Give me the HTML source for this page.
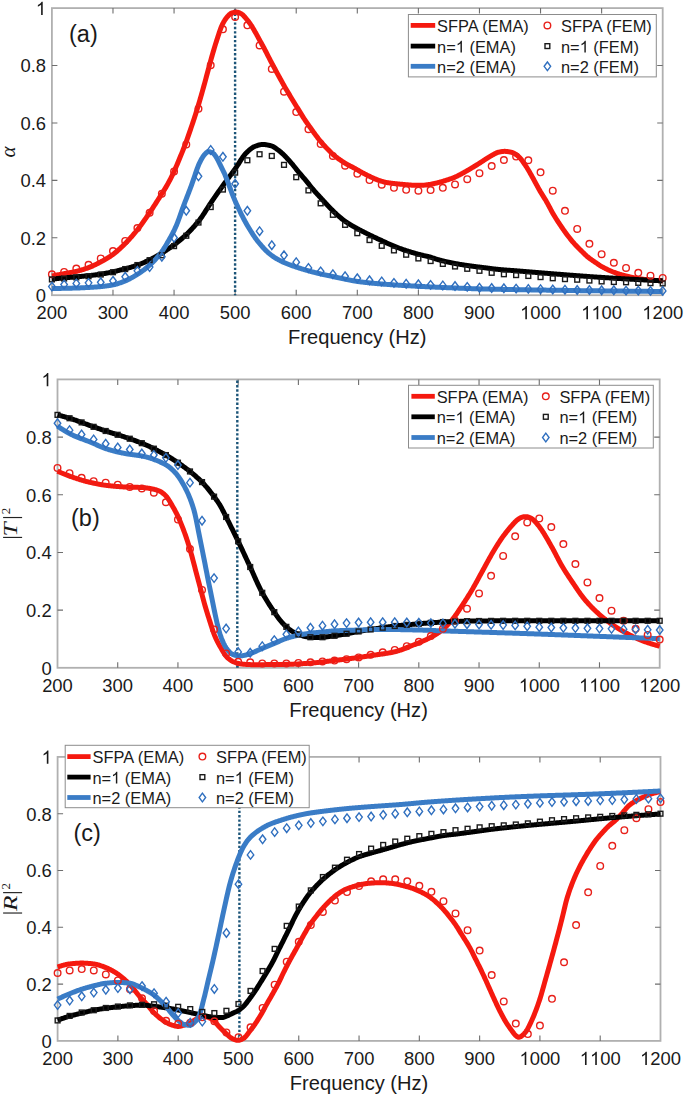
<!DOCTYPE html>
<html><head><meta charset="utf-8"><style>
html,body{margin:0;padding:0;background:#fff;}
body{width:685px;height:1094px;overflow:hidden;}
svg{display:block;font-family:"Liberation Sans", sans-serif;}
</style></head><body>
<svg width="685" height="1094" viewBox="0 0 685 1094">
<rect width="685" height="1094" fill="#fff"/>
<rect x="51.90" y="8.10" width="610.80" height="287.10" fill="none" stroke="#b0b0b0" stroke-width="1.8"/>
<path d="M112.98 295.20V289.70M112.98 8.10V13.60M174.06 295.20V289.70M174.06 8.10V13.60M235.14 295.20V289.70M235.14 8.10V13.60M296.22 295.20V289.70M296.22 8.10V13.60M357.30 295.20V289.70M357.30 8.10V13.60M418.38 295.20V289.70M418.38 8.10V13.60M479.46 295.20V289.70M479.46 8.10V13.60M540.54 295.20V289.70M540.54 8.10V13.60M601.62 295.20V289.70M601.62 8.10V13.60M51.90 237.78H57.40M662.70 237.78H657.20M51.90 180.36H57.40M662.70 180.36H657.20M51.90 122.94H57.40M662.70 122.94H657.20M51.90 65.52H57.40M662.70 65.52H657.20" stroke="#6e6e6e" stroke-width="1.1" fill="none"/>
<line x1="235.10" y1="9.30" x2="235.10" y2="295.20" stroke="#1b5478" stroke-width="2.4" stroke-dasharray="2.4 1.98"/>
<g fill="none" stroke-width="5.0" stroke-linejoin="round" stroke-linecap="butt">
<path d="M51.90 275.96L52.51 275.85L53.12 275.73L53.73 275.62L54.34 275.50L54.95 275.39L55.56 275.28L56.18 275.16L56.79 275.05L57.40 274.93L58.01 274.82L58.62 274.70L59.23 274.59L59.84 274.47L60.45 274.36L61.06 274.24L61.67 274.13L62.28 274.01L62.89 273.90L63.51 273.78L64.12 273.67L64.73 273.55L65.34 273.44L65.95 273.33L66.56 273.23L67.17 273.12L67.78 273.01L68.39 272.91L69.00 272.80L69.61 272.69L70.22 272.59L70.83 272.48L71.45 272.37L72.06 272.26L72.67 272.14L73.28 272.02L73.89 271.90L74.50 271.77L75.11 271.64L75.72 271.51L76.33 271.37L76.94 271.23L77.55 271.08L78.16 270.92L78.78 270.76L79.39 270.60L80.00 270.43L80.61 270.26L81.22 270.08L81.83 269.90L82.44 269.71L83.05 269.52L83.66 269.33L84.27 269.13L84.88 268.93L85.49 268.72L86.10 268.51L86.72 268.30L87.33 268.08L87.94 267.86L88.55 267.64L89.16 267.41L89.77 267.17L90.38 266.92L90.99 266.67L91.60 266.41L92.21 266.14L92.82 265.87L93.43 265.59L94.05 265.30L94.66 265.01L95.27 264.72L95.88 264.42L96.49 264.11L97.10 263.81L97.71 263.49L98.32 263.18L98.93 262.86L99.54 262.54L100.15 262.22L100.76 261.90L101.37 261.57L101.99 261.24L102.60 260.91L103.21 260.57L103.82 260.23L104.43 259.89L105.04 259.54L105.65 259.19L106.26 258.83L106.87 258.46L107.48 258.09L108.09 257.71L108.70 257.33L109.32 256.94L109.93 256.54L110.54 256.14L111.15 255.72L111.76 255.30L112.37 254.87L112.98 254.43L113.59 253.98L114.20 253.52L114.81 253.04L115.42 252.55L116.03 252.05L116.64 251.54L117.26 251.02L117.87 250.48L118.48 249.94L119.09 249.39L119.70 248.83L120.31 248.26L120.92 247.69L121.53 247.11L122.14 246.52L122.75 245.93L123.36 245.34L123.97 244.73L124.59 244.13L125.20 243.52L125.81 242.91L126.42 242.29L127.03 241.66L127.64 241.02L128.25 240.37L128.86 239.71L129.47 239.05L130.08 238.38L130.69 237.70L131.30 237.01L131.91 236.32L132.53 235.62L133.14 234.91L133.75 234.19L134.36 233.47L134.97 232.73L135.58 232.00L136.19 231.25L136.80 230.50L137.41 229.74L138.02 228.97L138.63 228.19L139.24 227.40L139.86 226.59L140.47 225.77L141.08 224.95L141.69 224.11L142.30 223.26L142.91 222.41L143.52 221.55L144.13 220.68L144.74 219.81L145.35 218.93L145.96 218.05L146.57 217.16L147.18 216.27L147.80 215.38L148.41 214.49L149.02 213.59L149.63 212.69L150.24 211.79L150.85 210.87L151.46 209.95L152.07 209.03L152.68 208.09L153.29 207.16L153.90 206.22L154.51 205.27L155.13 204.32L155.74 203.37L156.35 202.41L156.96 201.45L157.57 200.49L158.18 199.53L158.79 198.57L159.40 197.60L160.01 196.64L160.62 195.67L161.23 194.71L161.84 193.76L162.45 192.80L163.07 191.84L163.68 190.88L164.29 189.90L164.90 188.91L165.51 187.90L166.12 186.87L166.73 185.81L167.34 184.73L167.95 183.63L168.56 182.52L169.17 181.38L169.78 180.22L170.40 179.04L171.01 177.84L171.62 176.62L172.23 175.38L172.84 174.11L173.45 172.82L174.06 171.49L174.67 170.13L175.28 168.73L175.89 167.31L176.50 165.87L177.11 164.42L177.72 162.95L178.34 161.47L178.95 160.00L179.56 158.53L180.17 157.05L180.78 155.57L181.39 154.08L182.00 152.58L182.61 151.06L183.22 149.53L183.83 147.97L184.44 146.40L185.05 144.80L185.67 143.17L186.28 141.51L186.89 139.83L187.50 138.12L188.11 136.39L188.72 134.64L189.33 132.88L189.94 131.11L190.55 129.32L191.16 127.53L191.77 125.74L192.38 123.93L192.99 122.11L193.61 120.28L194.22 118.43L194.83 116.56L195.44 114.68L196.05 112.76L196.66 110.82L197.27 108.85L197.88 106.85L198.49 104.81L199.10 102.75L199.71 100.65L200.32 98.54L200.94 96.41L201.55 94.26L202.16 92.10L202.77 89.93L203.38 87.75L203.99 85.54L204.60 83.30L205.21 81.05L205.82 78.78L206.43 76.52L207.04 74.25L207.65 72.00L208.26 69.75L208.88 67.48L209.49 65.20L210.10 62.92L210.71 60.67L211.32 58.44L211.93 56.25L212.54 54.11L213.15 52.01L213.76 49.93L214.37 47.88L214.98 45.86L215.59 43.87L216.21 41.93L216.82 40.02L217.43 38.16L218.04 36.30L218.65 34.42L219.26 32.57L219.87 30.76L220.48 29.04L221.09 27.43L221.70 25.96L222.31 24.66L222.92 23.46L223.53 22.31L224.15 21.23L224.76 20.23L225.37 19.29L225.98 18.43L226.59 17.65L227.20 16.94L227.81 16.24L228.42 15.56L229.03 14.92L229.64 14.33L230.25 13.82L230.86 13.40L231.48 13.09L232.09 12.89L232.70 12.72L233.31 12.57L233.92 12.43L234.53 12.31L235.14 12.22L235.75 12.15L236.36 12.12L236.97 12.13L237.58 12.22L238.19 12.38L238.80 12.59L239.42 12.85L240.03 13.14L240.64 13.45L241.25 13.78L241.86 14.14L242.47 14.61L243.08 15.18L243.69 15.81L244.30 16.50L244.91 17.22L245.52 17.94L246.13 18.65L246.75 19.36L247.36 20.09L247.97 20.85L248.58 21.64L249.19 22.45L249.80 23.29L250.41 24.15L251.02 25.04L251.63 25.97L252.24 26.94L252.85 27.96L253.46 29.00L254.07 30.06L254.69 31.14L255.30 32.22L255.91 33.29L256.52 34.37L257.13 35.47L257.74 36.58L258.35 37.70L258.96 38.83L259.57 39.95L260.18 41.08L260.79 42.20L261.40 43.32L262.02 44.43L262.63 45.55L263.24 46.67L263.85 47.79L264.46 48.92L265.07 50.07L265.68 51.23L266.29 52.41L266.90 53.61L267.51 54.82L268.12 56.03L268.73 57.25L269.34 58.45L269.96 59.65L270.57 60.82L271.18 61.98L271.79 63.13L272.40 64.27L273.01 65.40L273.62 66.54L274.23 67.67L274.84 68.80L275.45 69.93L276.06 71.07L276.67 72.20L277.29 73.33L277.90 74.45L278.51 75.58L279.12 76.70L279.73 77.82L280.34 78.93L280.95 80.05L281.56 81.17L282.17 82.29L282.78 83.39L283.39 84.50L284.00 85.58L284.61 86.66L285.23 87.72L285.84 88.76L286.45 89.79L287.06 90.82L287.67 91.84L288.28 92.85L288.89 93.87L289.50 94.89L290.11 95.91L290.72 96.93L291.33 97.96L291.94 98.98L292.56 99.99L293.17 101.01L293.78 102.01L294.39 103.01L295.00 104.00L295.61 104.99L296.22 105.97L296.83 106.96L297.44 107.94L298.05 108.92L298.66 109.90L299.27 110.88L299.88 111.87L300.50 112.86L301.11 113.86L301.72 114.85L302.33 115.85L302.94 116.83L303.55 117.80L304.16 118.76L304.77 119.70L305.38 120.62L305.99 121.52L306.60 122.40L307.21 123.27L307.83 124.14L308.44 124.99L309.05 125.84L309.66 126.69L310.27 127.54L310.88 128.39L311.49 129.25L312.10 130.12L312.71 130.98L313.32 131.84L313.93 132.70L314.54 133.55L315.15 134.39L315.77 135.22L316.38 136.03L316.99 136.83L317.60 137.62L318.21 138.41L318.82 139.18L319.43 139.95L320.04 140.71L320.65 141.45L321.26 142.18L321.87 142.90L322.48 143.61L323.10 144.30L323.71 144.99L324.32 145.66L324.93 146.32L325.54 146.97L326.15 147.61L326.76 148.24L327.37 148.87L327.98 149.49L328.59 150.11L329.20 150.73L329.81 151.35L330.42 151.96L331.04 152.56L331.65 153.16L332.26 153.74L332.87 154.31L333.48 154.85L334.09 155.38L334.70 155.89L335.31 156.38L335.92 156.86L336.53 157.33L337.14 157.79L337.75 158.24L338.37 158.68L338.98 159.12L339.59 159.55L340.20 159.98L340.81 160.40L341.42 160.83L342.03 161.25L342.64 161.66L343.25 162.06L343.86 162.46L344.47 162.85L345.08 163.23L345.69 163.60L346.31 163.96L346.92 164.30L347.53 164.63L348.14 164.95L348.75 165.27L349.36 165.58L349.97 165.89L350.58 166.19L351.19 166.50L351.80 166.81L352.41 167.11L353.02 167.43L353.64 167.75L354.25 168.08L354.86 168.42L355.47 168.76L356.08 169.11L356.69 169.47L357.30 169.82L357.91 170.18L358.52 170.53L359.13 170.89L359.74 171.24L360.35 171.59L360.96 171.94L361.58 172.28L362.19 172.61L362.80 172.93L363.41 173.26L364.02 173.58L364.63 173.90L365.24 174.22L365.85 174.53L366.46 174.84L367.07 175.15L367.68 175.45L368.29 175.75L368.91 176.05L369.52 176.34L370.13 176.63L370.74 176.91L371.35 177.20L371.96 177.49L372.57 177.77L373.18 178.05L373.79 178.33L374.40 178.61L375.01 178.87L375.62 179.13L376.23 179.38L376.85 179.62L377.46 179.85L378.07 180.07L378.68 180.28L379.29 180.49L379.90 180.70L380.51 180.90L381.12 181.09L381.73 181.28L382.34 181.46L382.95 181.64L383.56 181.81L384.18 181.96L384.79 182.11L385.40 182.25L386.01 182.37L386.62 182.48L387.23 182.59L387.84 182.70L388.45 182.79L389.06 182.89L389.67 182.98L390.28 183.06L390.89 183.14L391.50 183.22L392.12 183.30L392.73 183.37L393.34 183.45L393.95 183.52L394.56 183.59L395.17 183.66L395.78 183.72L396.39 183.79L397.00 183.85L397.61 183.91L398.22 183.97L398.83 184.03L399.45 184.09L400.06 184.15L400.67 184.20L401.28 184.26L401.89 184.31L402.50 184.36L403.11 184.41L403.72 184.47L404.33 184.52L404.94 184.57L405.55 184.62L406.16 184.67L406.77 184.72L407.39 184.77L408.00 184.83L408.61 184.89L409.22 184.95L409.83 185.01L410.44 185.06L411.05 185.11L411.66 185.15L412.27 185.19L412.88 185.22L413.49 185.23L414.10 185.24L414.72 185.24L415.33 185.24L415.94 185.24L416.55 185.24L417.16 185.24L417.77 185.24L418.38 185.24L418.99 185.24L419.60 185.24L420.21 185.24L420.82 185.24L421.43 185.24L422.04 185.24L422.66 185.23L423.27 185.21L423.88 185.17L424.49 185.12L425.10 185.06L425.71 184.99L426.32 184.91L426.93 184.83L427.54 184.74L428.15 184.65L428.76 184.56L429.37 184.47L429.99 184.38L430.60 184.29L431.21 184.18L431.82 184.07L432.43 183.95L433.04 183.82L433.65 183.69L434.26 183.55L434.87 183.41L435.48 183.26L436.09 183.11L436.70 182.96L437.31 182.81L437.93 182.66L438.54 182.50L439.15 182.34L439.76 182.18L440.37 182.01L440.98 181.84L441.59 181.66L442.20 181.49L442.81 181.30L443.42 181.12L444.03 180.93L444.64 180.74L445.26 180.55L445.87 180.36L446.48 180.17L447.09 179.97L447.70 179.78L448.31 179.58L448.92 179.38L449.53 179.18L450.14 178.97L450.75 178.76L451.36 178.54L451.97 178.32L452.58 178.09L453.20 177.86L453.81 177.61L454.42 177.36L455.03 177.10L455.64 176.82L456.25 176.54L456.86 176.25L457.47 175.94L458.08 175.63L458.69 175.32L459.30 175.00L459.91 174.68L460.53 174.35L461.14 174.03L461.75 173.70L462.36 173.37L462.97 173.04L463.58 172.70L464.19 172.36L464.80 172.02L465.41 171.67L466.02 171.32L466.63 170.96L467.24 170.60L467.85 170.25L468.47 169.89L469.08 169.52L469.69 169.16L470.30 168.80L470.91 168.44L471.52 168.08L472.13 167.72L472.74 167.35L473.35 166.99L473.96 166.62L474.57 166.25L475.18 165.88L475.80 165.51L476.41 165.13L477.02 164.76L477.63 164.38L478.24 164.00L478.85 163.61L479.46 163.22L480.07 162.82L480.68 162.42L481.29 162.01L481.90 161.61L482.51 161.20L483.12 160.80L483.74 160.40L484.35 160.00L484.96 159.60L485.57 159.21L486.18 158.83L486.79 158.45L487.40 158.06L488.01 157.68L488.62 157.30L489.23 156.92L489.84 156.55L490.45 156.18L491.07 155.82L491.68 155.47L492.29 155.13L492.90 154.81L493.51 154.48L494.12 154.14L494.73 153.80L495.34 153.47L495.95 153.15L496.56 152.86L497.17 152.60L497.78 152.39L498.39 152.22L499.01 152.09L499.62 151.96L500.23 151.84L500.84 151.73L501.45 151.63L502.06 151.54L502.67 151.46L503.28 151.41L503.89 151.37L504.50 151.36L505.11 151.37L505.72 151.40L506.34 151.44L506.95 151.50L507.56 151.58L508.17 151.66L508.78 151.76L509.39 151.86L510.00 151.98L510.61 152.10L511.22 152.22L511.83 152.38L512.44 152.58L513.05 152.83L513.66 153.13L514.28 153.46L514.89 153.83L515.50 154.22L516.11 154.65L516.72 155.09L517.33 155.56L517.94 156.04L518.55 156.53L519.16 157.07L519.77 157.68L520.38 158.36L520.99 159.10L521.61 159.89L522.22 160.72L522.83 161.58L523.44 162.46L524.05 163.35L524.66 164.25L525.27 165.14L525.88 166.05L526.49 166.99L527.10 167.97L527.71 168.97L528.32 169.99L528.93 171.04L529.55 172.10L530.16 173.17L530.77 174.25L531.38 175.33L531.99 176.41L532.60 177.49L533.21 178.58L533.82 179.69L534.43 180.82L535.04 181.96L535.65 183.10L536.26 184.25L536.88 185.40L537.49 186.54L538.10 187.66L538.71 188.76L539.32 189.83L539.93 190.88L540.54 191.91L541.15 192.91L541.76 193.90L542.37 194.89L542.98 195.86L543.59 196.84L544.20 197.82L544.82 198.81L545.43 199.82L546.04 200.84L546.65 201.89L547.26 202.97L547.87 204.08L548.48 205.21L549.09 206.36L549.70 207.52L550.31 208.68L550.92 209.83L551.53 210.97L552.15 212.09L552.76 213.18L553.37 214.24L553.98 215.26L554.59 216.27L555.20 217.27L555.81 218.25L556.42 219.22L557.03 220.17L557.64 221.12L558.25 222.05L558.86 222.98L559.47 223.90L560.09 224.81L560.70 225.72L561.31 226.63L561.92 227.52L562.53 228.41L563.14 229.30L563.75 230.17L564.36 231.04L564.97 231.89L565.58 232.74L566.19 233.57L566.80 234.39L567.42 235.20L568.03 235.99L568.64 236.78L569.25 237.55L569.86 238.32L570.47 239.08L571.08 239.83L571.69 240.56L572.30 241.29L572.91 242.01L573.52 242.72L574.13 243.41L574.74 244.10L575.36 244.77L575.97 245.43L576.58 246.07L577.19 246.71L577.80 247.34L578.41 247.96L579.02 248.57L579.63 249.18L580.24 249.79L580.85 250.39L581.46 250.99L582.07 251.59L582.69 252.19L583.30 252.80L583.91 253.40L584.52 254.00L585.13 254.58L585.74 255.16L586.35 255.72L586.96 256.27L587.57 256.80L588.18 257.30L588.79 257.79L589.40 258.26L590.01 258.71L590.63 259.15L591.24 259.58L591.85 260.00L592.46 260.42L593.07 260.83L593.68 261.24L594.29 261.65L594.90 262.06L595.51 262.47L596.12 262.89L596.73 263.31L597.34 263.73L597.96 264.16L598.57 264.57L599.18 264.98L599.79 265.38L600.40 265.77L601.01 266.14L601.62 266.49L602.23 266.83L602.84 267.16L603.45 267.49L604.06 267.82L604.67 268.13L605.28 268.45L605.90 268.76L606.51 269.06L607.12 269.36L607.73 269.65L608.34 269.93L608.95 270.21L609.56 270.49L610.17 270.76L610.78 271.02L611.39 271.27L612.00 271.52L612.61 271.77L613.23 272.00L613.84 272.23L614.45 272.46L615.06 272.68L615.67 272.89L616.28 273.10L616.89 273.31L617.50 273.51L618.11 273.71L618.72 273.90L619.33 274.09L619.94 274.28L620.55 274.47L621.17 274.65L621.78 274.82L622.39 274.99L623.00 275.16L623.61 275.33L624.22 275.49L624.83 275.65L625.44 275.81L626.05 275.96L626.66 276.12L627.27 276.27L627.88 276.42L628.50 276.56L629.11 276.71L629.72 276.86L630.33 277.00L630.94 277.14L631.55 277.27L632.16 277.41L632.77 277.54L633.38 277.67L633.99 277.79L634.60 277.91L635.21 278.03L635.82 278.14L636.44 278.25L637.05 278.35L637.66 278.45L638.27 278.55L638.88 278.64L639.49 278.73L640.10 278.81L640.71 278.90L641.32 278.98L641.93 279.06L642.54 279.14L643.15 279.22L643.77 279.29L644.38 279.36L644.99 279.43L645.60 279.50L646.21 279.57L646.82 279.63L647.43 279.69L648.04 279.76L648.65 279.82L649.26 279.87L649.87 279.93L650.48 279.98L651.09 280.04L651.71 280.09L652.32 280.14L652.93 280.19L653.54 280.24L654.15 280.29L654.76 280.34L655.37 280.39L655.98 280.43L656.59 280.48L657.20 280.52L657.81 280.56L658.42 280.60L659.04 280.64L659.65 280.68L660.26 280.72L660.87 280.75L661.48 280.78L662.09 280.82L662.70 280.84" stroke="#f5190f"/>
<path d="M51.90 279.12L52.51 279.05L53.12 278.99L53.73 278.92L54.34 278.85L54.95 278.78L55.56 278.72L56.18 278.65L56.79 278.59L57.40 278.52L58.01 278.46L58.62 278.40L59.23 278.33L59.84 278.27L60.45 278.21L61.06 278.15L61.67 278.09L62.28 278.03L62.89 277.97L63.51 277.92L64.12 277.86L64.73 277.81L65.34 277.75L65.95 277.70L66.56 277.65L67.17 277.59L67.78 277.54L68.39 277.49L69.00 277.44L69.61 277.39L70.22 277.34L70.83 277.29L71.45 277.24L72.06 277.19L72.67 277.14L73.28 277.09L73.89 277.04L74.50 276.99L75.11 276.93L75.72 276.88L76.33 276.83L76.94 276.77L77.55 276.72L78.16 276.66L78.78 276.61L79.39 276.55L80.00 276.50L80.61 276.44L81.22 276.39L81.83 276.33L82.44 276.28L83.05 276.22L83.66 276.16L84.27 276.11L84.88 276.05L85.49 275.99L86.10 275.93L86.72 275.87L87.33 275.81L87.94 275.74L88.55 275.68L89.16 275.61L89.77 275.55L90.38 275.48L90.99 275.41L91.60 275.34L92.21 275.27L92.82 275.20L93.43 275.13L94.05 275.06L94.66 274.98L95.27 274.91L95.88 274.83L96.49 274.75L97.10 274.67L97.71 274.59L98.32 274.51L98.93 274.42L99.54 274.33L100.15 274.24L100.76 274.15L101.37 274.05L101.99 273.95L102.60 273.85L103.21 273.75L103.82 273.64L104.43 273.53L105.04 273.42L105.65 273.31L106.26 273.19L106.87 273.07L107.48 272.95L108.09 272.83L108.70 272.71L109.32 272.59L109.93 272.46L110.54 272.33L111.15 272.20L111.76 272.08L112.37 271.94L112.98 271.81L113.59 271.68L114.20 271.54L114.81 271.40L115.42 271.25L116.03 271.11L116.64 270.96L117.26 270.81L117.87 270.66L118.48 270.50L119.09 270.35L119.70 270.19L120.31 270.03L120.92 269.88L121.53 269.72L122.14 269.56L122.75 269.40L123.36 269.23L123.97 269.07L124.59 268.91L125.20 268.75L125.81 268.59L126.42 268.44L127.03 268.28L127.64 268.12L128.25 267.96L128.86 267.79L129.47 267.63L130.08 267.47L130.69 267.30L131.30 267.13L131.91 266.95L132.53 266.78L133.14 266.60L133.75 266.41L134.36 266.22L134.97 266.03L135.58 265.83L136.19 265.63L136.80 265.42L137.41 265.20L138.02 264.98L138.63 264.75L139.24 264.51L139.86 264.27L140.47 264.02L141.08 263.77L141.69 263.51L142.30 263.25L142.91 262.99L143.52 262.72L144.13 262.45L144.74 262.17L145.35 261.89L145.96 261.61L146.57 261.32L147.18 261.04L147.80 260.75L148.41 260.46L149.02 260.17L149.63 259.87L150.24 259.57L150.85 259.27L151.46 258.96L152.07 258.64L152.68 258.32L153.29 258.00L153.90 257.68L154.51 257.35L155.13 257.01L155.74 256.68L156.35 256.34L156.96 255.99L157.57 255.64L158.18 255.29L158.79 254.94L159.40 254.58L160.01 254.22L160.62 253.86L161.23 253.49L161.84 253.12L162.45 252.74L163.07 252.36L163.68 251.97L164.29 251.58L164.90 251.18L165.51 250.78L166.12 250.37L166.73 249.96L167.34 249.55L167.95 249.13L168.56 248.71L169.17 248.29L169.78 247.86L170.40 247.42L171.01 246.99L171.62 246.55L172.23 246.11L172.84 245.66L173.45 245.21L174.06 244.76L174.67 244.31L175.28 243.86L175.89 243.40L176.50 242.93L177.11 242.47L177.72 241.99L178.34 241.52L178.95 241.03L179.56 240.54L180.17 240.04L180.78 239.54L181.39 239.03L182.00 238.51L182.61 237.98L183.22 237.45L183.83 236.90L184.44 236.34L185.05 235.78L185.67 235.21L186.28 234.63L186.89 234.04L187.50 233.45L188.11 232.84L188.72 232.23L189.33 231.61L189.94 230.98L190.55 230.34L191.16 229.70L191.77 229.04L192.38 228.38L192.99 227.70L193.61 227.02L194.22 226.33L194.83 225.63L195.44 224.92L196.05 224.20L196.66 223.48L197.27 222.74L197.88 221.99L198.49 221.24L199.10 220.47L199.71 219.69L200.32 218.89L200.94 218.06L201.55 217.21L202.16 216.32L202.77 215.42L203.38 214.49L203.99 213.55L204.60 212.60L205.21 211.63L205.82 210.66L206.43 209.69L207.04 208.72L207.65 207.75L208.26 206.78L208.88 205.82L209.49 204.88L210.10 203.95L210.71 203.04L211.32 202.14L211.93 201.25L212.54 200.35L213.15 199.46L213.76 198.57L214.37 197.69L214.98 196.80L215.59 195.92L216.21 195.04L216.82 194.17L217.43 193.29L218.04 192.42L218.65 191.55L219.26 190.69L219.87 189.82L220.48 188.96L221.09 188.10L221.70 187.24L222.31 186.38L222.92 185.53L223.53 184.68L224.15 183.83L224.76 182.99L225.37 182.16L225.98 181.33L226.59 180.50L227.20 179.67L227.81 178.85L228.42 178.03L229.03 177.20L229.64 176.38L230.25 175.56L230.86 174.74L231.48 173.91L232.09 173.08L232.70 172.25L233.31 171.41L233.92 170.57L234.53 169.73L235.14 168.88L235.75 168.00L236.36 167.10L236.97 166.18L237.58 165.23L238.19 164.28L238.80 163.31L239.42 162.34L240.03 161.38L240.64 160.42L241.25 159.48L241.86 158.55L242.47 157.66L243.08 156.79L243.69 155.95L244.30 155.16L244.91 154.42L245.52 153.72L246.13 153.09L246.75 152.48L247.36 151.89L247.97 151.30L248.58 150.73L249.19 150.17L249.80 149.64L250.41 149.13L251.02 148.64L251.63 148.19L252.24 147.77L252.85 147.38L253.46 147.04L254.07 146.74L254.69 146.48L255.30 146.25L255.91 146.02L256.52 145.80L257.13 145.58L257.74 145.38L258.35 145.19L258.96 145.02L259.57 144.86L260.18 144.73L260.79 144.62L261.40 144.54L262.02 144.49L262.63 144.47L263.24 144.48L263.85 144.51L264.46 144.55L265.07 144.61L265.68 144.68L266.29 144.77L266.90 144.87L267.51 144.97L268.12 145.09L268.73 145.21L269.34 145.35L269.96 145.48L270.57 145.62L271.18 145.79L271.79 146.00L272.40 146.26L273.01 146.56L273.62 146.89L274.23 147.25L274.84 147.65L275.45 148.06L276.06 148.49L276.67 148.94L277.29 149.40L277.90 149.87L278.51 150.33L279.12 150.80L279.73 151.26L280.34 151.74L280.95 152.25L281.56 152.78L282.17 153.33L282.78 153.89L283.39 154.48L284.00 155.08L284.61 155.70L285.23 156.33L285.84 156.97L286.45 157.61L287.06 158.27L287.67 158.93L288.28 159.60L288.89 160.27L289.50 160.94L290.11 161.61L290.72 162.30L291.33 163.01L291.94 163.74L292.56 164.48L293.17 165.24L293.78 166.00L294.39 166.77L295.00 167.54L295.61 168.31L296.22 169.08L296.83 169.83L297.44 170.58L298.05 171.32L298.66 172.05L299.27 172.77L299.88 173.48L300.50 174.20L301.11 174.91L301.72 175.62L302.33 176.33L302.94 177.04L303.55 177.76L304.16 178.47L304.77 179.19L305.38 179.92L305.99 180.65L306.60 181.39L307.21 182.14L307.83 182.89L308.44 183.65L309.05 184.42L309.66 185.19L310.27 185.95L310.88 186.72L311.49 187.47L312.10 188.22L312.71 188.96L313.32 189.69L313.93 190.41L314.54 191.11L315.15 191.80L315.77 192.49L316.38 193.17L316.99 193.84L317.60 194.50L318.21 195.16L318.82 195.82L319.43 196.48L320.04 197.14L320.65 197.79L321.26 198.45L321.87 199.11L322.48 199.77L323.10 200.44L323.71 201.11L324.32 201.78L324.93 202.45L325.54 203.12L326.15 203.79L326.76 204.45L327.37 205.11L327.98 205.76L328.59 206.41L329.20 207.04L329.81 207.67L330.42 208.29L331.04 208.91L331.65 209.53L332.26 210.14L332.87 210.75L333.48 211.35L334.09 211.95L334.70 212.54L335.31 213.12L335.92 213.69L336.53 214.26L337.14 214.81L337.75 215.35L338.37 215.88L338.98 216.41L339.59 216.93L340.20 217.44L340.81 217.95L341.42 218.45L342.03 218.94L342.64 219.42L343.25 219.89L343.86 220.36L344.47 220.81L345.08 221.26L345.69 221.69L346.31 222.12L346.92 222.53L347.53 222.93L348.14 223.32L348.75 223.71L349.36 224.09L349.97 224.46L350.58 224.82L351.19 225.18L351.80 225.54L352.41 225.89L353.02 226.24L353.64 226.59L354.25 226.94L354.86 227.28L355.47 227.62L356.08 227.96L356.69 228.29L357.30 228.62L357.91 228.94L358.52 229.27L359.13 229.59L359.74 229.91L360.35 230.23L360.96 230.54L361.58 230.86L362.19 231.18L362.80 231.49L363.41 231.81L364.02 232.12L364.63 232.44L365.24 232.75L365.85 233.06L366.46 233.37L367.07 233.68L367.68 233.99L368.29 234.29L368.91 234.60L369.52 234.90L370.13 235.20L370.74 235.49L371.35 235.79L371.96 236.08L372.57 236.37L373.18 236.66L373.79 236.95L374.40 237.24L375.01 237.53L375.62 237.81L376.23 238.10L376.85 238.38L377.46 238.66L378.07 238.95L378.68 239.23L379.29 239.51L379.90 239.79L380.51 240.08L381.12 240.36L381.73 240.64L382.34 240.93L382.95 241.21L383.56 241.50L384.18 241.78L384.79 242.07L385.40 242.35L386.01 242.63L386.62 242.91L387.23 243.19L387.84 243.47L388.45 243.74L389.06 244.01L389.67 244.28L390.28 244.54L390.89 244.80L391.50 245.06L392.12 245.32L392.73 245.57L393.34 245.83L393.95 246.08L394.56 246.33L395.17 246.58L395.78 246.82L396.39 247.06L397.00 247.30L397.61 247.54L398.22 247.78L398.83 248.01L399.45 248.24L400.06 248.47L400.67 248.69L401.28 248.91L401.89 249.13L402.50 249.34L403.11 249.56L403.72 249.77L404.33 249.98L404.94 250.18L405.55 250.39L406.16 250.59L406.77 250.79L407.39 250.99L408.00 251.19L408.61 251.38L409.22 251.57L409.83 251.76L410.44 251.95L411.05 252.13L411.66 252.32L412.27 252.50L412.88 252.68L413.49 252.86L414.10 253.03L414.72 253.21L415.33 253.38L415.94 253.55L416.55 253.72L417.16 253.88L417.77 254.05L418.38 254.21L418.99 254.37L419.60 254.53L420.21 254.69L420.82 254.85L421.43 255.01L422.04 255.16L422.66 255.30L423.27 255.45L423.88 255.58L424.49 255.72L425.10 255.85L425.71 255.99L426.32 256.12L426.93 256.26L427.54 256.40L428.15 256.55L428.76 256.70L429.37 256.85L429.99 257.02L430.60 257.19L431.21 257.38L431.82 257.57L432.43 257.78L433.04 257.99L433.65 258.20L434.26 258.41L434.87 258.63L435.48 258.84L436.09 259.04L436.70 259.24L437.31 259.42L437.93 259.60L438.54 259.77L439.15 259.93L439.76 260.09L440.37 260.25L440.98 260.41L441.59 260.57L442.20 260.72L442.81 260.88L443.42 261.03L444.03 261.17L444.64 261.32L445.26 261.46L445.87 261.61L446.48 261.75L447.09 261.88L447.70 262.02L448.31 262.15L448.92 262.29L449.53 262.42L450.14 262.54L450.75 262.67L451.36 262.79L451.97 262.92L452.58 263.04L453.20 263.16L453.81 263.27L454.42 263.39L455.03 263.50L455.64 263.61L456.25 263.72L456.86 263.83L457.47 263.94L458.08 264.04L458.69 264.15L459.30 264.25L459.91 264.35L460.53 264.45L461.14 264.55L461.75 264.65L462.36 264.74L462.97 264.84L463.58 264.93L464.19 265.03L464.80 265.12L465.41 265.21L466.02 265.30L466.63 265.39L467.24 265.48L467.85 265.57L468.47 265.66L469.08 265.74L469.69 265.83L470.30 265.92L470.91 266.00L471.52 266.09L472.13 266.17L472.74 266.25L473.35 266.33L473.96 266.41L474.57 266.49L475.18 266.57L475.80 266.65L476.41 266.72L477.02 266.80L477.63 266.88L478.24 266.95L478.85 267.03L479.46 267.10L480.07 267.18L480.68 267.25L481.29 267.33L481.90 267.40L482.51 267.47L483.12 267.55L483.74 267.62L484.35 267.70L484.96 267.77L485.57 267.85L486.18 267.93L486.79 268.00L487.40 268.08L488.01 268.16L488.62 268.24L489.23 268.32L489.84 268.40L490.45 268.48L491.07 268.56L491.68 268.64L492.29 268.72L492.90 268.80L493.51 268.88L494.12 268.95L494.73 269.03L495.34 269.10L495.95 269.17L496.56 269.24L497.17 269.30L497.78 269.36L498.39 269.42L499.01 269.48L499.62 269.53L500.23 269.59L500.84 269.64L501.45 269.69L502.06 269.74L502.67 269.79L503.28 269.84L503.89 269.89L504.50 269.94L505.11 269.98L505.72 270.03L506.34 270.07L506.95 270.12L507.56 270.16L508.17 270.21L508.78 270.25L509.39 270.30L510.00 270.34L510.61 270.38L511.22 270.43L511.83 270.47L512.44 270.52L513.05 270.56L513.66 270.61L514.28 270.65L514.89 270.70L515.50 270.75L516.11 270.80L516.72 270.85L517.33 270.89L517.94 270.94L518.55 270.99L519.16 271.04L519.77 271.09L520.38 271.14L520.99 271.19L521.61 271.24L522.22 271.30L522.83 271.35L523.44 271.40L524.05 271.45L524.66 271.50L525.27 271.55L525.88 271.60L526.49 271.65L527.10 271.70L527.71 271.75L528.32 271.80L528.93 271.86L529.55 271.91L530.16 271.96L530.77 272.01L531.38 272.06L531.99 272.11L532.60 272.16L533.21 272.21L533.82 272.26L534.43 272.31L535.04 272.36L535.65 272.41L536.26 272.46L536.88 272.51L537.49 272.56L538.10 272.61L538.71 272.66L539.32 272.71L539.93 272.76L540.54 272.81L541.15 272.85L541.76 272.90L542.37 272.95L542.98 273.00L543.59 273.05L544.20 273.10L544.82 273.15L545.43 273.19L546.04 273.24L546.65 273.29L547.26 273.34L547.87 273.39L548.48 273.44L549.09 273.48L549.70 273.53L550.31 273.58L550.92 273.63L551.53 273.68L552.15 273.73L552.76 273.78L553.37 273.82L553.98 273.87L554.59 273.92L555.20 273.97L555.81 274.02L556.42 274.07L557.03 274.12L557.64 274.16L558.25 274.21L558.86 274.26L559.47 274.31L560.09 274.36L560.70 274.41L561.31 274.45L561.92 274.50L562.53 274.55L563.14 274.60L563.75 274.65L564.36 274.69L564.97 274.74L565.58 274.79L566.19 274.84L566.80 274.88L567.42 274.93L568.03 274.98L568.64 275.03L569.25 275.07L569.86 275.12L570.47 275.17L571.08 275.21L571.69 275.26L572.30 275.31L572.91 275.36L573.52 275.40L574.13 275.45L574.74 275.49L575.36 275.54L575.97 275.59L576.58 275.63L577.19 275.68L577.80 275.73L578.41 275.77L579.02 275.82L579.63 275.86L580.24 275.91L580.85 275.95L581.46 276.00L582.07 276.04L582.69 276.09L583.30 276.13L583.91 276.18L584.52 276.22L585.13 276.27L585.74 276.31L586.35 276.35L586.96 276.40L587.57 276.44L588.18 276.49L588.79 276.53L589.40 276.57L590.01 276.62L590.63 276.66L591.24 276.70L591.85 276.74L592.46 276.79L593.07 276.83L593.68 276.87L594.29 276.91L594.90 276.95L595.51 277.00L596.12 277.04L596.73 277.08L597.34 277.12L597.96 277.16L598.57 277.20L599.18 277.24L599.79 277.28L600.40 277.32L601.01 277.36L601.62 277.40L602.23 277.44L602.84 277.48L603.45 277.52L604.06 277.56L604.67 277.60L605.28 277.63L605.90 277.67L606.51 277.71L607.12 277.75L607.73 277.79L608.34 277.83L608.95 277.87L609.56 277.90L610.17 277.94L610.78 277.98L611.39 278.02L612.00 278.06L612.61 278.09L613.23 278.13L613.84 278.17L614.45 278.21L615.06 278.25L615.67 278.28L616.28 278.32L616.89 278.36L617.50 278.39L618.11 278.43L618.72 278.47L619.33 278.51L619.94 278.54L620.55 278.58L621.17 278.62L621.78 278.65L622.39 278.69L623.00 278.72L623.61 278.76L624.22 278.80L624.83 278.83L625.44 278.87L626.05 278.90L626.66 278.94L627.27 278.98L627.88 279.01L628.50 279.05L629.11 279.08L629.72 279.12L630.33 279.15L630.94 279.19L631.55 279.22L632.16 279.26L632.77 279.29L633.38 279.32L633.99 279.36L634.60 279.39L635.21 279.43L635.82 279.46L636.44 279.50L637.05 279.53L637.66 279.56L638.27 279.60L638.88 279.63L639.49 279.66L640.10 279.70L640.71 279.73L641.32 279.76L641.93 279.80L642.54 279.83L643.15 279.86L643.77 279.89L644.38 279.93L644.99 279.96L645.60 279.99L646.21 280.02L646.82 280.06L647.43 280.09L648.04 280.12L648.65 280.15L649.26 280.18L649.87 280.21L650.48 280.25L651.09 280.28L651.71 280.31L652.32 280.34L652.93 280.37L653.54 280.40L654.15 280.43L654.76 280.46L655.37 280.49L655.98 280.52L656.59 280.55L657.20 280.58L657.81 280.61L658.42 280.64L659.04 280.67L659.65 280.70L660.26 280.73L660.87 280.76L661.48 280.79L662.09 280.82L662.70 280.84" stroke="#000000"/>
<path d="M51.90 288.60L52.51 288.58L53.12 288.57L53.73 288.55L54.34 288.54L54.95 288.52L55.56 288.51L56.18 288.50L56.79 288.48L57.40 288.47L58.01 288.45L58.62 288.44L59.23 288.42L59.84 288.41L60.45 288.40L61.06 288.38L61.67 288.37L62.28 288.35L62.89 288.34L63.51 288.32L64.12 288.31L64.73 288.30L65.34 288.28L65.95 288.27L66.56 288.26L67.17 288.24L67.78 288.23L68.39 288.22L69.00 288.20L69.61 288.19L70.22 288.18L70.83 288.16L71.45 288.15L72.06 288.14L72.67 288.12L73.28 288.11L73.89 288.09L74.50 288.08L75.11 288.06L75.72 288.04L76.33 288.02L76.94 288.00L77.55 287.98L78.16 287.96L78.78 287.94L79.39 287.91L80.00 287.89L80.61 287.86L81.22 287.83L81.83 287.80L82.44 287.77L83.05 287.74L83.66 287.71L84.27 287.68L84.88 287.65L85.49 287.62L86.10 287.58L86.72 287.55L87.33 287.52L87.94 287.48L88.55 287.45L89.16 287.41L89.77 287.38L90.38 287.34L90.99 287.31L91.60 287.27L92.21 287.23L92.82 287.20L93.43 287.16L94.05 287.12L94.66 287.08L95.27 287.03L95.88 286.99L96.49 286.94L97.10 286.90L97.71 286.85L98.32 286.80L98.93 286.75L99.54 286.70L100.15 286.64L100.76 286.59L101.37 286.53L101.99 286.47L102.60 286.40L103.21 286.34L103.82 286.27L104.43 286.20L105.04 286.12L105.65 286.04L106.26 285.96L106.87 285.88L107.48 285.79L108.09 285.70L108.70 285.61L109.32 285.52L109.93 285.42L110.54 285.31L111.15 285.21L111.76 285.10L112.37 284.98L112.98 284.86L113.59 284.74L114.20 284.60L114.81 284.46L115.42 284.30L116.03 284.14L116.64 283.97L117.26 283.79L117.87 283.60L118.48 283.41L119.09 283.21L119.70 283.00L120.31 282.79L120.92 282.57L121.53 282.35L122.14 282.12L122.75 281.89L123.36 281.66L123.97 281.42L124.59 281.18L125.20 280.92L125.81 280.66L126.42 280.39L127.03 280.11L127.64 279.82L128.25 279.53L128.86 279.22L129.47 278.91L130.08 278.59L130.69 278.27L131.30 277.93L131.91 277.60L132.53 277.25L133.14 276.91L133.75 276.55L134.36 276.20L134.97 275.84L135.58 275.47L136.19 275.10L136.80 274.73L137.41 274.35L138.02 273.96L138.63 273.57L139.24 273.17L139.86 272.76L140.47 272.34L141.08 271.92L141.69 271.49L142.30 271.05L142.91 270.60L143.52 270.14L144.13 269.68L144.74 269.21L145.35 268.73L145.96 268.24L146.57 267.74L147.18 267.24L147.80 266.73L148.41 266.20L149.02 265.67L149.63 265.13L150.24 264.58L150.85 264.01L151.46 263.44L152.07 262.85L152.68 262.25L153.29 261.64L153.90 261.02L154.51 260.39L155.13 259.74L155.74 259.08L156.35 258.40L156.96 257.71L157.57 257.01L158.18 256.30L158.79 255.57L159.40 254.82L160.01 254.06L160.62 253.28L161.23 252.48L161.84 251.64L162.45 250.76L163.07 249.85L163.68 248.91L164.29 247.94L164.90 246.96L165.51 245.95L166.12 244.93L166.73 243.89L167.34 242.85L167.95 241.80L168.56 240.74L169.17 239.68L169.78 238.61L170.40 237.52L171.01 236.41L171.62 235.29L172.23 234.14L172.84 232.96L173.45 231.75L174.06 230.52L174.67 229.24L175.28 227.93L175.89 226.58L176.50 225.16L177.11 223.66L177.72 222.08L178.34 220.45L178.95 218.76L179.56 217.05L180.17 215.31L180.78 213.57L181.39 211.83L182.00 210.11L182.61 208.42L183.22 206.77L183.83 205.16L184.44 203.56L185.05 201.97L185.67 200.39L186.28 198.82L186.89 197.25L187.50 195.67L188.11 194.10L188.72 192.52L189.33 190.93L189.94 189.34L190.55 187.73L191.16 186.10L191.77 184.43L192.38 182.70L192.99 180.92L193.61 179.10L194.22 177.27L194.83 175.44L195.44 173.62L196.05 171.83L196.66 170.09L197.27 168.40L197.88 166.79L198.49 165.27L199.10 163.86L199.71 162.56L200.32 161.34L200.94 160.16L201.55 159.02L202.16 157.95L202.77 156.95L203.38 156.03L203.99 155.22L204.60 154.52L205.21 153.87L205.82 153.21L206.43 152.61L207.04 152.11L207.65 151.77L208.26 151.65L208.88 151.68L209.49 151.77L210.10 151.91L210.71 152.09L211.32 152.29L211.93 152.51L212.54 152.81L213.15 153.24L213.76 153.79L214.37 154.47L214.98 155.25L215.59 156.12L216.21 157.08L216.82 158.12L217.43 159.22L218.04 160.37L218.65 161.57L219.26 162.80L219.87 164.05L220.48 165.32L221.09 166.59L221.70 167.85L222.31 169.10L222.92 170.31L223.53 171.55L224.15 172.87L224.76 174.26L225.37 175.70L225.98 177.21L226.59 178.76L227.20 180.35L227.81 181.97L228.42 183.61L229.03 185.27L229.64 186.94L230.25 188.60L230.86 190.26L231.48 191.91L232.09 193.53L232.70 195.12L233.31 196.68L233.92 198.18L234.53 199.64L235.14 201.03L235.75 202.39L236.36 203.73L236.97 205.06L237.58 206.39L238.19 207.70L238.80 208.99L239.42 210.27L240.03 211.54L240.64 212.80L241.25 214.04L241.86 215.26L242.47 216.46L243.08 217.65L243.69 218.82L244.30 219.98L244.91 221.11L245.52 222.22L246.13 223.31L246.75 224.38L247.36 225.43L247.97 226.47L248.58 227.49L249.19 228.51L249.80 229.51L250.41 230.50L251.02 231.48L251.63 232.45L252.24 233.40L252.85 234.34L253.46 235.27L254.07 236.17L254.69 237.07L255.30 237.94L255.91 238.80L256.52 239.63L257.13 240.45L257.74 241.25L258.35 242.03L258.96 242.79L259.57 243.52L260.18 244.24L260.79 244.95L261.40 245.65L262.02 246.35L262.63 247.03L263.24 247.70L263.85 248.36L264.46 249.01L265.07 249.64L265.68 250.26L266.29 250.87L266.90 251.46L267.51 252.04L268.12 252.60L268.73 253.14L269.34 253.67L269.96 254.17L270.57 254.66L271.18 255.13L271.79 255.58L272.40 256.01L273.01 256.43L273.62 256.84L274.23 257.24L274.84 257.63L275.45 258.01L276.06 258.38L276.67 258.74L277.29 259.09L277.90 259.43L278.51 259.77L279.12 260.09L279.73 260.41L280.34 260.72L280.95 261.03L281.56 261.33L282.17 261.62L282.78 261.91L283.39 262.19L284.00 262.47L284.61 262.74L285.23 263.01L285.84 263.27L286.45 263.52L287.06 263.77L287.67 264.01L288.28 264.25L288.89 264.49L289.50 264.72L290.11 264.94L290.72 265.16L291.33 265.38L291.94 265.60L292.56 265.81L293.17 266.03L293.78 266.24L294.39 266.44L295.00 266.65L295.61 266.86L296.22 267.06L296.83 267.27L297.44 267.47L298.05 267.67L298.66 267.87L299.27 268.07L299.88 268.26L300.50 268.45L301.11 268.64L301.72 268.83L302.33 269.02L302.94 269.20L303.55 269.39L304.16 269.57L304.77 269.75L305.38 269.93L305.99 270.10L306.60 270.28L307.21 270.45L307.83 270.62L308.44 270.80L309.05 270.97L309.66 271.14L310.27 271.30L310.88 271.47L311.49 271.64L312.10 271.80L312.71 271.97L313.32 272.13L313.93 272.29L314.54 272.45L315.15 272.61L315.77 272.76L316.38 272.92L316.99 273.07L317.60 273.22L318.21 273.37L318.82 273.52L319.43 273.67L320.04 273.81L320.65 273.95L321.26 274.10L321.87 274.23L322.48 274.37L323.10 274.50L323.71 274.64L324.32 274.77L324.93 274.90L325.54 275.03L326.15 275.15L326.76 275.28L327.37 275.40L327.98 275.53L328.59 275.65L329.20 275.78L329.81 275.90L330.42 276.03L331.04 276.16L331.65 276.28L332.26 276.41L332.87 276.54L333.48 276.67L334.09 276.80L334.70 276.93L335.31 277.06L335.92 277.19L336.53 277.32L337.14 277.45L337.75 277.59L338.37 277.72L338.98 277.85L339.59 277.98L340.20 278.11L340.81 278.24L341.42 278.37L342.03 278.50L342.64 278.63L343.25 278.75L343.86 278.88L344.47 279.00L345.08 279.12L345.69 279.24L346.31 279.37L346.92 279.49L347.53 279.62L348.14 279.74L348.75 279.87L349.36 279.99L349.97 280.12L350.58 280.24L351.19 280.36L351.80 280.48L352.41 280.60L353.02 280.71L353.64 280.83L354.25 280.93L354.86 281.04L355.47 281.14L356.08 281.24L356.69 281.33L357.30 281.42L357.91 281.50L358.52 281.59L359.13 281.67L359.74 281.75L360.35 281.83L360.96 281.91L361.58 281.99L362.19 282.06L362.80 282.14L363.41 282.21L364.02 282.28L364.63 282.36L365.24 282.43L365.85 282.50L366.46 282.56L367.07 282.63L367.68 282.70L368.29 282.76L368.91 282.83L369.52 282.89L370.13 282.96L370.74 283.02L371.35 283.08L371.96 283.14L372.57 283.20L373.18 283.26L373.79 283.32L374.40 283.37L375.01 283.43L375.62 283.48L376.23 283.54L376.85 283.59L377.46 283.65L378.07 283.70L378.68 283.75L379.29 283.80L379.90 283.85L380.51 283.90L381.12 283.95L381.73 284.00L382.34 284.05L382.95 284.10L383.56 284.15L384.18 284.19L384.79 284.24L385.40 284.29L386.01 284.33L386.62 284.38L387.23 284.42L387.84 284.47L388.45 284.51L389.06 284.55L389.67 284.60L390.28 284.64L390.89 284.68L391.50 284.72L392.12 284.77L392.73 284.81L393.34 284.85L393.95 284.89L394.56 284.93L395.17 284.97L395.78 285.01L396.39 285.05L397.00 285.08L397.61 285.12L398.22 285.16L398.83 285.20L399.45 285.24L400.06 285.27L400.67 285.31L401.28 285.35L401.89 285.38L402.50 285.42L403.11 285.46L403.72 285.49L404.33 285.53L404.94 285.56L405.55 285.60L406.16 285.63L406.77 285.67L407.39 285.70L408.00 285.73L408.61 285.77L409.22 285.80L409.83 285.84L410.44 285.87L411.05 285.90L411.66 285.94L412.27 285.97L412.88 286.00L413.49 286.04L414.10 286.07L414.72 286.10L415.33 286.14L415.94 286.17L416.55 286.20L417.16 286.23L417.77 286.27L418.38 286.30L418.99 286.33L419.60 286.36L420.21 286.40L420.82 286.43L421.43 286.46L422.04 286.49L422.66 286.52L423.27 286.56L423.88 286.59L424.49 286.62L425.10 286.65L425.71 286.68L426.32 286.71L426.93 286.74L427.54 286.77L428.15 286.80L428.76 286.83L429.37 286.86L429.99 286.89L430.60 286.92L431.21 286.95L431.82 286.98L432.43 287.01L433.04 287.03L433.65 287.06L434.26 287.09L434.87 287.12L435.48 287.15L436.09 287.18L436.70 287.20L437.31 287.23L437.93 287.26L438.54 287.29L439.15 287.31L439.76 287.34L440.37 287.37L440.98 287.39L441.59 287.42L442.20 287.45L442.81 287.48L443.42 287.50L444.03 287.53L444.64 287.55L445.26 287.58L445.87 287.61L446.48 287.63L447.09 287.66L447.70 287.68L448.31 287.71L448.92 287.74L449.53 287.76L450.14 287.79L450.75 287.81L451.36 287.84L451.97 287.86L452.58 287.89L453.20 287.92L453.81 287.94L454.42 287.97L455.03 287.99L455.64 288.02L456.25 288.04L456.86 288.07L457.47 288.10L458.08 288.12L458.69 288.15L459.30 288.17L459.91 288.20L460.53 288.22L461.14 288.25L461.75 288.27L462.36 288.30L462.97 288.32L463.58 288.35L464.19 288.37L464.80 288.39L465.41 288.42L466.02 288.44L466.63 288.46L467.24 288.49L467.85 288.51L468.47 288.53L469.08 288.56L469.69 288.58L470.30 288.60L470.91 288.62L471.52 288.64L472.13 288.66L472.74 288.68L473.35 288.70L473.96 288.72L474.57 288.74L475.18 288.76L475.80 288.78L476.41 288.80L477.02 288.82L477.63 288.83L478.24 288.85L478.85 288.87L479.46 288.88L480.07 288.90L480.68 288.92L481.29 288.93L481.90 288.95L482.51 288.96L483.12 288.98L483.74 288.99L484.35 289.01L484.96 289.02L485.57 289.04L486.18 289.05L486.79 289.06L487.40 289.08L488.01 289.09L488.62 289.11L489.23 289.12L489.84 289.13L490.45 289.15L491.07 289.16L491.68 289.18L492.29 289.19L492.90 289.20L493.51 289.21L494.12 289.23L494.73 289.24L495.34 289.25L495.95 289.27L496.56 289.28L497.17 289.29L497.78 289.30L498.39 289.32L499.01 289.33L499.62 289.34L500.23 289.35L500.84 289.36L501.45 289.38L502.06 289.39L502.67 289.40L503.28 289.41L503.89 289.42L504.50 289.43L505.11 289.45L505.72 289.46L506.34 289.47L506.95 289.48L507.56 289.49L508.17 289.50L508.78 289.51L509.39 289.52L510.00 289.53L510.61 289.54L511.22 289.56L511.83 289.57L512.44 289.58L513.05 289.59L513.66 289.60L514.28 289.61L514.89 289.62L515.50 289.63L516.11 289.64L516.72 289.65L517.33 289.66L517.94 289.67L518.55 289.68L519.16 289.69L519.77 289.70L520.38 289.71L520.99 289.72L521.61 289.73L522.22 289.74L522.83 289.75L523.44 289.76L524.05 289.77L524.66 289.78L525.27 289.79L525.88 289.80L526.49 289.81L527.10 289.82L527.71 289.83L528.32 289.84L528.93 289.85L529.55 289.86L530.16 289.87L530.77 289.88L531.38 289.89L531.99 289.90L532.60 289.91L533.21 289.92L533.82 289.92L534.43 289.93L535.04 289.94L535.65 289.95L536.26 289.96L536.88 289.97L537.49 289.98L538.10 289.99L538.71 290.00L539.32 290.01L539.93 290.02L540.54 290.03L541.15 290.04L541.76 290.05L542.37 290.06L542.98 290.07L543.59 290.08L544.20 290.09L544.82 290.10L545.43 290.11L546.04 290.12L546.65 290.13L547.26 290.14L547.87 290.15L548.48 290.16L549.09 290.17L549.70 290.18L550.31 290.19L550.92 290.20L551.53 290.21L552.15 290.22L552.76 290.23L553.37 290.24L553.98 290.24L554.59 290.25L555.20 290.26L555.81 290.27L556.42 290.28L557.03 290.29L557.64 290.30L558.25 290.31L558.86 290.32L559.47 290.33L560.09 290.34L560.70 290.35L561.31 290.36L561.92 290.37L562.53 290.37L563.14 290.38L563.75 290.39L564.36 290.40L564.97 290.41L565.58 290.42L566.19 290.43L566.80 290.44L567.42 290.45L568.03 290.46L568.64 290.46L569.25 290.47L569.86 290.48L570.47 290.49L571.08 290.50L571.69 290.51L572.30 290.52L572.91 290.53L573.52 290.53L574.13 290.54L574.74 290.55L575.36 290.56L575.97 290.57L576.58 290.58L577.19 290.59L577.80 290.59L578.41 290.60L579.02 290.61L579.63 290.62L580.24 290.63L580.85 290.64L581.46 290.64L582.07 290.65L582.69 290.66L583.30 290.67L583.91 290.68L584.52 290.68L585.13 290.69L585.74 290.70L586.35 290.71L586.96 290.72L587.57 290.72L588.18 290.73L588.79 290.74L589.40 290.75L590.01 290.75L590.63 290.76L591.24 290.77L591.85 290.78L592.46 290.79L593.07 290.79L593.68 290.80L594.29 290.81L594.90 290.82L595.51 290.82L596.12 290.83L596.73 290.84L597.34 290.84L597.96 290.85L598.57 290.86L599.18 290.87L599.79 290.87L600.40 290.88L601.01 290.89L601.62 290.89L602.23 290.90L602.84 290.91L603.45 290.91L604.06 290.92L604.67 290.93L605.28 290.93L605.90 290.94L606.51 290.95L607.12 290.95L607.73 290.96L608.34 290.97L608.95 290.97L609.56 290.98L610.17 290.99L610.78 290.99L611.39 291.00L612.00 291.01L612.61 291.01L613.23 291.02L613.84 291.03L614.45 291.03L615.06 291.04L615.67 291.05L616.28 291.05L616.89 291.06L617.50 291.07L618.11 291.07L618.72 291.08L619.33 291.09L619.94 291.09L620.55 291.10L621.17 291.10L621.78 291.11L622.39 291.12L623.00 291.12L623.61 291.13L624.22 291.14L624.83 291.14L625.44 291.15L626.05 291.15L626.66 291.16L627.27 291.17L627.88 291.17L628.50 291.18L629.11 291.18L629.72 291.19L630.33 291.20L630.94 291.20L631.55 291.21L632.16 291.21L632.77 291.22L633.38 291.22L633.99 291.23L634.60 291.24L635.21 291.24L635.82 291.25L636.44 291.25L637.05 291.26L637.66 291.26L638.27 291.27L638.88 291.28L639.49 291.28L640.10 291.29L640.71 291.29L641.32 291.30L641.93 291.30L642.54 291.31L643.15 291.31L643.77 291.32L644.38 291.32L644.99 291.33L645.60 291.33L646.21 291.34L646.82 291.34L647.43 291.35L648.04 291.35L648.65 291.36L649.26 291.36L649.87 291.37L650.48 291.37L651.09 291.38L651.71 291.38L652.32 291.39L652.93 291.39L653.54 291.40L654.15 291.40L654.76 291.41L655.37 291.41L655.98 291.42L656.59 291.42L657.20 291.43L657.81 291.43L658.42 291.44L659.04 291.44L659.65 291.45L660.26 291.45L660.87 291.45L661.48 291.46L662.09 291.46L662.70 291.47" stroke="#3a7cc6"/>
</g>
<g fill="none" stroke-width="1.4">
<g stroke="#e8201a"><circle cx="51.90" cy="274.24" r="3.3"/><circle cx="64.12" cy="271.94" r="3.3"/><circle cx="76.33" cy="268.50" r="3.3"/><circle cx="88.55" cy="264.77" r="3.3"/><circle cx="100.76" cy="258.45" r="3.3"/><circle cx="112.98" cy="250.99" r="3.3"/><circle cx="125.20" cy="240.94" r="3.3"/><circle cx="137.41" cy="228.02" r="3.3"/><circle cx="149.63" cy="212.80" r="3.3"/><circle cx="161.84" cy="193.85" r="3.3"/><circle cx="174.06" cy="171.46" r="3.3"/><circle cx="186.28" cy="144.47" r="3.3"/><circle cx="198.49" cy="108.87" r="3.3"/><circle cx="210.71" cy="65.23" r="3.3"/><circle cx="222.92" cy="29.35" r="3.3"/><circle cx="235.14" cy="17.00" r="3.3"/><circle cx="247.36" cy="25.33" r="3.3"/><circle cx="259.57" cy="45.42" r="3.3"/><circle cx="271.79" cy="68.97" r="3.3"/><circle cx="284.00" cy="91.65" r="3.3"/><circle cx="296.22" cy="112.03" r="3.3"/><circle cx="308.44" cy="129.26" r="3.3"/><circle cx="320.65" cy="143.90" r="3.3"/><circle cx="332.87" cy="155.96" r="3.3"/><circle cx="345.08" cy="165.72" r="3.3"/><circle cx="357.30" cy="173.76" r="3.3"/><circle cx="369.52" cy="180.07" r="3.3"/><circle cx="381.73" cy="184.67" r="3.3"/><circle cx="393.95" cy="187.82" r="3.3"/><circle cx="406.16" cy="189.83" r="3.3"/><circle cx="418.38" cy="190.70" r="3.3"/><circle cx="430.60" cy="190.12" r="3.3"/><circle cx="442.81" cy="187.82" r="3.3"/><circle cx="455.03" cy="184.38" r="3.3"/><circle cx="467.24" cy="179.21" r="3.3"/><circle cx="479.46" cy="173.18" r="3.3"/><circle cx="491.68" cy="166.00" r="3.3"/><circle cx="503.89" cy="159.98" r="3.3"/><circle cx="516.11" cy="156.53" r="3.3"/><circle cx="528.32" cy="160.26" r="3.3"/><circle cx="540.54" cy="172.32" r="3.3"/><circle cx="552.76" cy="190.70" r="3.3"/><circle cx="564.97" cy="210.79" r="3.3"/><circle cx="577.19" cy="228.88" r="3.3"/><circle cx="589.40" cy="243.81" r="3.3"/><circle cx="601.62" cy="254.14" r="3.3"/><circle cx="613.84" cy="262.76" r="3.3"/><circle cx="626.05" cy="267.93" r="3.3"/><circle cx="638.27" cy="272.81" r="3.3"/><circle cx="650.48" cy="275.68" r="3.3"/><circle cx="662.70" cy="277.97" r="3.3"/></g>
<g stroke="#1a1a1a"><rect x="49.50" y="277.01" width="4.8" height="4.8"/><rect x="61.72" y="276.15" width="4.8" height="4.8"/><rect x="73.93" y="275.00" width="4.8" height="4.8"/><rect x="86.15" y="273.85" width="4.8" height="4.8"/><rect x="98.36" y="272.13" width="4.8" height="4.8"/><rect x="110.58" y="269.83" width="4.8" height="4.8"/><rect x="122.80" y="266.67" width="4.8" height="4.8"/><rect x="135.01" y="262.65" width="4.8" height="4.8"/><rect x="147.23" y="257.77" width="4.8" height="4.8"/><rect x="159.44" y="252.89" width="4.8" height="4.8"/><rect x="171.66" y="243.71" width="4.8" height="4.8"/><rect x="183.88" y="233.37" width="4.8" height="4.8"/><rect x="196.09" y="220.16" width="4.8" height="4.8"/><rect x="208.31" y="204.66" width="4.8" height="4.8"/><rect x="220.52" y="187.15" width="4.8" height="4.8"/><rect x="232.74" y="170.21" width="4.8" height="4.8"/><rect x="244.96" y="157.86" width="4.8" height="4.8"/><rect x="257.17" y="151.83" width="4.8" height="4.8"/><rect x="269.39" y="153.56" width="4.8" height="4.8"/><rect x="281.60" y="162.46" width="4.8" height="4.8"/><rect x="293.82" y="174.80" width="4.8" height="4.8"/><rect x="306.04" y="188.01" width="4.8" height="4.8"/><rect x="318.25" y="200.93" width="4.8" height="4.8"/><rect x="330.47" y="212.41" width="4.8" height="4.8"/><rect x="342.68" y="222.46" width="4.8" height="4.8"/><rect x="354.90" y="230.79" width="4.8" height="4.8"/><rect x="367.12" y="237.68" width="4.8" height="4.8"/><rect x="379.33" y="243.42" width="4.8" height="4.8"/><rect x="391.55" y="248.01" width="4.8" height="4.8"/><rect x="403.76" y="252.32" width="4.8" height="4.8"/><rect x="415.98" y="256.05" width="4.8" height="4.8"/><rect x="428.20" y="258.64" width="4.8" height="4.8"/><rect x="440.41" y="261.51" width="4.8" height="4.8"/><rect x="452.63" y="264.09" width="4.8" height="4.8"/><rect x="464.84" y="266.39" width="4.8" height="4.8"/><rect x="477.06" y="268.40" width="4.8" height="4.8"/><rect x="489.28" y="270.41" width="4.8" height="4.8"/><rect x="501.49" y="271.84" width="4.8" height="4.8"/><rect x="513.71" y="272.70" width="4.8" height="4.8"/><rect x="525.92" y="273.56" width="4.8" height="4.8"/><rect x="538.14" y="274.71" width="4.8" height="4.8"/><rect x="550.36" y="275.86" width="4.8" height="4.8"/><rect x="562.57" y="276.72" width="4.8" height="4.8"/><rect x="574.79" y="277.30" width="4.8" height="4.8"/><rect x="587.00" y="278.16" width="4.8" height="4.8"/><rect x="599.22" y="279.02" width="4.8" height="4.8"/><rect x="611.44" y="279.59" width="4.8" height="4.8"/><rect x="623.65" y="279.88" width="4.8" height="4.8"/><rect x="635.87" y="280.45" width="4.8" height="4.8"/><rect x="648.08" y="280.74" width="4.8" height="4.8"/><rect x="660.30" y="281.03" width="4.8" height="4.8"/></g>
<g stroke="#2f6fbf"><path d="M51.90 282.29L55.15 286.59L51.90 290.89L48.65 286.59Z"/><path d="M64.12 280.28L67.37 284.58L64.12 288.88L60.87 284.58Z"/><path d="M76.33 279.13L79.58 283.43L76.33 287.73L73.08 283.43Z"/><path d="M88.55 278.55L91.80 282.85L88.55 287.15L85.30 282.85Z"/><path d="M100.76 277.98L104.01 282.28L100.76 286.58L97.51 282.28Z"/><path d="M112.98 276.54L116.23 280.84L112.98 285.14L109.73 280.84Z"/><path d="M125.20 272.53L128.45 276.83L125.20 281.13L121.95 276.83Z"/><path d="M137.41 266.50L140.66 270.80L137.41 275.10L134.16 270.80Z"/><path d="M149.63 262.76L152.88 267.06L149.63 271.36L146.38 267.06Z"/><path d="M161.84 252.43L165.09 256.73L161.84 261.03L158.59 256.73Z"/><path d="M174.06 233.48L177.31 237.78L174.06 242.08L170.81 237.78Z"/><path d="M186.28 206.49L189.53 210.79L186.28 215.09L183.03 210.79Z"/><path d="M198.49 172.04L201.74 176.34L198.49 180.64L195.24 176.34Z"/><path d="M210.71 145.63L213.96 149.93L210.71 154.23L207.46 149.93Z"/><path d="M222.92 152.52L226.17 156.82L222.92 161.12L219.67 156.82Z"/><path d="M235.14 179.51L238.39 183.81L235.14 188.11L231.89 183.81Z"/><path d="M247.36 206.49L250.61 210.79L247.36 215.09L244.11 210.79Z"/><path d="M259.57 226.88L262.82 231.18L259.57 235.48L256.32 231.18Z"/><path d="M271.79 240.94L275.04 245.24L271.79 249.54L268.54 245.24Z"/><path d="M284.00 250.99L287.25 255.29L284.00 259.59L280.75 255.29Z"/><path d="M296.22 257.88L299.47 262.18L296.22 266.48L292.97 262.18Z"/><path d="M308.44 263.63L311.69 267.93L308.44 272.23L305.19 267.93Z"/><path d="M320.65 267.07L323.90 271.37L320.65 275.67L317.40 271.37Z"/><path d="M332.87 269.94L336.12 274.24L332.87 278.54L329.62 274.24Z"/><path d="M345.08 271.95L348.33 276.25L345.08 280.55L341.83 276.25Z"/><path d="M357.30 273.96L360.55 278.26L357.30 282.56L354.05 278.26Z"/><path d="M369.52 275.97L372.77 280.27L369.52 284.57L366.27 280.27Z"/><path d="M381.73 277.12L384.98 281.42L381.73 285.72L378.48 281.42Z"/><path d="M393.95 278.55L397.20 282.85L393.95 287.15L390.70 282.85Z"/><path d="M406.16 279.42L409.41 283.72L406.16 288.02L402.91 283.72Z"/><path d="M418.38 279.99L421.63 284.29L418.38 288.59L415.13 284.29Z"/><path d="M430.60 280.56L433.85 284.86L430.60 289.16L427.35 284.86Z"/><path d="M442.81 281.14L446.06 285.44L442.81 289.74L439.56 285.44Z"/><path d="M455.03 281.71L458.28 286.01L455.03 290.31L451.78 286.01Z"/><path d="M467.24 282.57L470.49 286.87L467.24 291.17L463.99 286.87Z"/><path d="M479.46 283.44L482.71 287.74L479.46 292.04L476.21 287.74Z"/><path d="M491.68 283.72L494.93 288.02L491.68 292.32L488.43 288.02Z"/><path d="M503.89 284.01L507.14 288.31L503.89 292.61L500.64 288.31Z"/><path d="M516.11 284.30L519.36 288.60L516.11 292.90L512.86 288.60Z"/><path d="M528.32 284.58L531.57 288.88L528.32 293.18L525.07 288.88Z"/><path d="M540.54 284.87L543.79 289.17L540.54 293.47L537.29 289.17Z"/><path d="M552.76 285.16L556.01 289.46L552.76 293.76L549.51 289.46Z"/><path d="M564.97 285.45L568.22 289.75L564.97 294.05L561.72 289.75Z"/><path d="M577.19 285.73L580.44 290.03L577.19 294.33L573.94 290.03Z"/><path d="M589.40 285.73L592.65 290.03L589.40 294.33L586.15 290.03Z"/><path d="M601.62 286.02L604.87 290.32L601.62 294.62L598.37 290.32Z"/><path d="M613.84 286.02L617.09 290.32L613.84 294.62L610.59 290.32Z"/><path d="M626.05 286.31L629.30 290.61L626.05 294.91L622.80 290.61Z"/><path d="M638.27 286.31L641.52 290.61L638.27 294.91L635.02 290.61Z"/><path d="M650.48 286.59L653.73 290.89L650.48 295.19L647.23 290.89Z"/><path d="M662.70 286.59L665.95 290.89L662.70 295.19L659.45 290.89Z"/></g>
</g>
<rect x="57.50" y="379.40" width="602.20" height="288.40" fill="none" stroke="#b0b0b0" stroke-width="1.8"/>
<path d="M117.72 667.80V662.30M117.72 379.40V384.90M177.94 667.80V662.30M177.94 379.40V384.90M238.16 667.80V662.30M238.16 379.40V384.90M298.38 667.80V662.30M298.38 379.40V384.90M358.60 667.80V662.30M358.60 379.40V384.90M418.82 667.80V662.30M418.82 379.40V384.90M479.04 667.80V662.30M479.04 379.40V384.90M539.26 667.80V662.30M539.26 379.40V384.90M599.48 667.80V662.30M599.48 379.40V384.90M57.50 610.12H63.00M659.70 610.12H654.20M57.50 552.44H63.00M659.70 552.44H654.20M57.50 494.76H63.00M659.70 494.76H654.20M57.50 437.08H63.00M659.70 437.08H654.20" stroke="#6e6e6e" stroke-width="1.1" fill="none"/>
<line x1="237.30" y1="380.60" x2="237.30" y2="667.80" stroke="#1b5478" stroke-width="2.4" stroke-dasharray="2.4 1.98"/>
<g fill="none" stroke-width="5.0" stroke-linejoin="round" stroke-linecap="butt">
<path d="M57.50 471.11L58.10 471.38L58.70 471.65L59.31 471.92L59.91 472.18L60.51 472.44L61.11 472.71L61.72 472.96L62.32 473.22L62.92 473.47L63.52 473.72L64.12 473.97L64.73 474.22L65.33 474.46L65.93 474.70L66.53 474.94L67.14 475.18L67.74 475.41L68.34 475.64L68.94 475.87L69.54 476.09L70.15 476.31L70.75 476.53L71.35 476.75L71.95 476.96L72.56 477.17L73.16 477.37L73.76 477.58L74.36 477.78L74.96 477.99L75.57 478.19L76.17 478.39L76.77 478.59L77.37 478.78L77.97 478.98L78.58 479.17L79.18 479.37L79.78 479.56L80.38 479.74L80.99 479.93L81.59 480.11L82.19 480.29L82.79 480.47L83.39 480.64L84.00 480.82L84.60 480.99L85.20 481.15L85.80 481.32L86.41 481.48L87.01 481.63L87.61 481.78L88.21 481.93L88.81 482.08L89.42 482.22L90.02 482.36L90.62 482.49L91.22 482.63L91.83 482.76L92.43 482.89L93.03 483.03L93.63 483.16L94.23 483.28L94.84 483.41L95.44 483.54L96.04 483.66L96.64 483.78L97.25 483.90L97.85 484.02L98.45 484.13L99.05 484.25L99.65 484.36L100.26 484.46L100.86 484.57L101.46 484.67L102.06 484.77L102.66 484.87L103.27 484.96L103.87 485.06L104.47 485.14L105.07 485.23L105.68 485.31L106.28 485.39L106.88 485.46L107.48 485.53L108.08 485.60L108.69 485.67L109.29 485.73L109.89 485.80L110.49 485.86L111.10 485.92L111.70 485.98L112.30 486.04L112.90 486.10L113.50 486.16L114.11 486.21L114.71 486.27L115.31 486.32L115.91 486.37L116.52 486.42L117.12 486.47L117.72 486.52L118.32 486.56L118.92 486.61L119.53 486.65L120.13 486.69L120.73 486.73L121.33 486.77L121.94 486.81L122.54 486.85L123.14 486.88L123.74 486.91L124.34 486.94L124.95 486.97L125.55 487.00L126.15 487.03L126.75 487.05L127.36 487.07L127.96 487.09L128.56 487.11L129.16 487.13L129.76 487.15L130.37 487.16L130.97 487.18L131.57 487.19L132.17 487.21L132.78 487.22L133.38 487.23L133.98 487.25L134.58 487.26L135.18 487.28L135.79 487.29L136.39 487.31L136.99 487.33L137.59 487.34L138.19 487.36L138.80 487.39L139.40 487.41L140.00 487.43L140.60 487.46L141.21 487.49L141.81 487.52L142.41 487.55L143.01 487.59L143.61 487.63L144.22 487.69L144.82 487.75L145.42 487.81L146.02 487.89L146.63 487.96L147.23 488.05L147.83 488.14L148.43 488.23L149.03 488.33L149.64 488.44L150.24 488.55L150.84 488.66L151.44 488.78L152.05 488.90L152.65 489.02L153.25 489.15L153.85 489.28L154.45 489.42L155.06 489.57L155.66 489.73L156.26 489.91L156.86 490.10L157.47 490.31L158.07 490.53L158.67 490.77L159.27 491.03L159.87 491.30L160.48 491.60L161.08 491.94L161.68 492.32L162.28 492.74L162.88 493.19L163.49 493.67L164.09 494.19L164.69 494.74L165.29 495.31L165.90 495.91L166.50 496.58L167.10 497.34L167.70 498.17L168.30 499.07L168.91 500.03L169.51 501.02L170.11 502.05L170.71 503.08L171.32 504.12L171.92 505.14L172.52 506.16L173.12 507.20L173.72 508.26L174.33 509.34L174.93 510.45L175.53 511.58L176.13 512.73L176.74 513.92L177.34 515.14L177.94 516.39L178.54 517.69L179.14 519.04L179.75 520.43L180.35 521.87L180.95 523.35L181.55 524.85L182.16 526.38L182.76 527.93L183.36 529.50L183.96 531.10L184.56 532.74L185.17 534.42L185.77 536.13L186.37 537.88L186.97 539.68L187.58 541.51L188.18 543.40L188.78 545.35L189.38 547.34L189.98 549.37L190.59 551.44L191.19 553.57L191.79 555.76L192.39 558.01L193.00 560.30L193.60 562.61L194.20 564.92L194.80 567.23L195.40 569.52L196.01 571.78L196.61 574.04L197.21 576.31L197.81 578.57L198.41 580.83L199.02 583.10L199.62 585.36L200.22 587.62L200.82 589.91L201.43 592.21L202.03 594.53L202.63 596.84L203.23 599.13L203.83 601.38L204.44 603.58L205.04 605.72L205.64 607.79L206.24 609.81L206.85 611.80L207.45 613.75L208.05 615.68L208.65 617.58L209.25 619.47L209.86 621.36L210.46 623.26L211.06 625.19L211.66 627.10L212.27 628.98L212.87 630.80L213.47 632.53L214.07 634.16L214.67 635.64L215.28 637.05L215.88 638.39L216.48 639.68L217.08 640.91L217.69 642.10L218.29 643.26L218.89 644.37L219.49 645.45L220.09 646.51L220.70 647.56L221.30 648.61L221.90 649.66L222.50 650.70L223.11 651.72L223.71 652.72L224.31 653.67L224.91 654.58L225.51 655.43L226.12 656.22L226.72 656.92L227.32 657.54L227.92 658.08L228.52 658.59L229.13 659.08L229.73 659.54L230.33 659.98L230.93 660.39L231.54 660.77L232.14 661.12L232.74 661.45L233.34 661.75L233.94 662.02L234.55 662.26L235.15 662.47L235.75 662.67L236.35 662.87L236.96 663.05L237.56 663.22L238.16 663.39L238.76 663.53L239.36 663.67L239.97 663.79L240.57 663.89L241.17 663.98L241.77 664.05L242.38 664.11L242.98 664.17L243.58 664.22L244.18 664.28L244.78 664.33L245.39 664.38L245.99 664.42L246.59 664.46L247.19 664.50L247.80 664.53L248.40 664.56L249.00 664.59L249.60 664.60L250.20 664.62L250.81 664.63L251.41 664.63L252.01 664.63L252.61 664.63L253.22 664.63L253.82 664.63L254.42 664.63L255.02 664.63L255.62 664.63L256.23 664.63L256.83 664.63L257.43 664.63L258.03 664.63L258.63 664.63L259.24 664.63L259.84 664.63L260.44 664.63L261.04 664.63L261.65 664.63L262.25 664.63L262.85 664.63L263.45 664.63L264.05 664.63L264.66 664.63L265.26 664.62L265.86 664.62L266.46 664.62L267.07 664.62L267.67 664.61L268.27 664.61L268.87 664.61L269.47 664.60L270.08 664.60L270.68 664.59L271.28 664.59L271.88 664.58L272.49 664.57L273.09 664.57L273.69 664.56L274.29 664.55L274.89 664.54L275.50 664.53L276.10 664.53L276.70 664.52L277.30 664.51L277.91 664.50L278.51 664.49L279.11 664.48L279.71 664.47L280.31 664.46L280.92 664.45L281.52 664.44L282.12 664.43L282.72 664.42L283.33 664.40L283.93 664.39L284.53 664.38L285.13 664.37L285.73 664.36L286.34 664.35L286.94 664.33L287.54 664.32L288.14 664.31L288.74 664.29L289.35 664.28L289.95 664.26L290.55 664.24L291.15 664.22L291.76 664.20L292.36 664.18L292.96 664.15L293.56 664.13L294.16 664.10L294.77 664.08L295.37 664.05L295.97 664.02L296.57 663.99L297.18 663.97L297.78 663.94L298.38 663.90L298.98 663.87L299.58 663.84L300.19 663.81L300.79 663.77L301.39 663.74L301.99 663.70L302.60 663.67L303.20 663.63L303.80 663.59L304.40 663.56L305.00 663.52L305.61 663.48L306.21 663.44L306.81 663.40L307.41 663.36L308.02 663.32L308.62 663.28L309.22 663.24L309.82 663.20L310.42 663.16L311.03 663.12L311.63 663.07L312.23 663.02L312.83 662.97L313.44 662.92L314.04 662.86L314.64 662.81L315.24 662.75L315.84 662.69L316.45 662.63L317.05 662.56L317.65 662.50L318.25 662.43L318.85 662.37L319.46 662.30L320.06 662.23L320.66 662.16L321.26 662.09L321.87 662.02L322.47 661.94L323.07 661.87L323.67 661.79L324.27 661.72L324.88 661.64L325.48 661.57L326.08 661.49L326.68 661.42L327.29 661.34L327.89 661.27L328.49 661.19L329.09 661.12L329.69 661.04L330.30 660.97L330.90 660.89L331.50 660.82L332.10 660.75L332.71 660.68L333.31 660.60L333.91 660.53L334.51 660.46L335.11 660.39L335.72 660.32L336.32 660.25L336.92 660.18L337.52 660.11L338.13 660.04L338.73 659.97L339.33 659.90L339.93 659.82L340.53 659.75L341.14 659.68L341.74 659.61L342.34 659.54L342.94 659.46L343.55 659.39L344.15 659.32L344.75 659.24L345.35 659.17L345.95 659.10L346.56 659.02L347.16 658.95L347.76 658.87L348.36 658.80L348.96 658.72L349.57 658.65L350.17 658.57L350.77 658.49L351.37 658.42L351.98 658.34L352.58 658.26L353.18 658.18L353.78 658.11L354.38 658.03L354.99 657.95L355.59 657.87L356.19 657.79L356.79 657.71L357.40 657.62L358.00 657.54L358.60 657.46L359.20 657.38L359.80 657.29L360.41 657.21L361.01 657.12L361.61 657.03L362.21 656.95L362.82 656.86L363.42 656.77L364.02 656.68L364.62 656.59L365.22 656.50L365.83 656.41L366.43 656.32L367.03 656.23L367.63 656.14L368.24 656.05L368.84 655.96L369.44 655.87L370.04 655.78L370.64 655.68L371.25 655.59L371.85 655.50L372.45 655.41L373.05 655.32L373.66 655.23L374.26 655.13L374.86 655.04L375.46 654.95L376.06 654.86L376.67 654.77L377.27 654.68L377.87 654.59L378.47 654.50L379.07 654.41L379.68 654.32L380.28 654.23L380.88 654.14L381.48 654.06L382.09 653.97L382.69 653.89L383.29 653.81L383.89 653.73L384.49 653.65L385.10 653.56L385.70 653.48L386.30 653.39L386.90 653.30L387.51 653.21L388.11 653.12L388.71 653.02L389.31 652.91L389.91 652.80L390.52 652.69L391.12 652.57L391.72 652.44L392.32 652.31L392.93 652.18L393.53 652.03L394.13 651.89L394.73 651.74L395.33 651.58L395.94 651.43L396.54 651.26L397.14 651.10L397.74 650.93L398.35 650.75L398.95 650.57L399.55 650.39L400.15 650.21L400.75 650.02L401.36 649.81L401.96 649.60L402.56 649.38L403.16 649.15L403.76 648.91L404.37 648.67L404.97 648.42L405.57 648.17L406.17 647.92L406.78 647.67L407.38 647.41L407.98 647.16L408.58 646.91L409.18 646.66L409.79 646.41L410.39 646.17L410.99 645.93L411.59 645.70L412.20 645.47L412.80 645.24L413.40 645.01L414.00 644.78L414.60 644.55L415.21 644.32L415.81 644.08L416.41 643.85L417.01 643.62L417.62 643.38L418.22 643.14L418.82 642.89L419.42 642.64L420.02 642.39L420.63 642.13L421.23 641.87L421.83 641.61L422.43 641.34L423.04 641.07L423.64 640.80L424.24 640.52L424.84 640.24L425.44 639.96L426.05 639.68L426.65 639.39L427.25 639.09L427.85 638.79L428.46 638.49L429.06 638.18L429.66 637.87L430.26 637.55L430.86 637.23L431.47 636.90L432.07 636.58L432.67 636.24L433.27 635.91L433.88 635.57L434.48 635.23L435.08 634.88L435.68 634.52L436.28 634.16L436.89 633.78L437.49 633.40L438.09 633.01L438.69 632.61L439.29 632.20L439.90 631.77L440.50 631.34L441.10 630.88L441.70 630.42L442.31 629.93L442.91 629.42L443.51 628.90L444.11 628.36L444.71 627.81L445.32 627.23L445.92 626.65L446.52 626.05L447.12 625.43L447.73 624.80L448.33 624.16L448.93 623.51L449.53 622.84L450.13 622.17L450.74 621.48L451.34 620.79L451.94 620.08L452.54 619.34L453.15 618.57L453.75 617.78L454.35 616.97L454.95 616.14L455.55 615.30L456.16 614.44L456.76 613.56L457.36 612.68L457.96 611.79L458.57 610.89L459.17 609.98L459.77 609.08L460.37 608.17L460.97 607.27L461.58 606.37L462.18 605.47L462.78 604.57L463.38 603.66L463.99 602.74L464.59 601.82L465.19 600.89L465.79 599.96L466.39 599.02L467.00 598.07L467.60 597.12L468.20 596.15L468.80 595.18L469.40 594.21L470.01 593.22L470.61 592.23L471.21 591.23L471.81 590.22L472.42 589.20L473.02 588.16L473.62 587.11L474.22 586.05L474.82 584.97L475.43 583.89L476.03 582.80L476.63 581.70L477.23 580.59L477.84 579.49L478.44 578.38L479.04 577.27L479.64 576.16L480.24 575.05L480.85 573.95L481.45 572.85L482.05 571.76L482.65 570.67L483.26 569.58L483.86 568.47L484.46 567.37L485.06 566.26L485.66 565.15L486.27 564.04L486.87 562.93L487.47 561.83L488.07 560.73L488.68 559.64L489.28 558.55L489.88 557.48L490.48 556.42L491.08 555.36L491.69 554.33L492.29 553.31L492.89 552.29L493.49 551.28L494.10 550.28L494.70 549.27L495.30 548.28L495.90 547.29L496.50 546.31L497.11 545.34L497.71 544.37L498.31 543.42L498.91 542.48L499.51 541.56L500.12 540.64L500.72 539.75L501.32 538.86L501.92 538.00L502.53 537.15L503.13 536.32L503.73 535.51L504.33 534.70L504.93 533.91L505.54 533.12L506.14 532.35L506.74 531.58L507.34 530.83L507.95 530.09L508.55 529.36L509.15 528.63L509.75 527.92L510.35 527.21L510.96 526.51L511.56 525.82L512.16 525.14L512.76 524.47L513.37 523.79L513.97 523.12L514.57 522.47L515.17 521.84L515.77 521.26L516.38 520.72L516.98 520.21L517.58 519.72L518.18 519.25L518.79 518.82L519.39 518.44L519.99 518.12L520.59 517.83L521.19 517.55L521.80 517.29L522.40 517.08L523.00 516.91L523.60 516.82L524.21 516.78L524.81 516.74L525.41 516.71L526.01 516.69L526.61 516.68L527.22 516.73L527.82 516.87L528.42 517.07L529.02 517.31L529.62 517.54L530.23 517.80L530.83 518.11L531.43 518.46L532.03 518.85L532.64 519.27L533.24 519.75L533.84 520.30L534.44 520.90L535.04 521.54L535.65 522.22L536.25 522.91L536.85 523.60L537.45 524.30L538.06 525.04L538.66 525.80L539.26 526.58L539.86 527.39L540.46 528.22L541.07 529.08L541.67 529.96L542.27 530.86L542.87 531.79L543.48 532.73L544.08 533.70L544.68 534.68L545.28 535.68L545.88 536.70L546.49 537.72L547.09 538.76L547.69 539.81L548.29 540.86L548.90 541.92L549.50 542.98L550.10 544.05L550.70 545.12L551.30 546.18L551.91 547.25L552.51 548.32L553.11 549.42L553.71 550.54L554.32 551.67L554.92 552.81L555.52 553.96L556.12 555.12L556.72 556.28L557.33 557.44L557.93 558.60L558.53 559.75L559.13 560.88L559.73 562.00L560.34 563.11L560.94 564.19L561.54 565.25L562.14 566.28L562.75 567.29L563.35 568.29L563.95 569.27L564.55 570.24L565.15 571.20L565.76 572.14L566.36 573.08L566.96 574.01L567.56 574.93L568.17 575.84L568.77 576.75L569.37 577.65L569.97 578.55L570.57 579.45L571.18 580.34L571.78 581.23L572.38 582.12L572.98 583.01L573.59 583.90L574.19 584.80L574.79 585.70L575.39 586.60L575.99 587.50L576.60 588.39L577.20 589.28L577.80 590.17L578.40 591.05L579.01 591.92L579.61 592.78L580.21 593.62L580.81 594.46L581.41 595.28L582.02 596.08L582.62 596.87L583.22 597.63L583.82 598.38L584.43 599.11L585.03 599.84L585.63 600.55L586.23 601.25L586.83 601.94L587.44 602.62L588.04 603.29L588.64 603.96L589.24 604.61L589.84 605.25L590.45 605.89L591.05 606.52L591.65 607.14L592.25 607.75L592.86 608.36L593.46 608.95L594.06 609.54L594.66 610.13L595.26 610.70L595.87 611.27L596.47 611.83L597.07 612.39L597.67 612.94L598.28 613.48L598.88 614.01L599.48 614.54L600.08 615.06L600.68 615.58L601.29 616.09L601.89 616.60L602.49 617.10L603.09 617.60L603.70 618.09L604.30 618.58L604.90 619.06L605.50 619.54L606.10 620.01L606.71 620.49L607.31 620.95L607.91 621.41L608.51 621.87L609.12 622.33L609.72 622.77L610.32 623.22L610.92 623.66L611.52 624.09L612.13 624.52L612.73 624.94L613.33 625.35L613.93 625.76L614.54 626.16L615.14 626.56L615.74 626.95L616.34 627.33L616.94 627.71L617.55 628.08L618.15 628.45L618.75 628.81L619.35 629.17L619.95 629.53L620.56 629.88L621.16 630.23L621.76 630.57L622.36 630.91L622.97 631.25L623.57 631.58L624.17 631.92L624.77 632.25L625.37 632.58L625.98 632.90L626.58 633.23L627.18 633.56L627.78 633.88L628.39 634.20L628.99 634.52L629.59 634.84L630.19 635.15L630.79 635.47L631.40 635.78L632.00 636.08L632.60 636.38L633.20 636.68L633.81 636.97L634.41 637.26L635.01 637.54L635.61 637.82L636.21 638.09L636.82 638.36L637.42 638.63L638.02 638.89L638.62 639.15L639.23 639.41L639.83 639.66L640.43 639.91L641.03 640.16L641.63 640.40L642.24 640.64L642.84 640.88L643.44 641.11L644.04 641.34L644.64 641.56L645.25 641.78L645.85 642.00L646.45 642.21L647.05 642.42L647.66 642.63L648.26 642.83L648.86 643.03L649.46 643.23L650.06 643.42L650.67 643.62L651.27 643.81L651.87 643.99L652.47 644.18L653.08 644.36L653.68 644.54L654.28 644.72L654.88 644.89L655.48 645.07L656.09 645.23L656.69 645.40L657.29 645.56L657.89 645.72L658.50 645.87L659.10 646.02L659.70 646.17" stroke="#f5190f"/>
<path d="M57.50 414.87L58.10 415.03L58.70 415.18L59.31 415.34L59.91 415.50L60.51 415.65L61.11 415.82L61.72 415.98L62.32 416.14L62.92 416.31L63.52 416.48L64.12 416.65L64.73 416.82L65.33 417.00L65.93 417.17L66.53 417.35L67.14 417.53L67.74 417.71L68.34 417.89L68.94 418.07L69.54 418.25L70.15 418.44L70.75 418.63L71.35 418.82L71.95 419.01L72.56 419.20L73.16 419.39L73.76 419.59L74.36 419.79L74.96 420.00L75.57 420.21L76.17 420.42L76.77 420.63L77.37 420.85L77.97 421.07L78.58 421.29L79.18 421.51L79.78 421.73L80.38 421.96L80.99 422.18L81.59 422.41L82.19 422.64L82.79 422.86L83.39 423.09L84.00 423.32L84.60 423.55L85.20 423.77L85.80 424.00L86.41 424.22L87.01 424.45L87.61 424.67L88.21 424.89L88.81 425.11L89.42 425.33L90.02 425.54L90.62 425.76L91.22 425.97L91.83 426.19L92.43 426.40L93.03 426.61L93.63 426.83L94.23 427.04L94.84 427.25L95.44 427.46L96.04 427.68L96.64 427.89L97.25 428.10L97.85 428.31L98.45 428.52L99.05 428.73L99.65 428.94L100.26 429.15L100.86 429.36L101.46 429.57L102.06 429.77L102.66 429.98L103.27 430.19L103.87 430.39L104.47 430.60L105.07 430.80L105.68 431.00L106.28 431.20L106.88 431.40L107.48 431.60L108.08 431.80L108.69 431.99L109.29 432.19L109.89 432.38L110.49 432.57L111.10 432.76L111.70 432.94L112.30 433.13L112.90 433.31L113.50 433.50L114.11 433.68L114.71 433.87L115.31 434.05L115.91 434.23L116.52 434.42L117.12 434.60L117.72 434.78L118.32 434.97L118.92 435.15L119.53 435.34L120.13 435.53L120.73 435.71L121.33 435.90L121.94 436.09L122.54 436.29L123.14 436.48L123.74 436.68L124.34 436.88L124.95 437.08L125.55 437.28L126.15 437.49L126.75 437.69L127.36 437.90L127.96 438.10L128.56 438.31L129.16 438.52L129.76 438.72L130.37 438.93L130.97 439.14L131.57 439.36L132.17 439.57L132.78 439.78L133.38 440.00L133.98 440.21L134.58 440.43L135.18 440.65L135.79 440.87L136.39 441.10L136.99 441.32L137.59 441.55L138.19 441.77L138.80 442.00L139.40 442.24L140.00 442.47L140.60 442.71L141.21 442.94L141.81 443.18L142.41 443.42L143.01 443.67L143.61 443.92L144.22 444.17L144.82 444.43L145.42 444.69L146.02 444.95L146.63 445.22L147.23 445.49L147.83 445.76L148.43 446.04L149.03 446.32L149.64 446.60L150.24 446.89L150.84 447.17L151.44 447.47L152.05 447.77L152.65 448.07L153.25 448.37L153.85 448.68L154.45 448.99L155.06 449.31L155.66 449.62L156.26 449.94L156.86 450.26L157.47 450.58L158.07 450.89L158.67 451.21L159.27 451.53L159.87 451.85L160.48 452.16L161.08 452.48L161.68 452.80L162.28 453.12L162.88 453.44L163.49 453.76L164.09 454.08L164.69 454.41L165.29 454.74L165.90 455.08L166.50 455.42L167.10 455.76L167.70 456.11L168.30 456.47L168.91 456.83L169.51 457.20L170.11 457.57L170.71 457.95L171.32 458.33L171.92 458.71L172.52 459.10L173.12 459.49L173.72 459.88L174.33 460.28L174.93 460.67L175.53 461.07L176.13 461.47L176.74 461.88L177.34 462.28L177.94 462.68L178.54 463.09L179.14 463.50L179.75 463.92L180.35 464.33L180.95 464.75L181.55 465.17L182.16 465.60L182.76 466.03L183.36 466.46L183.96 466.90L184.56 467.34L185.17 467.78L185.77 468.23L186.37 468.68L186.97 469.14L187.58 469.60L188.18 470.06L188.78 470.52L189.38 470.99L189.98 471.47L190.59 471.95L191.19 472.43L191.79 472.92L192.39 473.41L193.00 473.91L193.60 474.42L194.20 474.93L194.80 475.44L195.40 475.96L196.01 476.48L196.61 477.01L197.21 477.54L197.81 478.08L198.41 478.62L199.02 479.17L199.62 479.74L200.22 480.31L200.82 480.89L201.43 481.48L202.03 482.09L202.63 482.71L203.23 483.34L203.83 483.99L204.44 484.66L205.04 485.34L205.64 486.03L206.24 486.74L206.85 487.45L207.45 488.18L208.05 488.92L208.65 489.66L209.25 490.42L209.86 491.18L210.46 491.95L211.06 492.72L211.66 493.50L212.27 494.27L212.87 495.06L213.47 495.85L214.07 496.64L214.67 497.45L215.28 498.26L215.88 499.09L216.48 499.94L217.08 500.80L217.69 501.68L218.29 502.58L218.89 503.50L219.49 504.45L220.09 505.43L220.70 506.45L221.30 507.53L221.90 508.66L222.50 509.82L223.11 511.01L223.71 512.21L224.31 513.42L224.91 514.62L225.51 515.81L226.12 516.99L226.72 518.18L227.32 519.36L227.92 520.55L228.52 521.74L229.13 522.94L229.73 524.14L230.33 525.34L230.93 526.55L231.54 527.76L232.14 528.97L232.74 530.18L233.34 531.40L233.94 532.63L234.55 533.85L235.15 535.08L235.75 536.32L236.35 537.55L236.96 538.79L237.56 540.04L238.16 541.29L238.76 542.54L239.36 543.81L239.97 545.07L240.57 546.34L241.17 547.62L241.77 548.90L242.38 550.19L242.98 551.47L243.58 552.76L244.18 554.05L244.78 555.35L245.39 556.64L245.99 557.94L246.59 559.23L247.19 560.53L247.80 561.83L248.40 563.12L249.00 564.41L249.60 565.71L250.20 567.01L250.81 568.32L251.41 569.65L252.01 571.00L252.61 572.35L253.22 573.70L253.82 575.06L254.42 576.42L255.02 577.77L255.62 579.12L256.23 580.46L256.83 581.79L257.43 583.11L258.03 584.40L258.63 585.68L259.24 586.94L259.84 588.16L260.44 589.36L261.04 590.53L261.65 591.66L262.25 592.77L262.85 593.86L263.45 594.93L264.05 595.98L264.66 597.02L265.26 598.04L265.86 599.05L266.46 600.05L267.07 601.03L267.67 602.00L268.27 602.96L268.87 603.91L269.47 604.86L270.08 605.79L270.68 606.71L271.28 607.63L271.88 608.54L272.49 609.45L273.09 610.35L273.69 611.25L274.29 612.14L274.89 613.03L275.50 613.92L276.10 614.80L276.70 615.68L277.30 616.53L277.91 617.38L278.51 618.20L279.11 618.99L279.71 619.76L280.31 620.50L280.92 621.22L281.52 621.91L282.12 622.60L282.72 623.26L283.33 623.91L283.93 624.54L284.53 625.15L285.13 625.73L285.73 626.30L286.34 626.85L286.94 627.38L287.54 627.90L288.14 628.41L288.74 628.90L289.35 629.38L289.95 629.84L290.55 630.28L291.15 630.70L291.76 631.09L292.36 631.46L292.96 631.81L293.56 632.14L294.16 632.46L294.77 632.76L295.37 633.05L295.97 633.33L296.57 633.60L297.18 633.86L297.78 634.10L298.38 634.35L298.98 634.58L299.58 634.82L300.19 635.05L300.79 635.28L301.39 635.50L301.99 635.71L302.60 635.90L303.20 636.08L303.80 636.23L304.40 636.36L305.00 636.48L305.61 636.60L306.21 636.70L306.81 636.80L307.41 636.89L308.02 636.98L308.62 637.06L309.22 637.12L309.82 637.18L310.42 637.23L311.03 637.27L311.63 637.31L312.23 637.36L312.83 637.39L313.44 637.43L314.04 637.46L314.64 637.48L315.24 637.50L315.84 637.51L316.45 637.52L317.05 637.51L317.65 637.50L318.25 637.48L318.85 637.45L319.46 637.42L320.06 637.39L320.66 637.35L321.26 637.31L321.87 637.27L322.47 637.23L323.07 637.19L323.67 637.14L324.27 637.09L324.88 637.03L325.48 636.97L326.08 636.91L326.68 636.84L327.29 636.77L327.89 636.70L328.49 636.62L329.09 636.54L329.69 636.46L330.30 636.38L330.90 636.30L331.50 636.21L332.10 636.13L332.71 636.04L333.31 635.96L333.91 635.87L334.51 635.79L335.11 635.70L335.72 635.61L336.32 635.52L336.92 635.43L337.52 635.34L338.13 635.24L338.73 635.14L339.33 635.04L339.93 634.94L340.53 634.84L341.14 634.73L341.74 634.63L342.34 634.52L342.94 634.42L343.55 634.31L344.15 634.20L344.75 634.09L345.35 633.98L345.95 633.88L346.56 633.77L347.16 633.66L347.76 633.55L348.36 633.44L348.96 633.32L349.57 633.21L350.17 633.09L350.77 632.97L351.37 632.85L351.98 632.73L352.58 632.62L353.18 632.50L353.78 632.38L354.38 632.26L354.99 632.14L355.59 632.02L356.19 631.91L356.79 631.79L357.40 631.68L358.00 631.57L358.60 631.46L359.20 631.35L359.80 631.25L360.41 631.14L361.01 631.04L361.61 630.93L362.21 630.83L362.82 630.72L363.42 630.62L364.02 630.52L364.62 630.42L365.22 630.32L365.83 630.22L366.43 630.12L367.03 630.02L367.63 629.92L368.24 629.82L368.84 629.73L369.44 629.63L370.04 629.54L370.64 629.44L371.25 629.35L371.85 629.26L372.45 629.17L373.05 629.08L373.66 628.99L374.26 628.90L374.86 628.82L375.46 628.73L376.06 628.65L376.67 628.56L377.27 628.48L377.87 628.39L378.47 628.31L379.07 628.22L379.68 628.14L380.28 628.05L380.88 627.97L381.48 627.88L382.09 627.80L382.69 627.71L383.29 627.63L383.89 627.54L384.49 627.45L385.10 627.35L385.70 627.26L386.30 627.17L386.90 627.08L387.51 626.99L388.11 626.89L388.71 626.80L389.31 626.71L389.91 626.62L390.52 626.53L391.12 626.45L391.72 626.36L392.32 626.28L392.93 626.20L393.53 626.13L394.13 626.05L394.73 625.98L395.33 625.91L395.94 625.85L396.54 625.78L397.14 625.72L397.74 625.66L398.35 625.60L398.95 625.54L399.55 625.49L400.15 625.43L400.75 625.37L401.36 625.32L401.96 625.27L402.56 625.21L403.16 625.16L403.76 625.11L404.37 625.06L404.97 625.00L405.57 624.95L406.17 624.90L406.78 624.85L407.38 624.80L407.98 624.75L408.58 624.70L409.18 624.65L409.79 624.59L410.39 624.54L410.99 624.49L411.59 624.43L412.20 624.38L412.80 624.33L413.40 624.27L414.00 624.22L414.60 624.16L415.21 624.11L415.81 624.05L416.41 624.00L417.01 623.94L417.62 623.89L418.22 623.84L418.82 623.78L419.42 623.73L420.02 623.67L420.63 623.62L421.23 623.57L421.83 623.52L422.43 623.47L423.04 623.41L423.64 623.36L424.24 623.31L424.84 623.26L425.44 623.21L426.05 623.17L426.65 623.12L427.25 623.07L427.85 623.03L428.46 622.98L429.06 622.94L429.66 622.89L430.26 622.85L430.86 622.81L431.47 622.77L432.07 622.73L432.67 622.69L433.27 622.65L433.88 622.61L434.48 622.57L435.08 622.53L435.68 622.49L436.28 622.45L436.89 622.41L437.49 622.37L438.09 622.34L438.69 622.30L439.29 622.26L439.90 622.23L440.50 622.19L441.10 622.16L441.70 622.12L442.31 622.09L442.91 622.05L443.51 622.02L444.11 621.99L444.71 621.96L445.32 621.92L445.92 621.89L446.52 621.86L447.12 621.84L447.73 621.81L448.33 621.78L448.93 621.75L449.53 621.73L450.13 621.70L450.74 621.68L451.34 621.66L451.94 621.63L452.54 621.61L453.15 621.59L453.75 621.57L454.35 621.54L454.95 621.52L455.55 621.50L456.16 621.48L456.76 621.46L457.36 621.44L457.96 621.42L458.57 621.40L459.17 621.38L459.77 621.36L460.37 621.34L460.97 621.32L461.58 621.30L462.18 621.29L462.78 621.27L463.38 621.25L463.99 621.24L464.59 621.22L465.19 621.21L465.79 621.19L466.39 621.18L467.00 621.16L467.60 621.15L468.20 621.14L468.80 621.13L469.40 621.12L470.01 621.11L470.61 621.10L471.21 621.09L471.81 621.08L472.42 621.07L473.02 621.06L473.62 621.06L474.22 621.05L474.82 621.04L475.43 621.03L476.03 621.03L476.63 621.02L477.23 621.01L477.84 621.00L478.44 621.00L479.04 620.99L479.64 620.98L480.24 620.98L480.85 620.97L481.45 620.96L482.05 620.96L482.65 620.95L483.26 620.94L483.86 620.94L484.46 620.93L485.06 620.93L485.66 620.92L486.27 620.91L486.87 620.91L487.47 620.90L488.07 620.90L488.68 620.89L489.28 620.89L489.88 620.88L490.48 620.88L491.08 620.87L491.69 620.87L492.29 620.86L492.89 620.86L493.49 620.85L494.10 620.85L494.70 620.84L495.30 620.84L495.90 620.84L496.50 620.83L497.11 620.83L497.71 620.82L498.31 620.82L498.91 620.82L499.51 620.81L500.12 620.81L500.72 620.81L501.32 620.81L501.92 620.80L502.53 620.80L503.13 620.80L503.73 620.80L504.33 620.80L504.93 620.80L505.54 620.79L506.14 620.79L506.74 620.79L507.34 620.79L507.95 620.79L508.55 620.79L509.15 620.79L509.75 620.79L510.35 620.79L510.96 620.79L511.56 620.79L512.16 620.79L512.76 620.79L513.37 620.79L513.97 620.79L514.57 620.79L515.17 620.79L515.77 620.79L516.38 620.79L516.98 620.79L517.58 620.79L518.18 620.79L518.79 620.79L519.39 620.79L519.99 620.79L520.59 620.79L521.19 620.79L521.80 620.79L522.40 620.79L523.00 620.79L523.60 620.79L524.21 620.79L524.81 620.79L525.41 620.79L526.01 620.79L526.61 620.79L527.22 620.79L527.82 620.79L528.42 620.79L529.02 620.79L529.62 620.79L530.23 620.79L530.83 620.79L531.43 620.79L532.03 620.79L532.64 620.79L533.24 620.79L533.84 620.79L534.44 620.79L535.04 620.79L535.65 620.79L536.25 620.79L536.85 620.79L537.45 620.79L538.06 620.79L538.66 620.79L539.26 620.79L539.86 620.79L540.46 620.79L541.07 620.79L541.67 620.79L542.27 620.79L542.87 620.79L543.48 620.79L544.08 620.79L544.68 620.79L545.28 620.79L545.88 620.79L546.49 620.79L547.09 620.79L547.69 620.79L548.29 620.79L548.90 620.79L549.50 620.79L550.10 620.79L550.70 620.79L551.30 620.79L551.91 620.79L552.51 620.79L553.11 620.79L553.71 620.79L554.32 620.79L554.92 620.79L555.52 620.79L556.12 620.79L556.72 620.79L557.33 620.79L557.93 620.79L558.53 620.79L559.13 620.79L559.73 620.79L560.34 620.79L560.94 620.79L561.54 620.79L562.14 620.79L562.75 620.79L563.35 620.79L563.95 620.79L564.55 620.79L565.15 620.79L565.76 620.79L566.36 620.79L566.96 620.79L567.56 620.79L568.17 620.79L568.77 620.79L569.37 620.79L569.97 620.79L570.57 620.79L571.18 620.79L571.78 620.79L572.38 620.79L572.98 620.79L573.59 620.79L574.19 620.79L574.79 620.79L575.39 620.79L575.99 620.79L576.60 620.79L577.20 620.79L577.80 620.79L578.40 620.79L579.01 620.79L579.61 620.79L580.21 620.79L580.81 620.79L581.41 620.79L582.02 620.79L582.62 620.79L583.22 620.79L583.82 620.79L584.43 620.79L585.03 620.79L585.63 620.79L586.23 620.79L586.83 620.79L587.44 620.79L588.04 620.79L588.64 620.79L589.24 620.79L589.84 620.79L590.45 620.79L591.05 620.79L591.65 620.79L592.25 620.79L592.86 620.79L593.46 620.79L594.06 620.79L594.66 620.79L595.26 620.79L595.87 620.79L596.47 620.79L597.07 620.79L597.67 620.79L598.28 620.79L598.88 620.79L599.48 620.79L600.08 620.79L600.68 620.79L601.29 620.79L601.89 620.79L602.49 620.79L603.09 620.79L603.70 620.79L604.30 620.79L604.90 620.79L605.50 620.79L606.10 620.79L606.71 620.79L607.31 620.79L607.91 620.79L608.51 620.79L609.12 620.79L609.72 620.79L610.32 620.79L610.92 620.79L611.52 620.79L612.13 620.79L612.73 620.79L613.33 620.79L613.93 620.79L614.54 620.79L615.14 620.79L615.74 620.79L616.34 620.79L616.94 620.79L617.55 620.79L618.15 620.79L618.75 620.79L619.35 620.79L619.95 620.79L620.56 620.79L621.16 620.79L621.76 620.79L622.36 620.79L622.97 620.79L623.57 620.79L624.17 620.79L624.77 620.79L625.37 620.79L625.98 620.79L626.58 620.79L627.18 620.79L627.78 620.79L628.39 620.79L628.99 620.79L629.59 620.79L630.19 620.79L630.79 620.79L631.40 620.79L632.00 620.79L632.60 620.79L633.20 620.79L633.81 620.79L634.41 620.79L635.01 620.79L635.61 620.79L636.21 620.79L636.82 620.79L637.42 620.79L638.02 620.79L638.62 620.79L639.23 620.79L639.83 620.79L640.43 620.79L641.03 620.79L641.63 620.79L642.24 620.79L642.84 620.79L643.44 620.79L644.04 620.79L644.64 620.79L645.25 620.79L645.85 620.79L646.45 620.79L647.05 620.79L647.66 620.79L648.26 620.79L648.86 620.79L649.46 620.79L650.06 620.79L650.67 620.79L651.27 620.79L651.87 620.79L652.47 620.79L653.08 620.79L653.68 620.79L654.28 620.79L654.88 620.79L655.48 620.79L656.09 620.79L656.69 620.79L657.29 620.79L657.89 620.79L658.50 620.79L659.10 620.79L659.70 620.79" stroke="#000000"/>
<path d="M57.50 426.12L58.10 426.53L58.70 426.94L59.31 427.34L59.91 427.74L60.51 428.14L61.11 428.53L61.72 428.92L62.32 429.31L62.92 429.69L63.52 430.06L64.12 430.43L64.73 430.80L65.33 431.16L65.93 431.52L66.53 431.87L67.14 432.21L67.74 432.55L68.34 432.89L68.94 433.22L69.54 433.54L70.15 433.86L70.75 434.17L71.35 434.47L71.95 434.77L72.56 435.06L73.16 435.35L73.76 435.62L74.36 435.89L74.96 436.16L75.57 436.42L76.17 436.67L76.77 436.92L77.37 437.17L77.97 437.41L78.58 437.65L79.18 437.88L79.78 438.11L80.38 438.34L80.99 438.57L81.59 438.79L82.19 439.02L82.79 439.24L83.39 439.46L84.00 439.69L84.60 439.91L85.20 440.13L85.80 440.36L86.41 440.58L87.01 440.81L87.61 441.04L88.21 441.27L88.81 441.50L89.42 441.74L90.02 441.98L90.62 442.23L91.22 442.48L91.83 442.73L92.43 442.99L93.03 443.25L93.63 443.52L94.23 443.78L94.84 444.05L95.44 444.32L96.04 444.59L96.64 444.86L97.25 445.13L97.85 445.39L98.45 445.66L99.05 445.93L99.65 446.19L100.26 446.45L100.86 446.71L101.46 446.96L102.06 447.21L102.66 447.46L103.27 447.70L103.87 447.93L104.47 448.16L105.07 448.38L105.68 448.60L106.28 448.80L106.88 449.00L107.48 449.19L108.08 449.38L108.69 449.56L109.29 449.74L109.89 449.92L110.49 450.09L111.10 450.27L111.70 450.44L112.30 450.60L112.90 450.77L113.50 450.93L114.11 451.09L114.71 451.25L115.31 451.40L115.91 451.55L116.52 451.70L117.12 451.85L117.72 451.99L118.32 452.13L118.92 452.27L119.53 452.41L120.13 452.54L120.73 452.67L121.33 452.80L121.94 452.93L122.54 453.05L123.14 453.17L123.74 453.29L124.34 453.41L124.95 453.52L125.55 453.63L126.15 453.73L126.75 453.83L127.36 453.93L127.96 454.02L128.56 454.11L129.16 454.20L129.76 454.28L130.37 454.37L130.97 454.45L131.57 454.53L132.17 454.60L132.78 454.68L133.38 454.76L133.98 454.83L134.58 454.91L135.18 454.99L135.79 455.07L136.39 455.15L136.99 455.23L137.59 455.32L138.19 455.40L138.80 455.49L139.40 455.59L140.00 455.68L140.60 455.78L141.21 455.89L141.81 456.00L142.41 456.11L143.01 456.24L143.61 456.36L144.22 456.50L144.82 456.64L145.42 456.79L146.02 456.94L146.63 457.10L147.23 457.26L147.83 457.43L148.43 457.60L149.03 457.77L149.64 457.95L150.24 458.13L150.84 458.32L151.44 458.52L152.05 458.72L152.65 458.92L153.25 459.14L153.85 459.36L154.45 459.59L155.06 459.82L155.66 460.05L156.26 460.30L156.86 460.54L157.47 460.79L158.07 461.05L158.67 461.31L159.27 461.57L159.87 461.83L160.48 462.09L161.08 462.36L161.68 462.64L162.28 462.92L162.88 463.21L163.49 463.51L164.09 463.81L164.69 464.13L165.29 464.46L165.90 464.80L166.50 465.16L167.10 465.53L167.70 465.92L168.30 466.33L168.91 466.76L169.51 467.22L170.11 467.71L170.71 468.21L171.32 468.74L171.92 469.29L172.52 469.86L173.12 470.45L173.72 471.06L174.33 471.70L174.93 472.35L175.53 473.02L176.13 473.71L176.74 474.42L177.34 475.17L177.94 475.96L178.54 476.78L179.14 477.63L179.75 478.51L180.35 479.43L180.95 480.38L181.55 481.36L182.16 482.37L182.76 483.41L183.36 484.47L183.96 485.57L184.56 486.69L185.17 487.84L185.77 489.01L186.37 490.22L186.97 491.47L187.58 492.76L188.18 494.09L188.78 495.48L189.38 496.92L189.98 498.42L190.59 499.98L191.19 501.61L191.79 503.31L192.39 505.09L193.00 506.95L193.60 508.89L194.20 511.02L194.80 513.40L195.40 516.00L196.01 518.78L196.61 521.70L197.21 524.72L197.81 527.80L198.41 530.92L199.02 534.02L199.62 537.07L200.22 540.04L200.82 542.96L201.43 545.92L202.03 548.89L202.63 551.88L203.23 554.89L203.83 557.92L204.44 560.97L205.04 564.06L205.64 567.17L206.24 570.28L206.85 573.36L207.45 576.41L208.05 579.42L208.65 582.40L209.25 585.38L209.86 588.34L210.46 591.31L211.06 594.29L211.66 597.30L212.27 600.33L212.87 603.36L213.47 606.34L214.07 609.27L214.67 612.12L215.28 614.97L215.88 617.79L216.48 620.55L217.08 623.20L217.69 625.68L218.29 627.98L218.89 630.19L219.49 632.31L220.09 634.32L220.70 636.19L221.30 637.89L221.90 639.42L222.50 640.87L223.11 642.25L223.71 643.55L224.31 644.77L224.91 645.90L225.51 646.93L226.12 647.85L226.72 648.68L227.32 649.48L227.92 650.26L228.52 651.00L229.13 651.70L229.73 652.34L230.33 652.92L230.93 653.42L231.54 653.84L232.14 654.17L232.74 654.41L233.34 654.65L233.94 654.87L234.55 655.07L235.15 655.27L235.75 655.44L236.35 655.59L236.96 655.73L237.56 655.83L238.16 655.91L238.76 655.96L239.36 655.98L239.97 655.96L240.57 655.93L241.17 655.87L241.77 655.80L242.38 655.70L242.98 655.60L243.58 655.48L244.18 655.36L244.78 655.23L245.39 655.09L245.99 654.96L246.59 654.82L247.19 654.68L247.80 654.51L248.40 654.32L249.00 654.11L249.60 653.90L250.20 653.66L250.81 653.42L251.41 653.18L252.01 652.93L252.61 652.67L253.22 652.42L253.82 652.18L254.42 651.92L255.02 651.66L255.62 651.39L256.23 651.11L256.83 650.82L257.43 650.54L258.03 650.25L258.63 649.97L259.24 649.69L259.84 649.42L260.44 649.16L261.04 648.90L261.65 648.64L262.25 648.38L262.85 648.13L263.45 647.88L264.05 647.63L264.66 647.38L265.26 647.13L265.86 646.88L266.46 646.63L267.07 646.38L267.67 646.13L268.27 645.88L268.87 645.63L269.47 645.38L270.08 645.13L270.68 644.88L271.28 644.63L271.88 644.38L272.49 644.13L273.09 643.88L273.69 643.63L274.29 643.38L274.89 643.13L275.50 642.88L276.10 642.63L276.70 642.38L277.30 642.13L277.91 641.88L278.51 641.62L279.11 641.36L279.71 641.09L280.31 640.82L280.92 640.56L281.52 640.29L282.12 640.03L282.72 639.77L283.33 639.51L283.93 639.27L284.53 639.03L285.13 638.80L285.73 638.59L286.34 638.38L286.94 638.19L287.54 638.00L288.14 637.81L288.74 637.63L289.35 637.45L289.95 637.28L290.55 637.11L291.15 636.94L291.76 636.77L292.36 636.62L292.96 636.46L293.56 636.31L294.16 636.16L294.77 636.01L295.37 635.87L295.97 635.73L296.57 635.60L297.18 635.46L297.78 635.34L298.38 635.21L298.98 635.09L299.58 634.97L300.19 634.85L300.79 634.73L301.39 634.62L301.99 634.50L302.60 634.39L303.20 634.29L303.80 634.18L304.40 634.08L305.00 633.98L305.61 633.88L306.21 633.78L306.81 633.69L307.41 633.60L308.02 633.51L308.62 633.43L309.22 633.35L309.82 633.27L310.42 633.19L311.03 633.12L311.63 633.05L312.23 632.98L312.83 632.92L313.44 632.86L314.04 632.80L314.64 632.74L315.24 632.69L315.84 632.63L316.45 632.58L317.05 632.52L317.65 632.47L318.25 632.42L318.85 632.36L319.46 632.31L320.06 632.26L320.66 632.21L321.26 632.15L321.87 632.10L322.47 632.04L323.07 631.98L323.67 631.92L324.27 631.86L324.88 631.79L325.48 631.73L326.08 631.66L326.68 631.60L327.29 631.53L327.89 631.46L328.49 631.40L329.09 631.34L329.69 631.28L330.30 631.22L330.90 631.16L331.50 631.10L332.10 631.05L332.71 631.00L333.31 630.96L333.91 630.92L334.51 630.88L335.11 630.85L335.72 630.82L336.32 630.79L336.92 630.76L337.52 630.73L338.13 630.70L338.73 630.67L339.33 630.65L339.93 630.62L340.53 630.60L341.14 630.57L341.74 630.55L342.34 630.52L342.94 630.50L343.55 630.48L344.15 630.46L344.75 630.43L345.35 630.41L345.95 630.39L346.56 630.37L347.16 630.35L347.76 630.33L348.36 630.32L348.96 630.30L349.57 630.28L350.17 630.26L350.77 630.24L351.37 630.22L351.98 630.21L352.58 630.19L353.18 630.17L353.78 630.16L354.38 630.14L354.99 630.12L355.59 630.10L356.19 630.09L356.79 630.07L357.40 630.05L358.00 630.04L358.60 630.02L359.20 630.00L359.80 629.98L360.41 629.97L361.01 629.95L361.61 629.93L362.21 629.91L362.82 629.89L363.42 629.87L364.02 629.85L364.62 629.83L365.22 629.81L365.83 629.79L366.43 629.77L367.03 629.75L367.63 629.74L368.24 629.72L368.84 629.70L369.44 629.68L370.04 629.66L370.64 629.64L371.25 629.63L371.85 629.61L372.45 629.59L373.05 629.58L373.66 629.56L374.26 629.55L374.86 629.54L375.46 629.52L376.06 629.51L376.67 629.50L377.27 629.49L377.87 629.48L378.47 629.47L379.07 629.46L379.68 629.46L380.28 629.45L380.88 629.45L381.48 629.45L382.09 629.44L382.69 629.44L383.29 629.44L383.89 629.44L384.49 629.45L385.10 629.45L385.70 629.45L386.30 629.45L386.90 629.45L387.51 629.46L388.11 629.46L388.71 629.47L389.31 629.47L389.91 629.48L390.52 629.48L391.12 629.49L391.72 629.49L392.32 629.50L392.93 629.51L393.53 629.52L394.13 629.52L394.73 629.53L395.33 629.54L395.94 629.55L396.54 629.56L397.14 629.57L397.74 629.58L398.35 629.59L398.95 629.60L399.55 629.61L400.15 629.62L400.75 629.63L401.36 629.64L401.96 629.65L402.56 629.66L403.16 629.67L403.76 629.69L404.37 629.70L404.97 629.71L405.57 629.72L406.17 629.74L406.78 629.75L407.38 629.76L407.98 629.77L408.58 629.79L409.18 629.80L409.79 629.81L410.39 629.83L410.99 629.84L411.59 629.85L412.20 629.87L412.80 629.88L413.40 629.90L414.00 629.91L414.60 629.92L415.21 629.94L415.81 629.95L416.41 629.96L417.01 629.98L417.62 629.99L418.22 630.01L418.82 630.02L419.42 630.03L420.02 630.05L420.63 630.06L421.23 630.08L421.83 630.10L422.43 630.12L423.04 630.13L423.64 630.15L424.24 630.17L424.84 630.19L425.44 630.21L426.05 630.24L426.65 630.26L427.25 630.28L427.85 630.30L428.46 630.32L429.06 630.35L429.66 630.37L430.26 630.39L430.86 630.42L431.47 630.44L432.07 630.47L432.67 630.49L433.27 630.51L433.88 630.54L434.48 630.56L435.08 630.59L435.68 630.61L436.28 630.64L436.89 630.66L437.49 630.68L438.09 630.71L438.69 630.73L439.29 630.75L439.90 630.78L440.50 630.80L441.10 630.82L441.70 630.84L442.31 630.86L442.91 630.88L443.51 630.91L444.11 630.93L444.71 630.95L445.32 630.97L445.92 630.99L446.52 631.01L447.12 631.03L447.73 631.05L448.33 631.07L448.93 631.08L449.53 631.10L450.13 631.12L450.74 631.14L451.34 631.16L451.94 631.18L452.54 631.20L453.15 631.22L453.75 631.24L454.35 631.26L454.95 631.28L455.55 631.30L456.16 631.32L456.76 631.34L457.36 631.35L457.96 631.37L458.57 631.39L459.17 631.41L459.77 631.43L460.37 631.45L460.97 631.47L461.58 631.49L462.18 631.51L462.78 631.52L463.38 631.54L463.99 631.56L464.59 631.58L465.19 631.60L465.79 631.62L466.39 631.64L467.00 631.66L467.60 631.67L468.20 631.69L468.80 631.71L469.40 631.73L470.01 631.75L470.61 631.77L471.21 631.79L471.81 631.81L472.42 631.83L473.02 631.84L473.62 631.86L474.22 631.88L474.82 631.90L475.43 631.92L476.03 631.94L476.63 631.96L477.23 631.98L477.84 632.00L478.44 632.02L479.04 632.04L479.64 632.06L480.24 632.08L480.85 632.10L481.45 632.12L482.05 632.14L482.65 632.16L483.26 632.18L483.86 632.20L484.46 632.22L485.06 632.23L485.66 632.25L486.27 632.27L486.87 632.29L487.47 632.31L488.07 632.33L488.68 632.35L489.28 632.37L489.88 632.39L490.48 632.41L491.08 632.43L491.69 632.45L492.29 632.47L492.89 632.49L493.49 632.51L494.10 632.53L494.70 632.55L495.30 632.57L495.90 632.59L496.50 632.61L497.11 632.63L497.71 632.65L498.31 632.67L498.91 632.69L499.51 632.71L500.12 632.73L500.72 632.75L501.32 632.77L501.92 632.79L502.53 632.81L503.13 632.83L503.73 632.85L504.33 632.87L504.93 632.88L505.54 632.90L506.14 632.92L506.74 632.94L507.34 632.96L507.95 632.98L508.55 633.00L509.15 633.02L509.75 633.04L510.35 633.06L510.96 633.08L511.56 633.10L512.16 633.12L512.76 633.14L513.37 633.16L513.97 633.18L514.57 633.21L515.17 633.23L515.77 633.25L516.38 633.27L516.98 633.29L517.58 633.31L518.18 633.33L518.79 633.35L519.39 633.37L519.99 633.39L520.59 633.41L521.19 633.43L521.80 633.45L522.40 633.47L523.00 633.49L523.60 633.51L524.21 633.53L524.81 633.55L525.41 633.57L526.01 633.59L526.61 633.61L527.22 633.63L527.82 633.66L528.42 633.68L529.02 633.70L529.62 633.72L530.23 633.74L530.83 633.76L531.43 633.78L532.03 633.80L532.64 633.82L533.24 633.84L533.84 633.87L534.44 633.89L535.04 633.91L535.65 633.93L536.25 633.95L536.85 633.97L537.45 633.99L538.06 634.01L538.66 634.04L539.26 634.06L539.86 634.08L540.46 634.10L541.07 634.12L541.67 634.14L542.27 634.17L542.87 634.19L543.48 634.21L544.08 634.23L544.68 634.25L545.28 634.28L545.88 634.30L546.49 634.32L547.09 634.34L547.69 634.36L548.29 634.39L548.90 634.41L549.50 634.43L550.10 634.45L550.70 634.48L551.30 634.50L551.91 634.52L552.51 634.54L553.11 634.57L553.71 634.59L554.32 634.61L554.92 634.64L555.52 634.66L556.12 634.68L556.72 634.70L557.33 634.73L557.93 634.75L558.53 634.77L559.13 634.80L559.73 634.82L560.34 634.84L560.94 634.87L561.54 634.89L562.14 634.91L562.75 634.93L563.35 634.96L563.95 634.98L564.55 635.00L565.15 635.03L565.76 635.05L566.36 635.07L566.96 635.10L567.56 635.12L568.17 635.14L568.77 635.17L569.37 635.19L569.97 635.22L570.57 635.24L571.18 635.26L571.78 635.29L572.38 635.31L572.98 635.33L573.59 635.36L574.19 635.38L574.79 635.40L575.39 635.43L575.99 635.45L576.60 635.47L577.20 635.50L577.80 635.52L578.40 635.54L579.01 635.57L579.61 635.59L580.21 635.62L580.81 635.64L581.41 635.66L582.02 635.69L582.62 635.71L583.22 635.73L583.82 635.76L584.43 635.78L585.03 635.80L585.63 635.83L586.23 635.85L586.83 635.87L587.44 635.90L588.04 635.92L588.64 635.95L589.24 635.97L589.84 635.99L590.45 636.02L591.05 636.04L591.65 636.06L592.25 636.09L592.86 636.11L593.46 636.13L594.06 636.16L594.66 636.18L595.26 636.20L595.87 636.23L596.47 636.25L597.07 636.27L597.67 636.30L598.28 636.32L598.88 636.34L599.48 636.36L600.08 636.39L600.68 636.41L601.29 636.43L601.89 636.46L602.49 636.48L603.09 636.50L603.70 636.53L604.30 636.55L604.90 636.57L605.50 636.60L606.10 636.62L606.71 636.64L607.31 636.66L607.91 636.69L608.51 636.71L609.12 636.73L609.72 636.76L610.32 636.78L610.92 636.80L611.52 636.83L612.13 636.85L612.73 636.87L613.33 636.90L613.93 636.92L614.54 636.94L615.14 636.96L615.74 636.99L616.34 637.01L616.94 637.03L617.55 637.06L618.15 637.08L618.75 637.10L619.35 637.13L619.95 637.15L620.56 637.17L621.16 637.19L621.76 637.22L622.36 637.24L622.97 637.26L623.57 637.29L624.17 637.31L624.77 637.33L625.37 637.36L625.98 637.38L626.58 637.40L627.18 637.43L627.78 637.45L628.39 637.47L628.99 637.49L629.59 637.52L630.19 637.54L630.79 637.56L631.40 637.59L632.00 637.61L632.60 637.63L633.20 637.66L633.81 637.68L634.41 637.70L635.01 637.73L635.61 637.75L636.21 637.77L636.82 637.79L637.42 637.82L638.02 637.84L638.62 637.86L639.23 637.89L639.83 637.91L640.43 637.93L641.03 637.96L641.63 637.98L642.24 638.00L642.84 638.03L643.44 638.05L644.04 638.07L644.64 638.09L645.25 638.12L645.85 638.14L646.45 638.16L647.05 638.19L647.66 638.21L648.26 638.23L648.86 638.26L649.46 638.28L650.06 638.30L650.67 638.33L651.27 638.35L651.87 638.37L652.47 638.39L653.08 638.42L653.68 638.44L654.28 638.46L654.88 638.49L655.48 638.51L656.09 638.53L656.69 638.56L657.29 638.58L657.89 638.60L658.50 638.63L659.10 638.65L659.70 638.67" stroke="#3a7cc6"/>
</g>
<g fill="none" stroke-width="1.4">
<g stroke="#e8201a"><circle cx="57.50" cy="467.94" r="3.3"/><circle cx="69.54" cy="473.13" r="3.3"/><circle cx="81.59" cy="477.74" r="3.3"/><circle cx="93.63" cy="481.21" r="3.3"/><circle cx="105.68" cy="482.65" r="3.3"/><circle cx="117.72" cy="484.67" r="3.3"/><circle cx="129.76" cy="486.97" r="3.3"/><circle cx="141.81" cy="488.42" r="3.3"/><circle cx="153.85" cy="492.74" r="3.3"/><circle cx="165.90" cy="502.26" r="3.3"/><circle cx="177.94" cy="519.56" r="3.3"/><circle cx="189.98" cy="548.98" r="3.3"/><circle cx="202.03" cy="589.93" r="3.3"/><circle cx="214.07" cy="629.44" r="3.3"/><circle cx="226.12" cy="653.38" r="3.3"/><circle cx="238.16" cy="661.74" r="3.3"/><circle cx="250.20" cy="662.32" r="3.3"/><circle cx="262.25" cy="663.47" r="3.3"/><circle cx="274.29" cy="663.47" r="3.3"/><circle cx="286.34" cy="663.47" r="3.3"/><circle cx="298.38" cy="662.90" r="3.3"/><circle cx="310.42" cy="662.32" r="3.3"/><circle cx="322.47" cy="661.46" r="3.3"/><circle cx="334.51" cy="660.59" r="3.3"/><circle cx="346.56" cy="659.15" r="3.3"/><circle cx="358.60" cy="657.42" r="3.3"/><circle cx="370.64" cy="654.82" r="3.3"/><circle cx="382.69" cy="652.23" r="3.3"/><circle cx="394.73" cy="649.92" r="3.3"/><circle cx="406.78" cy="646.17" r="3.3"/><circle cx="418.82" cy="641.84" r="3.3"/><circle cx="430.86" cy="636.08" r="3.3"/><circle cx="442.91" cy="628.87" r="3.3"/><circle cx="454.95" cy="620.50" r="3.3"/><circle cx="467.00" cy="608.68" r="3.3"/><circle cx="479.04" cy="593.39" r="3.3"/><circle cx="491.08" cy="575.80" r="3.3"/><circle cx="503.13" cy="555.90" r="3.3"/><circle cx="515.17" cy="536.29" r="3.3"/><circle cx="527.22" cy="522.45" r="3.3"/><circle cx="539.26" cy="518.41" r="3.3"/><circle cx="551.30" cy="527.06" r="3.3"/><circle cx="563.35" cy="544.08" r="3.3"/><circle cx="575.39" cy="563.98" r="3.3"/><circle cx="587.44" cy="582.43" r="3.3"/><circle cx="599.48" cy="598.01" r="3.3"/><circle cx="611.52" cy="610.70" r="3.3"/><circle cx="623.57" cy="620.79" r="3.3"/><circle cx="635.61" cy="628.87" r="3.3"/><circle cx="647.66" cy="634.92" r="3.3"/><circle cx="659.70" cy="639.54" r="3.3"/></g>
<g stroke="#1a1a1a"><rect x="55.10" y="412.47" width="4.8" height="4.8"/><rect x="67.14" y="415.85" width="4.8" height="4.8"/><rect x="79.19" y="420.01" width="4.8" height="4.8"/><rect x="91.23" y="424.43" width="4.8" height="4.8"/><rect x="103.28" y="428.60" width="4.8" height="4.8"/><rect x="115.32" y="432.38" width="4.8" height="4.8"/><rect x="127.36" y="436.32" width="4.8" height="4.8"/><rect x="139.41" y="440.78" width="4.8" height="4.8"/><rect x="151.45" y="446.28" width="4.8" height="4.8"/><rect x="163.50" y="452.68" width="4.8" height="4.8"/><rect x="175.54" y="460.28" width="4.8" height="4.8"/><rect x="187.58" y="469.07" width="4.8" height="4.8"/><rect x="199.63" y="479.69" width="4.8" height="4.8"/><rect x="211.67" y="494.24" width="4.8" height="4.8"/><rect x="223.72" y="514.59" width="4.8" height="4.8"/><rect x="235.76" y="538.89" width="4.8" height="4.8"/><rect x="247.80" y="564.61" width="4.8" height="4.8"/><rect x="259.85" y="590.37" width="4.8" height="4.8"/><rect x="271.89" y="609.74" width="4.8" height="4.8"/><rect x="283.94" y="624.45" width="4.8" height="4.8"/><rect x="295.98" y="631.95" width="4.8" height="4.8"/><rect x="308.02" y="634.83" width="4.8" height="4.8"/><rect x="320.07" y="634.83" width="4.8" height="4.8"/><rect x="332.11" y="633.39" width="4.8" height="4.8"/><rect x="344.16" y="631.37" width="4.8" height="4.8"/><rect x="356.20" y="629.06" width="4.8" height="4.8"/><rect x="368.24" y="627.04" width="4.8" height="4.8"/><rect x="380.29" y="625.31" width="4.8" height="4.8"/><rect x="392.33" y="623.58" width="4.8" height="4.8"/><rect x="404.38" y="622.45" width="4.8" height="4.8"/><rect x="416.42" y="621.38" width="4.8" height="4.8"/><rect x="428.46" y="620.41" width="4.8" height="4.8"/><rect x="440.51" y="619.65" width="4.8" height="4.8"/><rect x="452.55" y="619.12" width="4.8" height="4.8"/><rect x="464.60" y="618.76" width="4.8" height="4.8"/><rect x="476.64" y="618.59" width="4.8" height="4.8"/><rect x="488.68" y="618.47" width="4.8" height="4.8"/><rect x="500.73" y="618.40" width="4.8" height="4.8"/><rect x="512.77" y="618.39" width="4.8" height="4.8"/><rect x="524.82" y="618.39" width="4.8" height="4.8"/><rect x="536.86" y="618.39" width="4.8" height="4.8"/><rect x="548.90" y="618.39" width="4.8" height="4.8"/><rect x="560.95" y="618.39" width="4.8" height="4.8"/><rect x="572.99" y="618.39" width="4.8" height="4.8"/><rect x="585.04" y="618.39" width="4.8" height="4.8"/><rect x="597.08" y="618.39" width="4.8" height="4.8"/><rect x="609.12" y="618.39" width="4.8" height="4.8"/><rect x="621.17" y="618.39" width="4.8" height="4.8"/><rect x="633.21" y="618.39" width="4.8" height="4.8"/><rect x="645.26" y="618.39" width="4.8" height="4.8"/><rect x="657.30" y="618.39" width="4.8" height="4.8"/></g>
<g stroke="#2f6fbf"><path d="M57.50 418.94L60.75 423.24L57.50 427.54L54.25 423.24Z"/><path d="M69.54 425.86L72.79 430.16L69.54 434.46L66.29 430.16Z"/><path d="M81.59 430.18L84.84 434.48L81.59 438.78L78.34 434.48Z"/><path d="M93.63 435.09L96.88 439.39L93.63 443.69L90.38 439.39Z"/><path d="M105.68 439.41L108.93 443.71L105.68 448.01L102.43 443.71Z"/><path d="M117.72 443.16L120.97 447.46L117.72 451.76L114.47 447.46Z"/><path d="M129.76 445.18L133.01 449.48L129.76 453.78L126.51 449.48Z"/><path d="M141.81 449.22L145.06 453.52L141.81 457.82L138.56 453.52Z"/><path d="M153.85 450.66L157.10 454.96L153.85 459.26L150.60 454.96Z"/><path d="M165.90 453.54L169.15 457.84L165.90 462.14L162.65 457.84Z"/><path d="M177.94 460.75L181.19 465.05L177.94 469.35L174.69 465.05Z"/><path d="M189.98 478.35L193.23 482.65L189.98 486.95L186.73 482.65Z"/><path d="M202.03 516.42L205.28 520.72L202.03 525.02L198.78 520.72Z"/><path d="M214.07 573.81L217.32 578.11L214.07 582.41L210.82 578.11Z"/><path d="M226.12 624.28L229.37 628.58L226.12 632.88L222.87 628.58Z"/><path d="M238.16 647.64L241.41 651.94L238.16 656.24L234.91 651.94Z"/><path d="M250.20 648.50L253.45 652.80L250.20 657.10L246.95 652.80Z"/><path d="M262.25 641.87L265.50 646.17L262.25 650.47L259.00 646.17Z"/><path d="M274.29 635.81L277.54 640.11L274.29 644.41L271.04 640.11Z"/><path d="M286.34 630.05L289.59 634.35L286.34 638.65L283.09 634.35Z"/><path d="M298.38 627.16L301.63 631.46L298.38 635.76L295.13 631.46Z"/><path d="M310.42 623.41L313.67 627.71L310.42 632.01L307.17 627.71Z"/><path d="M322.47 621.39L325.72 625.69L322.47 629.99L319.22 625.69Z"/><path d="M334.51 619.95L337.76 624.25L334.51 628.55L331.26 624.25Z"/><path d="M346.56 618.80L349.81 623.10L346.56 627.40L343.31 623.10Z"/><path d="M358.60 618.22L361.85 622.52L358.60 626.82L355.35 622.52Z"/><path d="M370.64 617.93L373.89 622.23L370.64 626.53L367.39 622.23Z"/><path d="M382.69 617.93L385.94 622.23L382.69 626.53L379.44 622.23Z"/><path d="M394.73 617.93L397.98 622.23L394.73 626.53L391.48 622.23Z"/><path d="M406.78 618.22L410.03 622.52L406.78 626.82L403.53 622.52Z"/><path d="M418.82 618.51L422.07 622.81L418.82 627.11L415.57 622.81Z"/><path d="M430.86 618.80L434.11 623.10L430.86 627.40L427.61 623.10Z"/><path d="M442.91 619.09L446.16 623.39L442.91 627.69L439.66 623.39Z"/><path d="M454.95 619.46L458.20 623.76L454.95 628.06L451.70 623.76Z"/><path d="M467.00 619.87L470.25 624.17L467.00 628.47L463.75 624.17Z"/><path d="M479.04 620.24L482.29 624.54L479.04 628.84L475.79 624.54Z"/><path d="M491.08 620.51L494.33 624.81L491.08 629.11L487.83 624.81Z"/><path d="M503.13 620.76L506.38 625.06L503.13 629.36L499.88 625.06Z"/><path d="M515.17 621.11L518.42 625.41L515.17 629.71L511.92 625.41Z"/><path d="M527.22 621.97L530.47 626.27L527.22 630.57L523.97 626.27Z"/><path d="M539.26 622.84L542.51 627.14L539.26 631.44L536.01 627.14Z"/><path d="M551.30 623.24L554.55 627.54L551.30 631.84L548.05 627.54Z"/><path d="M563.35 623.54L566.60 627.84L563.35 632.14L560.10 627.84Z"/><path d="M575.39 623.79L578.64 628.09L575.39 632.39L572.14 628.09Z"/><path d="M587.44 624.02L590.69 628.32L587.44 632.62L584.19 628.32Z"/><path d="M599.48 624.28L602.73 628.58L599.48 632.88L596.23 628.58Z"/><path d="M611.52 624.57L614.77 628.87L611.52 633.17L608.27 628.87Z"/><path d="M623.57 624.85L626.82 629.15L623.57 633.45L620.32 629.15Z"/><path d="M635.61 625.14L638.86 629.44L635.61 633.74L632.36 629.44Z"/><path d="M647.66 625.43L650.91 629.73L647.66 634.03L644.41 629.73Z"/><path d="M659.70 625.72L662.95 630.02L659.70 634.32L656.45 630.02Z"/></g>
</g>
<rect x="57.60" y="756.90" width="602.90" height="284.00" fill="none" stroke="#b0b0b0" stroke-width="1.8"/>
<path d="M117.89 1040.90V1035.40M117.89 756.90V762.40M178.18 1040.90V1035.40M178.18 756.90V762.40M238.47 1040.90V1035.40M238.47 756.90V762.40M298.76 1040.90V1035.40M298.76 756.90V762.40M359.05 1040.90V1035.40M359.05 756.90V762.40M419.34 1040.90V1035.40M419.34 756.90V762.40M479.63 1040.90V1035.40M479.63 756.90V762.40M539.92 1040.90V1035.40M539.92 756.90V762.40M600.21 1040.90V1035.40M600.21 756.90V762.40M57.60 984.10H63.10M660.50 984.10H655.00M57.60 927.30H63.10M660.50 927.30H655.00M57.60 870.50H63.10M660.50 870.50H655.00M57.60 813.70H63.10M660.50 813.70H655.00" stroke="#6e6e6e" stroke-width="1.1" fill="none"/>
<line x1="239.40" y1="758.10" x2="239.40" y2="1040.90" stroke="#1b5478" stroke-width="2.4" stroke-dasharray="2.4 1.98"/>
<g fill="none" stroke-width="5.0" stroke-linejoin="round" stroke-linecap="butt">
<path d="M57.60 967.06L58.20 966.85L58.81 966.64L59.41 966.43L60.01 966.23L60.61 966.04L61.22 965.84L61.82 965.66L62.42 965.48L63.03 965.30L63.63 965.13L64.23 964.97L64.83 964.82L65.44 964.67L66.04 964.54L66.64 964.41L67.25 964.30L67.85 964.19L68.45 964.09L69.06 964.01L69.66 963.94L70.26 963.87L70.86 963.80L71.47 963.74L72.07 963.68L72.67 963.61L73.28 963.56L73.88 963.50L74.48 963.44L75.08 963.39L75.69 963.34L76.29 963.30L76.89 963.26L77.50 963.22L78.10 963.18L78.70 963.15L79.30 963.13L79.91 963.11L80.51 963.10L81.11 963.09L81.72 963.08L82.32 963.09L82.92 963.10L83.52 963.11L84.13 963.13L84.73 963.15L85.33 963.18L85.94 963.21L86.54 963.25L87.14 963.29L87.75 963.34L88.35 963.39L88.95 963.44L89.55 963.49L90.16 963.55L90.76 963.61L91.36 963.67L91.97 963.73L92.57 963.80L93.17 963.87L93.77 963.94L94.38 964.01L94.98 964.11L95.58 964.22L96.19 964.35L96.79 964.49L97.39 964.64L97.99 964.81L98.60 964.98L99.20 965.17L99.80 965.37L100.41 965.57L101.01 965.78L101.61 966.00L102.21 966.22L102.82 966.45L103.42 966.68L104.02 966.92L104.63 967.15L105.23 967.39L105.83 967.63L106.43 967.87L107.04 968.12L107.64 968.38L108.24 968.65L108.85 968.93L109.45 969.22L110.05 969.52L110.66 969.83L111.26 970.15L111.86 970.48L112.46 970.81L113.07 971.15L113.67 971.50L114.27 971.86L114.88 972.23L115.48 972.60L116.08 972.98L116.68 973.37L117.29 973.76L117.89 974.16L118.49 974.57L119.10 975.00L119.70 975.44L120.30 975.89L120.90 976.36L121.51 976.84L122.11 977.33L122.71 977.84L123.32 978.35L123.92 978.88L124.52 979.42L125.12 979.97L125.73 980.53L126.33 981.10L126.93 981.67L127.54 982.26L128.14 982.85L128.74 983.45L129.35 984.06L129.95 984.67L130.55 985.30L131.15 985.96L131.76 986.65L132.36 987.37L132.96 988.10L133.57 988.85L134.17 989.61L134.77 990.38L135.37 991.16L135.98 991.94L136.58 992.72L137.18 993.49L137.79 994.26L138.39 995.01L138.99 995.75L139.59 996.47L140.20 997.16L140.80 997.84L141.40 998.50L142.01 999.14L142.61 999.77L143.21 1000.40L143.81 1001.03L144.42 1001.66L145.02 1002.29L145.62 1002.94L146.23 1003.59L146.83 1004.26L147.43 1004.96L148.03 1005.69L148.64 1006.43L149.24 1007.18L149.84 1007.95L150.45 1008.70L151.05 1009.45L151.65 1010.19L152.26 1010.90L152.86 1011.58L153.46 1012.22L154.06 1012.83L154.67 1013.43L155.27 1014.01L155.87 1014.58L156.48 1015.13L157.08 1015.67L157.68 1016.20L158.28 1016.72L158.89 1017.22L159.49 1017.70L160.09 1018.18L160.70 1018.65L161.30 1019.11L161.90 1019.57L162.50 1020.01L163.11 1020.45L163.71 1020.87L164.31 1021.28L164.92 1021.67L165.52 1022.05L166.12 1022.40L166.72 1022.72L167.33 1023.04L167.93 1023.34L168.53 1023.63L169.14 1023.92L169.74 1024.19L170.34 1024.44L170.95 1024.68L171.55 1024.90L172.15 1025.10L172.75 1025.28L173.36 1025.45L173.96 1025.63L174.56 1025.80L175.17 1025.96L175.77 1026.11L176.37 1026.23L176.97 1026.33L177.58 1026.39L178.18 1026.42L178.78 1026.39L179.39 1026.33L179.99 1026.23L180.59 1026.10L181.19 1025.95L181.80 1025.79L182.40 1025.62L183.00 1025.45L183.61 1025.28L184.21 1025.11L184.81 1024.93L185.41 1024.73L186.02 1024.52L186.62 1024.29L187.22 1024.06L187.83 1023.81L188.43 1023.55L189.03 1023.28L189.64 1023.01L190.24 1022.72L190.84 1022.41L191.44 1022.07L192.05 1021.70L192.65 1021.31L193.25 1020.91L193.86 1020.51L194.46 1020.13L195.06 1019.77L195.66 1019.43L196.27 1019.09L196.87 1018.74L197.47 1018.39L198.08 1018.06L198.68 1017.75L199.28 1017.47L199.88 1017.23L200.49 1017.04L201.09 1016.88L201.69 1016.73L202.30 1016.60L202.90 1016.51L203.50 1016.48L204.10 1016.50L204.71 1016.57L205.31 1016.66L205.91 1016.76L206.52 1016.88L207.12 1017.03L207.72 1017.22L208.32 1017.44L208.93 1017.68L209.53 1017.95L210.13 1018.24L210.74 1018.56L211.34 1018.89L211.94 1019.24L212.55 1019.60L213.15 1020.02L213.75 1020.53L214.35 1021.11L214.96 1021.76L215.56 1022.45L216.16 1023.17L216.77 1023.91L217.37 1024.64L217.97 1025.36L218.57 1026.05L219.18 1026.70L219.78 1027.32L220.38 1027.93L220.99 1028.55L221.59 1029.16L222.19 1029.76L222.79 1030.36L223.40 1030.95L224.00 1031.54L224.60 1032.11L225.21 1032.68L225.81 1033.23L226.41 1033.79L227.01 1034.37L227.62 1034.96L228.22 1035.55L228.82 1036.12L229.43 1036.66L230.03 1037.16L230.63 1037.62L231.24 1038.02L231.84 1038.34L232.44 1038.63L233.04 1038.92L233.65 1039.19L234.25 1039.46L234.85 1039.70L235.46 1039.91L236.06 1040.08L236.66 1040.22L237.26 1040.30L237.87 1040.33L238.47 1040.30L239.07 1040.21L239.68 1040.07L240.28 1039.88L240.88 1039.66L241.48 1039.40L242.09 1039.12L242.69 1038.82L243.29 1038.50L243.90 1038.17L244.50 1037.71L245.10 1037.15L245.70 1036.50L246.31 1035.78L246.91 1035.00L247.51 1034.20L248.12 1033.39L248.72 1032.58L249.32 1031.81L249.93 1031.05L250.53 1030.28L251.13 1029.49L251.73 1028.68L252.34 1027.87L252.94 1027.03L253.54 1026.19L254.15 1025.33L254.75 1024.46L255.35 1023.58L255.95 1022.68L256.56 1021.77L257.16 1020.85L257.76 1019.91L258.37 1018.96L258.97 1017.99L259.57 1017.01L260.17 1016.01L260.78 1015.00L261.38 1013.97L261.98 1012.91L262.59 1011.82L263.19 1010.71L263.79 1009.58L264.39 1008.44L265.00 1007.31L265.60 1006.18L266.20 1005.07L266.81 1003.98L267.41 1002.91L268.01 1001.85L268.62 1000.80L269.22 999.76L269.82 998.73L270.42 997.69L271.03 996.65L271.63 995.60L272.23 994.54L272.84 993.47L273.44 992.40L274.04 991.32L274.64 990.24L275.25 989.15L275.85 988.06L276.45 986.96L277.06 985.84L277.66 984.70L278.26 983.55L278.86 982.37L279.47 981.16L280.07 979.91L280.67 978.64L281.28 977.36L281.88 976.07L282.48 974.79L283.08 973.52L283.69 972.26L284.29 971.04L284.89 969.83L285.50 968.64L286.10 967.45L286.70 966.27L287.30 965.10L287.91 963.94L288.51 962.79L289.11 961.65L289.72 960.52L290.32 959.39L290.92 958.28L291.53 957.19L292.13 956.10L292.73 955.03L293.33 953.96L293.94 952.90L294.54 951.83L295.14 950.76L295.75 949.69L296.35 948.60L296.95 947.50L297.55 946.39L298.16 945.28L298.76 944.16L299.36 943.04L299.97 941.92L300.57 940.81L301.17 939.72L301.77 938.63L302.38 937.56L302.98 936.48L303.58 935.40L304.19 934.33L304.79 933.26L305.39 932.19L305.99 931.14L306.60 930.10L307.20 929.08L307.80 928.08L308.41 927.10L309.01 926.15L309.61 925.23L310.22 924.34L310.82 923.46L311.42 922.60L312.02 921.76L312.63 920.94L313.23 920.13L313.83 919.32L314.44 918.53L315.04 917.75L315.64 916.97L316.24 916.20L316.85 915.42L317.45 914.66L318.05 913.89L318.66 913.14L319.26 912.39L319.86 911.64L320.46 910.91L321.07 910.18L321.67 909.47L322.27 908.76L322.88 908.07L323.48 907.39L324.08 906.72L324.68 906.06L325.29 905.41L325.89 904.77L326.49 904.13L327.10 903.51L327.70 902.89L328.30 902.28L328.91 901.69L329.51 901.10L330.11 900.53L330.71 899.96L331.32 899.41L331.92 898.87L332.52 898.33L333.13 897.80L333.73 897.28L334.33 896.76L334.93 896.26L335.54 895.77L336.14 895.29L336.74 894.82L337.35 894.36L337.95 893.93L338.55 893.50L339.15 893.09L339.76 892.69L340.36 892.29L340.96 891.90L341.57 891.52L342.17 891.15L342.77 890.80L343.37 890.45L343.98 890.13L344.58 889.81L345.18 889.52L345.79 889.24L346.39 888.98L346.99 888.74L347.59 888.50L348.20 888.27L348.80 888.06L349.40 887.85L350.01 887.64L350.61 887.45L351.21 887.25L351.82 887.06L352.42 886.87L353.02 886.69L353.62 886.50L354.23 886.32L354.83 886.14L355.43 885.96L356.04 885.78L356.64 885.61L357.24 885.44L357.84 885.28L358.45 885.12L359.05 884.98L359.65 884.83L360.26 884.70L360.86 884.57L361.46 884.44L362.06 884.32L362.67 884.20L363.27 884.08L363.87 883.96L364.48 883.86L365.08 883.75L365.68 883.66L366.28 883.57L366.89 883.49L367.49 883.42L368.09 883.36L368.70 883.29L369.30 883.23L369.90 883.18L370.51 883.12L371.11 883.07L371.71 883.02L372.31 882.98L372.92 882.94L373.52 882.90L374.12 882.88L374.73 882.85L375.33 882.84L375.93 882.82L376.53 882.80L377.14 882.78L377.74 882.77L378.34 882.75L378.95 882.74L379.55 882.73L380.15 882.72L380.75 882.72L381.36 882.71L381.96 882.71L382.56 882.72L383.17 882.73L383.77 882.75L384.37 882.78L384.97 882.81L385.58 882.85L386.18 882.89L386.78 882.94L387.39 882.99L387.99 883.04L388.59 883.09L389.20 883.14L389.80 883.19L390.40 883.25L391.00 883.32L391.61 883.39L392.21 883.47L392.81 883.55L393.42 883.64L394.02 883.73L394.62 883.83L395.22 883.93L395.83 884.03L396.43 884.13L397.03 884.24L397.64 884.36L398.24 884.49L398.84 884.62L399.44 884.77L400.05 884.91L400.65 885.06L401.25 885.22L401.86 885.37L402.46 885.53L403.06 885.68L403.66 885.84L404.27 885.99L404.87 886.14L405.47 886.30L406.08 886.45L406.68 886.61L407.28 886.77L407.88 886.93L408.49 887.10L409.09 887.27L409.69 887.45L410.30 887.63L410.90 887.82L411.50 888.02L412.11 888.23L412.71 888.45L413.31 888.67L413.91 888.90L414.52 889.13L415.12 889.38L415.72 889.62L416.33 889.88L416.93 890.13L417.53 890.40L418.13 890.66L418.74 890.93L419.34 891.21L419.94 891.49L420.55 891.77L421.15 892.06L421.75 892.35L422.35 892.65L422.96 892.96L423.56 893.27L424.16 893.59L424.77 893.92L425.37 894.26L425.97 894.60L426.57 894.95L427.18 895.31L427.78 895.68L428.38 896.06L428.99 896.45L429.59 896.87L430.19 897.30L430.80 897.75L431.40 898.21L432.00 898.69L432.60 899.18L433.21 899.68L433.81 900.18L434.41 900.70L435.02 901.22L435.62 901.74L436.22 902.27L436.82 902.81L437.43 903.36L438.03 903.93L438.63 904.50L439.24 905.09L439.84 905.68L440.44 906.28L441.04 906.90L441.65 907.52L442.25 908.16L442.85 908.80L443.46 909.45L444.06 910.12L444.66 910.81L445.26 911.51L445.87 912.23L446.47 912.95L447.07 913.69L447.68 914.43L448.28 915.19L448.88 915.94L449.49 916.70L450.09 917.47L450.69 918.23L451.29 919.00L451.90 919.78L452.50 920.56L453.10 921.35L453.71 922.16L454.31 922.98L454.91 923.83L455.51 924.70L456.12 925.60L456.72 926.52L457.32 927.46L457.93 928.42L458.53 929.39L459.13 930.37L459.73 931.35L460.34 932.34L460.94 933.32L461.54 934.30L462.15 935.26L462.75 936.22L463.35 937.17L463.95 938.12L464.56 939.06L465.16 940.01L465.76 940.97L466.37 941.93L466.97 942.90L467.57 943.89L468.17 944.89L468.78 945.92L469.38 946.96L469.98 948.03L470.59 949.14L471.19 950.29L471.79 951.47L472.40 952.67L473.00 953.89L473.60 955.12L474.20 956.35L474.81 957.57L475.41 958.78L476.01 959.98L476.62 961.17L477.22 962.37L477.82 963.56L478.42 964.76L479.03 965.97L479.63 967.19L480.23 968.43L480.84 969.67L481.44 970.93L482.04 972.20L482.64 973.49L483.25 974.78L483.85 976.07L484.45 977.38L485.06 978.69L485.66 980.01L486.26 981.34L486.86 982.68L487.47 984.03L488.07 985.39L488.67 986.76L489.28 988.12L489.88 989.49L490.48 990.84L491.09 992.19L491.69 993.53L492.29 994.87L492.89 996.21L493.50 997.55L494.10 998.88L494.70 1000.20L495.31 1001.51L495.91 1002.80L496.51 1004.08L497.11 1005.34L497.72 1006.60L498.32 1007.85L498.92 1009.09L499.53 1010.31L500.13 1011.52L500.73 1012.70L501.33 1013.86L501.94 1015.00L502.54 1016.13L503.14 1017.24L503.75 1018.34L504.35 1019.42L504.95 1020.48L505.55 1021.51L506.16 1022.51L506.76 1023.48L507.36 1024.41L507.97 1025.29L508.57 1026.14L509.17 1026.99L509.77 1027.84L510.38 1028.70L510.98 1029.56L511.58 1030.41L512.19 1031.24L512.79 1032.07L513.39 1032.89L514.00 1033.66L514.60 1034.37L515.20 1035.02L515.80 1035.63L516.41 1036.15L517.01 1036.55L517.61 1036.92L518.22 1037.17L518.82 1037.19L519.42 1037.07L520.02 1036.87L520.63 1036.64L521.23 1036.34L521.83 1035.92L522.44 1035.42L523.04 1034.85L523.64 1034.26L524.24 1033.65L524.85 1032.96L525.45 1032.19L526.05 1031.37L526.66 1030.48L527.26 1029.52L527.86 1028.44L528.46 1027.28L529.07 1026.09L529.67 1024.88L530.27 1023.64L530.88 1022.37L531.48 1021.06L532.08 1019.71L532.69 1018.33L533.29 1016.91L533.89 1015.45L534.49 1013.95L535.10 1012.42L535.70 1010.86L536.30 1009.27L536.91 1007.64L537.51 1005.98L538.11 1004.28L538.71 1002.54L539.32 1000.74L539.92 998.88L540.52 996.93L541.13 994.92L541.73 992.85L542.33 990.74L542.93 988.60L543.54 986.45L544.14 984.31L544.74 982.18L545.35 980.06L545.95 977.94L546.55 975.80L547.15 973.66L547.76 971.52L548.36 969.37L548.96 967.22L549.57 965.06L550.17 962.91L550.77 960.76L551.38 958.61L551.98 956.45L552.58 954.28L553.18 952.09L553.79 949.89L554.39 947.68L554.99 945.45L555.60 943.22L556.20 940.97L556.80 938.70L557.40 936.43L558.01 934.14L558.61 931.84L559.21 929.53L559.82 927.20L560.42 924.86L561.02 922.50L561.62 920.12L562.23 917.73L562.83 915.26L563.43 912.71L564.04 910.14L564.64 907.57L565.24 905.06L565.84 902.65L566.45 900.38L567.05 898.29L567.65 896.31L568.26 894.40L568.86 892.56L569.46 890.78L570.06 889.05L570.67 887.38L571.27 885.76L571.87 884.17L572.48 882.62L573.08 881.11L573.68 879.63L574.29 878.19L574.89 876.79L575.49 875.42L576.09 874.09L576.70 872.78L577.30 871.50L577.90 870.24L578.51 869.00L579.11 867.78L579.71 866.59L580.31 865.42L580.92 864.27L581.52 863.15L582.12 862.04L582.73 860.95L583.33 859.87L583.93 858.81L584.53 857.75L585.14 856.71L585.74 855.67L586.34 854.65L586.95 853.64L587.55 852.65L588.15 851.67L588.75 850.70L589.36 849.74L589.96 848.80L590.56 847.87L591.17 846.96L591.77 846.05L592.37 845.14L592.98 844.26L593.58 843.38L594.18 842.52L594.78 841.67L595.39 840.85L595.99 840.04L596.59 839.26L597.20 838.50L597.80 837.76L598.40 837.05L599.00 836.34L599.61 835.65L600.21 834.97L600.81 834.30L601.42 833.64L602.02 832.97L602.62 832.31L603.22 831.65L603.83 830.99L604.43 830.33L605.03 829.68L605.64 829.03L606.24 828.40L606.84 827.78L607.44 827.18L608.05 826.59L608.65 826.03L609.25 825.49L609.86 824.98L610.46 824.49L611.06 824.01L611.67 823.54L612.27 823.07L612.87 822.59L613.47 822.11L614.08 821.60L614.68 821.07L615.28 820.52L615.89 819.94L616.49 819.35L617.09 818.74L617.69 818.12L618.30 817.49L618.90 816.84L619.50 816.19L620.11 815.54L620.71 814.88L621.31 814.23L621.91 813.57L622.52 812.89L623.12 812.18L623.72 811.44L624.33 810.70L624.93 809.95L625.53 809.21L626.13 808.48L626.74 807.78L627.34 807.10L627.94 806.47L628.55 805.89L629.15 805.36L629.75 804.88L630.36 804.41L630.96 803.97L631.56 803.55L632.16 803.14L632.77 802.75L633.37 802.37L633.97 802.01L634.58 801.65L635.18 801.30L635.78 800.95L636.38 800.60L636.99 800.26L637.59 799.93L638.19 799.60L638.80 799.28L639.40 798.96L640.00 798.66L640.60 798.36L641.21 798.06L641.81 797.77L642.41 797.49L643.02 797.21L643.62 796.94L644.22 796.68L644.82 796.41L645.43 796.15L646.03 795.90L646.63 795.65L647.24 795.40L647.84 795.16L648.44 794.93L649.04 794.71L649.65 794.49L650.25 794.28L650.85 794.08L651.46 793.89L652.06 793.71L652.66 793.53L653.27 793.36L653.87 793.20L654.47 793.04L655.07 792.88L655.68 792.72L656.28 792.57L656.88 792.42L657.49 792.27L658.09 792.12L658.69 791.97L659.29 791.82L659.90 791.69L660.50 791.55" stroke="#f5190f"/>
<path d="M57.60 1020.17L58.20 1019.95L58.81 1019.73L59.41 1019.52L60.01 1019.30L60.61 1019.09L61.22 1018.88L61.82 1018.68L62.42 1018.47L63.03 1018.27L63.63 1018.07L64.23 1017.87L64.83 1017.67L65.44 1017.48L66.04 1017.29L66.64 1017.10L67.25 1016.91L67.85 1016.73L68.45 1016.55L69.06 1016.37L69.66 1016.19L70.26 1016.02L70.86 1015.85L71.47 1015.68L72.07 1015.51L72.67 1015.35L73.28 1015.19L73.88 1015.03L74.48 1014.87L75.08 1014.72L75.69 1014.56L76.29 1014.41L76.89 1014.26L77.50 1014.11L78.10 1013.96L78.70 1013.81L79.30 1013.66L79.91 1013.51L80.51 1013.36L81.11 1013.22L81.72 1013.07L82.32 1012.92L82.92 1012.77L83.52 1012.62L84.13 1012.47L84.73 1012.32L85.33 1012.16L85.94 1012.01L86.54 1011.86L87.14 1011.72L87.75 1011.57L88.35 1011.42L88.95 1011.28L89.55 1011.14L90.16 1011.00L90.76 1010.86L91.36 1010.73L91.97 1010.60L92.57 1010.47L93.17 1010.35L93.77 1010.23L94.38 1010.11L94.98 1010.00L95.58 1009.89L96.19 1009.77L96.79 1009.67L97.39 1009.56L97.99 1009.45L98.60 1009.35L99.20 1009.25L99.80 1009.15L100.41 1009.05L101.01 1008.95L101.61 1008.86L102.21 1008.77L102.82 1008.67L103.42 1008.58L104.02 1008.50L104.63 1008.41L105.23 1008.32L105.83 1008.24L106.43 1008.16L107.04 1008.08L107.64 1008.00L108.24 1007.92L108.85 1007.84L109.45 1007.77L110.05 1007.70L110.66 1007.62L111.26 1007.55L111.86 1007.48L112.46 1007.41L113.07 1007.34L113.67 1007.27L114.27 1007.21L114.88 1007.14L115.48 1007.08L116.08 1007.01L116.68 1006.95L117.29 1006.88L117.89 1006.82L118.49 1006.76L119.10 1006.69L119.70 1006.63L120.30 1006.56L120.90 1006.50L121.51 1006.44L122.11 1006.37L122.71 1006.31L123.32 1006.25L123.92 1006.19L124.52 1006.13L125.12 1006.07L125.73 1006.02L126.33 1005.96L126.93 1005.91L127.54 1005.86L128.14 1005.81L128.74 1005.77L129.35 1005.72L129.95 1005.68L130.55 1005.65L131.15 1005.61L131.76 1005.57L132.36 1005.53L132.96 1005.49L133.57 1005.45L134.17 1005.41L134.77 1005.38L135.37 1005.34L135.98 1005.31L136.58 1005.27L137.18 1005.24L137.79 1005.22L138.39 1005.19L138.99 1005.17L139.59 1005.15L140.20 1005.14L140.80 1005.13L141.40 1005.12L142.01 1005.12L142.61 1005.12L143.21 1005.14L143.81 1005.17L144.42 1005.20L145.02 1005.25L145.62 1005.30L146.23 1005.36L146.83 1005.42L147.43 1005.49L148.03 1005.56L148.64 1005.64L149.24 1005.72L149.84 1005.79L150.45 1005.87L151.05 1005.95L151.65 1006.03L152.26 1006.11L152.86 1006.18L153.46 1006.25L154.06 1006.32L154.67 1006.39L155.27 1006.46L155.87 1006.53L156.48 1006.60L157.08 1006.67L157.68 1006.74L158.28 1006.81L158.89 1006.89L159.49 1006.96L160.09 1007.04L160.70 1007.12L161.30 1007.20L161.90 1007.28L162.50 1007.36L163.11 1007.44L163.71 1007.52L164.31 1007.61L164.92 1007.69L165.52 1007.78L166.12 1007.87L166.72 1007.96L167.33 1008.05L167.93 1008.14L168.53 1008.24L169.14 1008.34L169.74 1008.44L170.34 1008.54L170.95 1008.64L171.55 1008.75L172.15 1008.86L172.75 1008.97L173.36 1009.08L173.96 1009.19L174.56 1009.30L175.17 1009.41L175.77 1009.53L176.37 1009.64L176.97 1009.76L177.58 1009.88L178.18 1009.99L178.78 1010.11L179.39 1010.23L179.99 1010.35L180.59 1010.47L181.19 1010.59L181.80 1010.71L182.40 1010.84L183.00 1010.96L183.61 1011.09L184.21 1011.22L184.81 1011.35L185.41 1011.48L186.02 1011.61L186.62 1011.75L187.22 1011.88L187.83 1012.01L188.43 1012.14L189.03 1012.28L189.64 1012.41L190.24 1012.54L190.84 1012.67L191.44 1012.81L192.05 1012.94L192.65 1013.07L193.25 1013.20L193.86 1013.33L194.46 1013.46L195.06 1013.59L195.66 1013.72L196.27 1013.85L196.87 1013.98L197.47 1014.12L198.08 1014.25L198.68 1014.38L199.28 1014.51L199.88 1014.64L200.49 1014.77L201.09 1014.90L201.69 1015.04L202.30 1015.18L202.90 1015.32L203.50 1015.46L204.10 1015.60L204.71 1015.74L205.31 1015.87L205.91 1016.00L206.52 1016.13L207.12 1016.25L207.72 1016.37L208.32 1016.48L208.93 1016.58L209.53 1016.70L210.13 1016.82L210.74 1016.93L211.34 1017.05L211.94 1017.16L212.55 1017.27L213.15 1017.36L213.75 1017.44L214.35 1017.51L214.96 1017.57L215.56 1017.60L216.16 1017.61L216.77 1017.61L217.37 1017.61L217.97 1017.61L218.57 1017.61L219.18 1017.61L219.78 1017.61L220.38 1017.61L220.99 1017.61L221.59 1017.61L222.19 1017.57L222.79 1017.47L223.40 1017.32L224.00 1017.12L224.60 1016.90L225.21 1016.66L225.81 1016.42L226.41 1016.19L227.01 1015.96L227.62 1015.70L228.22 1015.43L228.82 1015.14L229.43 1014.84L230.03 1014.53L230.63 1014.23L231.24 1013.93L231.84 1013.64L232.44 1013.36L233.04 1013.09L233.65 1012.83L234.25 1012.57L234.85 1012.31L235.46 1012.04L236.06 1011.76L236.66 1011.46L237.26 1011.14L237.87 1010.80L238.47 1010.42L239.07 1010.03L239.68 1009.60L240.28 1009.15L240.88 1008.67L241.48 1008.17L242.09 1007.65L242.69 1007.11L243.29 1006.54L243.90 1005.95L244.50 1005.31L245.10 1004.63L245.70 1003.90L246.31 1003.15L246.91 1002.37L247.51 1001.57L248.12 1000.76L248.72 999.95L249.32 999.15L249.93 998.35L250.53 997.54L251.13 996.71L251.73 995.88L252.34 995.03L252.94 994.18L253.54 993.31L254.15 992.43L254.75 991.54L255.35 990.65L255.95 989.73L256.56 988.80L257.16 987.85L257.76 986.90L258.37 985.93L258.97 984.96L259.57 983.98L260.17 983.01L260.78 982.03L261.38 981.06L261.98 980.09L262.59 979.11L263.19 978.14L263.79 977.16L264.39 976.17L265.00 975.18L265.60 974.19L266.20 973.18L266.81 972.17L267.41 971.16L268.01 970.14L268.62 969.12L269.22 968.10L269.82 967.06L270.42 966.02L271.03 964.96L271.63 963.88L272.23 962.78L272.84 961.66L273.44 960.51L274.04 959.32L274.64 958.11L275.25 956.87L275.85 955.62L276.45 954.36L277.06 953.11L277.66 951.86L278.26 950.63L278.86 949.42L279.47 948.21L280.07 947.02L280.67 945.82L281.28 944.63L281.88 943.45L282.48 942.26L283.08 941.06L283.69 939.86L284.29 938.66L284.89 937.45L285.50 936.24L286.10 935.03L286.70 933.82L287.30 932.60L287.91 931.38L288.51 930.15L289.11 928.92L289.72 927.69L290.32 926.45L290.92 925.19L291.53 923.90L292.13 922.59L292.73 921.30L293.33 920.01L293.94 918.76L294.54 917.55L295.14 916.38L295.75 915.24L296.35 914.12L296.95 913.01L297.55 911.92L298.16 910.85L298.76 909.79L299.36 908.76L299.97 907.74L300.57 906.73L301.17 905.74L301.77 904.77L302.38 903.82L302.98 902.88L303.58 901.95L304.19 901.03L304.79 900.13L305.39 899.24L305.99 898.36L306.60 897.50L307.20 896.66L307.80 895.84L308.41 895.04L309.01 894.25L309.61 893.48L310.22 892.74L310.82 892.01L311.42 891.29L312.02 890.59L312.63 889.91L313.23 889.23L313.83 888.57L314.44 887.92L315.04 887.27L315.64 886.63L316.24 885.99L316.85 885.36L317.45 884.74L318.05 884.12L318.66 883.51L319.26 882.90L319.86 882.30L320.46 881.71L321.07 881.13L321.67 880.55L322.27 879.99L322.88 879.43L323.48 878.88L324.08 878.35L324.68 877.81L325.29 877.29L325.89 876.78L326.49 876.27L327.10 875.77L327.70 875.27L328.30 874.79L328.91 874.31L329.51 873.83L330.11 873.36L330.71 872.90L331.32 872.44L331.92 871.99L332.52 871.54L333.13 871.10L333.73 870.66L334.33 870.23L334.93 869.81L335.54 869.39L336.14 868.97L336.74 868.56L337.35 868.16L337.95 867.77L338.55 867.38L339.15 866.99L339.76 866.62L340.36 866.24L340.96 865.88L341.57 865.52L342.17 865.16L342.77 864.81L343.37 864.46L343.98 864.12L344.58 863.78L345.18 863.45L345.79 863.12L346.39 862.79L346.99 862.46L347.59 862.14L348.20 861.82L348.80 861.51L349.40 861.20L350.01 860.89L350.61 860.59L351.21 860.29L351.82 860.00L352.42 859.71L353.02 859.42L353.62 859.14L354.23 858.86L354.83 858.58L355.43 858.30L356.04 858.03L356.64 857.76L357.24 857.50L357.84 857.24L358.45 856.99L359.05 856.75L359.65 856.52L360.26 856.30L360.86 856.09L361.46 855.88L362.06 855.69L362.67 855.50L363.27 855.31L363.87 855.13L364.48 854.95L365.08 854.78L365.68 854.61L366.28 854.43L366.89 854.26L367.49 854.09L368.09 853.92L368.70 853.74L369.30 853.57L369.90 853.39L370.51 853.22L371.11 853.05L371.71 852.88L372.31 852.71L372.92 852.54L373.52 852.38L374.12 852.21L374.73 852.04L375.33 851.88L375.93 851.71L376.53 851.54L377.14 851.38L377.74 851.21L378.34 851.05L378.95 850.88L379.55 850.72L380.15 850.55L380.75 850.39L381.36 850.22L381.96 850.05L382.56 849.88L383.17 849.71L383.77 849.54L384.37 849.37L384.97 849.20L385.58 849.03L386.18 848.85L386.78 848.67L387.39 848.50L387.99 848.32L388.59 848.14L389.20 847.96L389.80 847.77L390.40 847.59L391.00 847.41L391.61 847.23L392.21 847.05L392.81 846.86L393.42 846.68L394.02 846.50L394.62 846.32L395.22 846.14L395.83 845.97L396.43 845.79L397.03 845.62L397.64 845.44L398.24 845.27L398.84 845.11L399.44 844.94L400.05 844.78L400.65 844.61L401.25 844.45L401.86 844.28L402.46 844.12L403.06 843.96L403.66 843.80L404.27 843.63L404.87 843.47L405.47 843.32L406.08 843.16L406.68 843.00L407.28 842.85L407.88 842.69L408.49 842.54L409.09 842.39L409.69 842.24L410.30 842.09L410.90 841.95L411.50 841.80L412.11 841.66L412.71 841.52L413.31 841.38L413.91 841.25L414.52 841.12L415.12 840.99L415.72 840.86L416.33 840.73L416.93 840.61L417.53 840.48L418.13 840.36L418.74 840.24L419.34 840.12L419.94 840.01L420.55 839.89L421.15 839.77L421.75 839.66L422.35 839.55L422.96 839.43L423.56 839.32L424.16 839.21L424.77 839.09L425.37 838.98L425.97 838.87L426.57 838.75L427.18 838.64L427.78 838.52L428.38 838.41L428.99 838.29L429.59 838.17L430.19 838.05L430.80 837.93L431.40 837.81L432.00 837.69L432.60 837.57L433.21 837.44L433.81 837.32L434.41 837.20L435.02 837.08L435.62 836.96L436.22 836.84L436.82 836.72L437.43 836.60L438.03 836.49L438.63 836.38L439.24 836.26L439.84 836.16L440.44 836.05L441.04 835.95L441.65 835.85L442.25 835.75L442.85 835.66L443.46 835.57L444.06 835.48L444.66 835.40L445.26 835.32L445.87 835.24L446.47 835.17L447.07 835.09L447.68 835.02L448.28 834.95L448.88 834.88L449.49 834.81L450.09 834.75L450.69 834.68L451.29 834.62L451.90 834.55L452.50 834.49L453.10 834.42L453.71 834.35L454.31 834.29L454.91 834.22L455.51 834.15L456.12 834.08L456.72 834.01L457.32 833.94L457.93 833.86L458.53 833.79L459.13 833.71L459.73 833.63L460.34 833.55L460.94 833.47L461.54 833.39L462.15 833.31L462.75 833.23L463.35 833.15L463.95 833.07L464.56 832.98L465.16 832.90L465.76 832.82L466.37 832.74L466.97 832.65L467.57 832.57L468.17 832.49L468.78 832.41L469.38 832.32L469.98 832.24L470.59 832.16L471.19 832.08L471.79 832.00L472.40 831.91L473.00 831.83L473.60 831.75L474.20 831.67L474.81 831.58L475.41 831.50L476.01 831.42L476.62 831.33L477.22 831.25L477.82 831.17L478.42 831.08L479.03 831.00L479.63 830.91L480.23 830.83L480.84 830.75L481.44 830.66L482.04 830.58L482.64 830.50L483.25 830.42L483.85 830.34L484.45 830.25L485.06 830.17L485.66 830.09L486.26 830.01L486.86 829.93L487.47 829.85L488.07 829.78L488.67 829.70L489.28 829.62L489.88 829.54L490.48 829.47L491.09 829.39L491.69 829.32L492.29 829.25L492.89 829.17L493.50 829.10L494.10 829.03L494.70 828.96L495.31 828.89L495.91 828.81L496.51 828.74L497.11 828.67L497.72 828.60L498.32 828.53L498.92 828.46L499.53 828.39L500.13 828.32L500.73 828.26L501.33 828.19L501.94 828.12L502.54 828.05L503.14 827.98L503.75 827.92L504.35 827.85L504.95 827.78L505.55 827.72L506.16 827.65L506.76 827.58L507.36 827.52L507.97 827.45L508.57 827.39L509.17 827.32L509.77 827.26L510.38 827.19L510.98 827.13L511.58 827.07L512.19 827.00L512.79 826.94L513.39 826.88L514.00 826.81L514.60 826.75L515.20 826.69L515.80 826.63L516.41 826.56L517.01 826.50L517.61 826.44L518.22 826.38L518.82 826.32L519.42 826.26L520.02 826.20L520.63 826.14L521.23 826.08L521.83 826.02L522.44 825.96L523.04 825.90L523.64 825.84L524.24 825.78L524.85 825.72L525.45 825.66L526.05 825.60L526.66 825.55L527.26 825.49L527.86 825.43L528.46 825.38L529.07 825.32L529.67 825.26L530.27 825.21L530.88 825.15L531.48 825.09L532.08 825.04L532.69 824.98L533.29 824.93L533.89 824.87L534.49 824.82L535.10 824.76L535.70 824.71L536.30 824.65L536.91 824.60L537.51 824.54L538.11 824.49L538.71 824.44L539.32 824.38L539.92 824.33L540.52 824.27L541.13 824.22L541.73 824.17L542.33 824.11L542.93 824.06L543.54 824.01L544.14 823.95L544.74 823.90L545.35 823.85L545.95 823.79L546.55 823.74L547.15 823.69L547.76 823.64L548.36 823.58L548.96 823.53L549.57 823.48L550.17 823.42L550.77 823.37L551.38 823.32L551.98 823.27L552.58 823.21L553.18 823.16L553.79 823.11L554.39 823.06L554.99 823.00L555.60 822.95L556.20 822.90L556.80 822.84L557.40 822.79L558.01 822.74L558.61 822.68L559.21 822.63L559.82 822.58L560.42 822.52L561.02 822.47L561.62 822.42L562.23 822.36L562.83 822.31L563.43 822.26L564.04 822.20L564.64 822.15L565.24 822.09L565.84 822.04L566.45 821.98L567.05 821.93L567.65 821.87L568.26 821.82L568.86 821.76L569.46 821.71L570.06 821.65L570.67 821.60L571.27 821.54L571.87 821.48L572.48 821.43L573.08 821.37L573.68 821.31L574.29 821.26L574.89 821.20L575.49 821.14L576.09 821.08L576.70 821.03L577.30 820.97L577.90 820.91L578.51 820.85L579.11 820.79L579.71 820.74L580.31 820.68L580.92 820.62L581.52 820.56L582.12 820.50L582.73 820.44L583.33 820.39L583.93 820.33L584.53 820.27L585.14 820.21L585.74 820.15L586.34 820.09L586.95 820.03L587.55 819.97L588.15 819.92L588.75 819.86L589.36 819.80L589.96 819.74L590.56 819.68L591.17 819.62L591.77 819.56L592.37 819.51L592.98 819.45L593.58 819.39L594.18 819.33L594.78 819.27L595.39 819.22L595.99 819.16L596.59 819.10L597.20 819.04L597.80 818.99L598.40 818.93L599.00 818.87L599.61 818.81L600.21 818.76L600.81 818.70L601.42 818.64L602.02 818.59L602.62 818.53L603.22 818.48L603.83 818.42L604.43 818.37L605.03 818.31L605.64 818.26L606.24 818.20L606.84 818.15L607.44 818.10L608.05 818.04L608.65 817.99L609.25 817.94L609.86 817.88L610.46 817.83L611.06 817.78L611.67 817.73L612.27 817.68L612.87 817.63L613.47 817.57L614.08 817.52L614.68 817.47L615.28 817.42L615.89 817.37L616.49 817.32L617.09 817.27L617.69 817.22L618.30 817.17L618.90 817.12L619.50 817.07L620.11 817.02L620.71 816.97L621.31 816.92L621.91 816.87L622.52 816.82L623.12 816.77L623.72 816.73L624.33 816.68L624.93 816.63L625.53 816.58L626.13 816.53L626.74 816.48L627.34 816.43L627.94 816.39L628.55 816.34L629.15 816.29L629.75 816.24L630.36 816.19L630.96 816.15L631.56 816.10L632.16 816.05L632.77 816.00L633.37 815.96L633.97 815.91L634.58 815.86L635.18 815.82L635.78 815.77L636.38 815.72L636.99 815.68L637.59 815.63L638.19 815.59L638.80 815.54L639.40 815.49L640.00 815.45L640.60 815.40L641.21 815.36L641.81 815.31L642.41 815.27L643.02 815.22L643.62 815.18L644.22 815.13L644.82 815.09L645.43 815.04L646.03 815.00L646.63 814.96L647.24 814.91L647.84 814.87L648.44 814.82L649.04 814.78L649.65 814.74L650.25 814.69L650.85 814.65L651.46 814.61L652.06 814.57L652.66 814.52L653.27 814.48L653.87 814.44L654.47 814.40L655.07 814.35L655.68 814.31L656.28 814.27L656.88 814.23L657.49 814.19L658.09 814.15L658.69 814.11L659.29 814.07L659.90 814.02L660.50 813.98" stroke="#000000"/>
<path d="M57.60 999.15L58.20 998.86L58.81 998.57L59.41 998.29L60.01 998.00L60.61 997.72L61.22 997.44L61.82 997.16L62.42 996.89L63.03 996.61L63.63 996.34L64.23 996.07L64.83 995.81L65.44 995.54L66.04 995.28L66.64 995.02L67.25 994.76L67.85 994.51L68.45 994.25L69.06 994.00L69.66 993.76L70.26 993.51L70.86 993.26L71.47 993.02L72.07 992.78L72.67 992.53L73.28 992.29L73.88 992.06L74.48 991.82L75.08 991.59L75.69 991.35L76.29 991.13L76.89 990.90L77.50 990.68L78.10 990.46L78.70 990.24L79.30 990.03L79.91 989.82L80.51 989.61L81.11 989.41L81.72 989.21L82.32 989.02L82.92 988.83L83.52 988.64L84.13 988.45L84.73 988.27L85.33 988.09L85.94 987.91L86.54 987.73L87.14 987.56L87.75 987.39L88.35 987.22L88.95 987.05L89.55 986.89L90.16 986.72L90.76 986.56L91.36 986.41L91.97 986.25L92.57 986.10L93.17 985.95L93.77 985.80L94.38 985.66L94.98 985.51L95.58 985.36L96.19 985.21L96.79 985.05L97.39 984.90L97.99 984.75L98.60 984.61L99.20 984.46L99.80 984.32L100.41 984.18L101.01 984.05L101.61 983.92L102.21 983.80L102.82 983.69L103.42 983.58L104.02 983.49L104.63 983.40L105.23 983.32L105.83 983.25L106.43 983.18L107.04 983.12L107.64 983.06L108.24 983.00L108.85 982.94L109.45 982.88L110.05 982.82L110.66 982.76L111.26 982.71L111.86 982.66L112.46 982.62L113.07 982.57L113.67 982.53L114.27 982.50L114.88 982.47L115.48 982.44L116.08 982.42L116.68 982.41L117.29 982.40L117.89 982.40L118.49 982.40L119.10 982.41L119.70 982.42L120.30 982.44L120.90 982.46L121.51 982.49L122.11 982.52L122.71 982.55L123.32 982.59L123.92 982.64L124.52 982.69L125.12 982.74L125.73 982.79L126.33 982.85L126.93 982.91L127.54 982.97L128.14 983.04L128.74 983.11L129.35 983.18L129.95 983.25L130.55 983.34L131.15 983.46L131.76 983.61L132.36 983.78L132.96 983.98L133.57 984.20L134.17 984.44L134.77 984.69L135.37 984.95L135.98 985.23L136.58 985.51L137.18 985.80L137.79 986.09L138.39 986.38L138.99 986.67L139.59 986.95L140.20 987.22L140.80 987.50L141.40 987.78L142.01 988.07L142.61 988.38L143.21 988.68L143.81 989.00L144.42 989.32L145.02 989.64L145.62 989.97L146.23 990.30L146.83 990.63L147.43 990.96L148.03 991.30L148.64 991.63L149.24 991.97L149.84 992.31L150.45 992.66L151.05 993.02L151.65 993.39L152.26 993.78L152.86 994.18L153.46 994.61L154.06 995.06L154.67 995.54L155.27 996.04L155.87 996.57L156.48 997.11L157.08 997.67L157.68 998.25L158.28 998.83L158.89 999.41L159.49 999.99L160.09 1000.57L160.70 1001.15L161.30 1001.74L161.90 1002.33L162.50 1002.92L163.11 1003.53L163.71 1004.14L164.31 1004.77L164.92 1005.40L165.52 1006.05L166.12 1006.70L166.72 1007.38L167.33 1008.08L167.93 1008.81L168.53 1009.56L169.14 1010.33L169.74 1011.10L170.34 1011.87L170.95 1012.63L171.55 1013.38L172.15 1014.10L172.75 1014.79L173.36 1015.45L173.96 1016.11L174.56 1016.77L175.17 1017.41L175.77 1018.05L176.37 1018.67L176.97 1019.28L177.58 1019.85L178.18 1020.41L178.78 1020.92L179.39 1021.41L179.99 1021.86L180.59 1022.32L181.19 1022.78L181.80 1023.22L182.40 1023.63L183.00 1024.00L183.61 1024.31L184.21 1024.56L184.81 1024.71L185.41 1024.82L186.02 1024.92L186.62 1025.01L187.22 1025.09L187.83 1025.16L188.43 1025.21L189.03 1025.25L189.64 1025.27L190.24 1025.28L190.84 1025.15L191.44 1024.86L192.05 1024.45L192.65 1023.96L193.25 1023.43L193.86 1022.88L194.46 1022.34L195.06 1021.74L195.66 1021.08L196.27 1020.34L196.87 1019.52L197.47 1018.62L198.08 1017.63L198.68 1016.54L199.28 1015.28L199.88 1013.69L200.49 1011.81L201.09 1009.70L201.69 1007.43L202.30 1005.06L202.90 1002.65L203.50 1000.26L204.10 997.94L204.71 995.54L205.31 993.04L205.91 990.48L206.52 987.88L207.12 985.26L207.72 982.64L208.32 980.07L208.93 977.53L209.53 975.02L210.13 972.51L210.74 970.00L211.34 967.48L211.94 964.93L212.55 962.36L213.15 959.74L213.75 957.08L214.35 954.39L214.96 951.67L215.56 948.93L216.16 946.18L216.77 943.41L217.37 940.63L217.97 937.84L218.57 935.02L219.18 932.18L219.78 929.32L220.38 926.45L220.99 923.59L221.59 920.73L222.19 917.89L222.79 915.07L223.40 912.28L224.00 909.49L224.60 906.70L225.21 903.94L225.81 901.21L226.41 898.53L227.01 895.90L227.62 893.27L228.22 890.67L228.82 888.12L229.43 885.66L230.03 883.32L230.63 881.12L231.24 879.01L231.84 876.98L232.44 875.02L233.04 873.12L233.65 871.26L234.25 869.44L234.85 867.65L235.46 865.88L236.06 864.15L236.66 862.47L237.26 860.83L237.87 859.24L238.47 857.72L239.07 856.23L239.68 854.77L240.28 853.34L240.88 851.95L241.48 850.62L242.09 849.35L242.69 848.17L243.29 847.06L243.90 846.01L244.50 845.00L245.10 844.02L245.70 843.09L246.31 842.19L246.91 841.34L247.51 840.53L248.12 839.77L248.72 839.05L249.32 838.36L249.93 837.71L250.53 837.09L251.13 836.49L251.73 835.92L252.34 835.37L252.94 834.84L253.54 834.32L254.15 833.81L254.75 833.32L255.35 832.85L255.95 832.39L256.56 831.94L257.16 831.51L257.76 831.09L258.37 830.68L258.97 830.28L259.57 829.89L260.17 829.50L260.78 829.12L261.38 828.74L261.98 828.37L262.59 828.01L263.19 827.65L263.79 827.29L264.39 826.95L265.00 826.61L265.60 826.28L266.20 825.96L266.81 825.65L267.41 825.34L268.01 825.05L268.62 824.78L269.22 824.51L269.82 824.25L270.42 823.99L271.03 823.74L271.63 823.50L272.23 823.26L272.84 823.03L273.44 822.80L274.04 822.58L274.64 822.36L275.25 822.15L275.85 821.94L276.45 821.73L277.06 821.52L277.66 821.32L278.26 821.12L278.86 820.91L279.47 820.72L280.07 820.52L280.67 820.32L281.28 820.12L281.88 819.92L282.48 819.73L283.08 819.54L283.69 819.34L284.29 819.15L284.89 818.96L285.50 818.78L286.10 818.59L286.70 818.41L287.30 818.23L287.91 818.05L288.51 817.87L289.11 817.70L289.72 817.53L290.32 817.36L290.92 817.19L291.53 817.03L292.13 816.87L292.73 816.71L293.33 816.56L293.94 816.40L294.54 816.26L295.14 816.11L295.75 815.97L296.35 815.82L296.95 815.68L297.55 815.54L298.16 815.40L298.76 815.27L299.36 815.13L299.97 815.00L300.57 814.87L301.17 814.74L301.77 814.61L302.38 814.48L302.98 814.36L303.58 814.24L304.19 814.12L304.79 814.00L305.39 813.88L305.99 813.77L306.60 813.66L307.20 813.55L307.80 813.44L308.41 813.34L309.01 813.23L309.61 813.13L310.22 813.03L310.82 812.94L311.42 812.84L312.02 812.75L312.63 812.66L313.23 812.57L313.83 812.48L314.44 812.40L315.04 812.31L315.64 812.23L316.24 812.15L316.85 812.07L317.45 811.99L318.05 811.91L318.66 811.83L319.26 811.75L319.86 811.68L320.46 811.60L321.07 811.52L321.67 811.45L322.27 811.37L322.88 811.30L323.48 811.22L324.08 811.14L324.68 811.07L325.29 810.99L325.89 810.92L326.49 810.84L327.10 810.77L327.70 810.69L328.30 810.62L328.91 810.55L329.51 810.47L330.11 810.40L330.71 810.33L331.32 810.26L331.92 810.19L332.52 810.11L333.13 810.04L333.73 809.98L334.33 809.91L334.93 809.84L335.54 809.77L336.14 809.70L336.74 809.64L337.35 809.57L337.95 809.50L338.55 809.44L339.15 809.38L339.76 809.31L340.36 809.25L340.96 809.18L341.57 809.12L342.17 809.06L342.77 809.00L343.37 808.94L343.98 808.87L344.58 808.81L345.18 808.75L345.79 808.69L346.39 808.63L346.99 808.58L347.59 808.52L348.20 808.46L348.80 808.40L349.40 808.35L350.01 808.29L350.61 808.24L351.21 808.18L351.82 808.13L352.42 808.07L353.02 808.02L353.62 807.97L354.23 807.92L354.83 807.87L355.43 807.82L356.04 807.77L356.64 807.72L357.24 807.67L357.84 807.62L358.45 807.57L359.05 807.52L359.65 807.48L360.26 807.43L360.86 807.38L361.46 807.34L362.06 807.29L362.67 807.25L363.27 807.20L363.87 807.16L364.48 807.11L365.08 807.07L365.68 807.02L366.28 806.97L366.89 806.93L367.49 806.88L368.09 806.84L368.70 806.79L369.30 806.75L369.90 806.70L370.51 806.66L371.11 806.61L371.71 806.57L372.31 806.53L372.92 806.48L373.52 806.44L374.12 806.39L374.73 806.35L375.33 806.31L375.93 806.26L376.53 806.22L377.14 806.18L377.74 806.13L378.34 806.09L378.95 806.05L379.55 806.01L380.15 805.96L380.75 805.92L381.36 805.88L381.96 805.83L382.56 805.79L383.17 805.75L383.77 805.71L384.37 805.66L384.97 805.62L385.58 805.58L386.18 805.54L386.78 805.50L387.39 805.46L387.99 805.42L388.59 805.37L389.20 805.33L389.80 805.29L390.40 805.25L391.00 805.21L391.61 805.17L392.21 805.13L392.81 805.09L393.42 805.05L394.02 805.01L394.62 804.96L395.22 804.92L395.83 804.88L396.43 804.84L397.03 804.79L397.64 804.75L398.24 804.70L398.84 804.66L399.44 804.61L400.05 804.57L400.65 804.52L401.25 804.47L401.86 804.42L402.46 804.37L403.06 804.32L403.66 804.27L404.27 804.22L404.87 804.16L405.47 804.11L406.08 804.06L406.68 804.00L407.28 803.95L407.88 803.89L408.49 803.84L409.09 803.78L409.69 803.73L410.30 803.67L410.90 803.62L411.50 803.56L412.11 803.50L412.71 803.45L413.31 803.39L413.91 803.33L414.52 803.28L415.12 803.22L415.72 803.16L416.33 803.11L416.93 803.05L417.53 803.00L418.13 802.94L418.74 802.88L419.34 802.83L419.94 802.77L420.55 802.72L421.15 802.66L421.75 802.61L422.35 802.56L422.96 802.50L423.56 802.45L424.16 802.40L424.77 802.35L425.37 802.30L425.97 802.25L426.57 802.20L427.18 802.15L427.78 802.10L428.38 802.06L428.99 802.01L429.59 801.96L430.19 801.92L430.80 801.87L431.40 801.83L432.00 801.78L432.60 801.74L433.21 801.69L433.81 801.65L434.41 801.60L435.02 801.56L435.62 801.51L436.22 801.47L436.82 801.42L437.43 801.38L438.03 801.34L438.63 801.29L439.24 801.25L439.84 801.21L440.44 801.16L441.04 801.12L441.65 801.08L442.25 801.04L442.85 800.99L443.46 800.95L444.06 800.91L444.66 800.87L445.26 800.83L445.87 800.78L446.47 800.74L447.07 800.70L447.68 800.66L448.28 800.62L448.88 800.58L449.49 800.54L450.09 800.50L450.69 800.46L451.29 800.42L451.90 800.38L452.50 800.34L453.10 800.30L453.71 800.26L454.31 800.22L454.91 800.18L455.51 800.14L456.12 800.10L456.72 800.07L457.32 800.03L457.93 799.99L458.53 799.95L459.13 799.91L459.73 799.87L460.34 799.84L460.94 799.80L461.54 799.76L462.15 799.72L462.75 799.69L463.35 799.65L463.95 799.61L464.56 799.58L465.16 799.54L465.76 799.50L466.37 799.47L466.97 799.43L467.57 799.39L468.17 799.36L468.78 799.32L469.38 799.29L469.98 799.25L470.59 799.22L471.19 799.18L471.79 799.15L472.40 799.11L473.00 799.08L473.60 799.04L474.20 799.01L474.81 798.97L475.41 798.94L476.01 798.90L476.62 798.87L477.22 798.83L477.82 798.80L478.42 798.76L479.03 798.73L479.63 798.69L480.23 798.66L480.84 798.63L481.44 798.59L482.04 798.56L482.64 798.52L483.25 798.49L483.85 798.46L484.45 798.42L485.06 798.39L485.66 798.36L486.26 798.32L486.86 798.29L487.47 798.26L488.07 798.22L488.67 798.19L489.28 798.16L489.88 798.13L490.48 798.09L491.09 798.06L491.69 798.03L492.29 798.00L492.89 797.97L493.50 797.93L494.10 797.90L494.70 797.87L495.31 797.84L495.91 797.81L496.51 797.78L497.11 797.75L497.72 797.71L498.32 797.68L498.92 797.65L499.53 797.62L500.13 797.59L500.73 797.56L501.33 797.53L501.94 797.50L502.54 797.47L503.14 797.44L503.75 797.41L504.35 797.38L504.95 797.35L505.55 797.32L506.16 797.29L506.76 797.26L507.36 797.23L507.97 797.21L508.57 797.18L509.17 797.15L509.77 797.12L510.38 797.09L510.98 797.06L511.58 797.04L512.19 797.01L512.79 796.98L513.39 796.95L514.00 796.93L514.60 796.90L515.20 796.87L515.80 796.84L516.41 796.82L517.01 796.79L517.61 796.76L518.22 796.74L518.82 796.71L519.42 796.69L520.02 796.66L520.63 796.63L521.23 796.61L521.83 796.58L522.44 796.56L523.04 796.53L523.64 796.51L524.24 796.48L524.85 796.46L525.45 796.44L526.05 796.41L526.66 796.39L527.26 796.36L527.86 796.34L528.46 796.32L529.07 796.29L529.67 796.27L530.27 796.25L530.88 796.22L531.48 796.20L532.08 796.18L532.69 796.16L533.29 796.13L533.89 796.11L534.49 796.09L535.10 796.07L535.70 796.04L536.30 796.02L536.91 796.00L537.51 795.98L538.11 795.96L538.71 795.94L539.32 795.91L539.92 795.89L540.52 795.87L541.13 795.85L541.73 795.83L542.33 795.81L542.93 795.79L543.54 795.77L544.14 795.75L544.74 795.73L545.35 795.71L545.95 795.69L546.55 795.67L547.15 795.65L547.76 795.62L548.36 795.60L548.96 795.58L549.57 795.56L550.17 795.54L550.77 795.52L551.38 795.50L551.98 795.48L552.58 795.47L553.18 795.45L553.79 795.43L554.39 795.41L554.99 795.39L555.60 795.37L556.20 795.35L556.80 795.33L557.40 795.31L558.01 795.29L558.61 795.27L559.21 795.25L559.82 795.23L560.42 795.21L561.02 795.19L561.62 795.17L562.23 795.15L562.83 795.13L563.43 795.11L564.04 795.09L564.64 795.07L565.24 795.05L565.84 795.04L566.45 795.02L567.05 795.00L567.65 794.98L568.26 794.96L568.86 794.94L569.46 794.92L570.06 794.90L570.67 794.88L571.27 794.86L571.87 794.84L572.48 794.82L573.08 794.80L573.68 794.78L574.29 794.76L574.89 794.74L575.49 794.72L576.09 794.70L576.70 794.68L577.30 794.66L577.90 794.64L578.51 794.62L579.11 794.60L579.71 794.58L580.31 794.56L580.92 794.54L581.52 794.52L582.12 794.50L582.73 794.47L583.33 794.45L583.93 794.43L584.53 794.41L585.14 794.39L585.74 794.37L586.34 794.35L586.95 794.33L587.55 794.30L588.15 794.28L588.75 794.26L589.36 794.24L589.96 794.22L590.56 794.19L591.17 794.17L591.77 794.15L592.37 794.13L592.98 794.10L593.58 794.08L594.18 794.06L594.78 794.03L595.39 794.01L595.99 793.99L596.59 793.96L597.20 793.94L597.80 793.92L598.40 793.89L599.00 793.87L599.61 793.84L600.21 793.82L600.81 793.80L601.42 793.77L602.02 793.75L602.62 793.72L603.22 793.70L603.83 793.67L604.43 793.65L605.03 793.62L605.64 793.60L606.24 793.57L606.84 793.54L607.44 793.52L608.05 793.49L608.65 793.47L609.25 793.44L609.86 793.42L610.46 793.39L611.06 793.36L611.67 793.34L612.27 793.31L612.87 793.28L613.47 793.26L614.08 793.23L614.68 793.21L615.28 793.18L615.89 793.15L616.49 793.12L617.09 793.10L617.69 793.07L618.30 793.04L618.90 793.02L619.50 792.99L620.11 792.96L620.71 792.93L621.31 792.91L621.91 792.88L622.52 792.85L623.12 792.82L623.72 792.80L624.33 792.77L624.93 792.74L625.53 792.71L626.13 792.68L626.74 792.66L627.34 792.63L627.94 792.60L628.55 792.57L629.15 792.54L629.75 792.51L630.36 792.49L630.96 792.46L631.56 792.43L632.16 792.40L632.77 792.37L633.37 792.34L633.97 792.31L634.58 792.28L635.18 792.26L635.78 792.23L636.38 792.20L636.99 792.17L637.59 792.14L638.19 792.11L638.80 792.08L639.40 792.05L640.00 792.02L640.60 791.99L641.21 791.96L641.81 791.93L642.41 791.90L643.02 791.87L643.62 791.84L644.22 791.81L644.82 791.78L645.43 791.75L646.03 791.72L646.63 791.69L647.24 791.66L647.84 791.63L648.44 791.60L649.04 791.57L649.65 791.54L650.25 791.51L650.85 791.48L651.46 791.45L652.06 791.42L652.66 791.38L653.27 791.35L653.87 791.32L654.47 791.29L655.07 791.26L655.68 791.23L656.28 791.20L656.88 791.17L657.49 791.14L658.09 791.11L658.69 791.07L659.29 791.04L659.90 791.01L660.50 790.98" stroke="#3a7cc6"/>
</g>
<g fill="none" stroke-width="1.4">
<g stroke="#e8201a"><circle cx="57.60" cy="973.02" r="3.3"/><circle cx="69.66" cy="970.47" r="3.3"/><circle cx="81.72" cy="969.05" r="3.3"/><circle cx="93.77" cy="970.47" r="3.3"/><circle cx="105.83" cy="974.44" r="3.3"/><circle cx="117.89" cy="980.41" r="3.3"/><circle cx="129.95" cy="989.21" r="3.3"/><circle cx="142.01" cy="998.30" r="3.3"/><circle cx="154.06" cy="1011.08" r="3.3"/><circle cx="166.12" cy="1020.74" r="3.3"/><circle cx="178.18" cy="1023.86" r="3.3"/><circle cx="190.24" cy="1022.72" r="3.3"/><circle cx="202.30" cy="1017.33" r="3.3"/><circle cx="214.35" cy="1021.30" r="3.3"/><circle cx="226.41" cy="1032.38" r="3.3"/><circle cx="238.47" cy="1037.21" r="3.3"/><circle cx="250.53" cy="1027.27" r="3.3"/><circle cx="262.59" cy="1007.96" r="3.3"/><circle cx="274.64" cy="984.67" r="3.3"/><circle cx="286.70" cy="961.66" r="3.3"/><circle cx="298.76" cy="941.78" r="3.3"/><circle cx="310.82" cy="925.03" r="3.3"/><circle cx="322.88" cy="911.96" r="3.3"/><circle cx="334.93" cy="900.60" r="3.3"/><circle cx="346.99" cy="892.08" r="3.3"/><circle cx="359.05" cy="886.12" r="3.3"/><circle cx="371.11" cy="881.29" r="3.3"/><circle cx="383.17" cy="879.30" r="3.3"/><circle cx="395.22" cy="879.30" r="3.3"/><circle cx="407.28" cy="881.29" r="3.3"/><circle cx="419.34" cy="885.84" r="3.3"/><circle cx="431.40" cy="891.80" r="3.3"/><circle cx="443.46" cy="901.17" r="3.3"/><circle cx="455.51" cy="913.38" r="3.3"/><circle cx="467.57" cy="930.14" r="3.3"/><circle cx="479.63" cy="950.59" r="3.3"/><circle cx="491.69" cy="975.01" r="3.3"/><circle cx="503.75" cy="1001.42" r="3.3"/><circle cx="515.80" cy="1023.58" r="3.3"/><circle cx="527.86" cy="1034.08" r="3.3"/><circle cx="539.92" cy="1025.56" r="3.3"/><circle cx="551.98" cy="998.87" r="3.3"/><circle cx="564.04" cy="962.23" r="3.3"/><circle cx="576.09" cy="925.03" r="3.3"/><circle cx="588.15" cy="892.37" r="3.3"/><circle cx="600.21" cy="865.96" r="3.3"/><circle cx="612.27" cy="845.79" r="3.3"/><circle cx="624.33" cy="830.17" r="3.3"/><circle cx="636.38" cy="818.24" r="3.3"/><circle cx="648.44" cy="809.16" r="3.3"/><circle cx="660.50" cy="802.06" r="3.3"/></g>
<g stroke="#1a1a1a"><rect x="55.20" y="1018.05" width="4.8" height="4.8"/><rect x="67.26" y="1013.51" width="4.8" height="4.8"/><rect x="79.32" y="1010.10" width="4.8" height="4.8"/><rect x="91.37" y="1007.83" width="4.8" height="4.8"/><rect x="103.43" y="1005.56" width="4.8" height="4.8"/><rect x="115.49" y="1004.14" width="4.8" height="4.8"/><rect x="127.55" y="1003.00" width="4.8" height="4.8"/><rect x="139.61" y="1002.43" width="4.8" height="4.8"/><rect x="151.66" y="1001.86" width="4.8" height="4.8"/><rect x="163.72" y="1003.28" width="4.8" height="4.8"/><rect x="175.78" y="1004.42" width="4.8" height="4.8"/><rect x="187.84" y="1006.69" width="4.8" height="4.8"/><rect x="199.90" y="1009.53" width="4.8" height="4.8"/><rect x="211.95" y="1010.67" width="4.8" height="4.8"/><rect x="224.01" y="1008.40" width="4.8" height="4.8"/><rect x="236.07" y="1001.58" width="4.8" height="4.8"/><rect x="248.13" y="988.52" width="4.8" height="4.8"/><rect x="260.19" y="968.64" width="4.8" height="4.8"/><rect x="272.24" y="946.48" width="4.8" height="4.8"/><rect x="284.30" y="923.48" width="4.8" height="4.8"/><rect x="296.36" y="904.17" width="4.8" height="4.8"/><rect x="308.42" y="887.98" width="4.8" height="4.8"/><rect x="320.48" y="874.63" width="4.8" height="4.8"/><rect x="332.53" y="865.26" width="4.8" height="4.8"/><rect x="344.59" y="857.31" width="4.8" height="4.8"/><rect x="356.65" y="851.63" width="4.8" height="4.8"/><rect x="368.71" y="846.23" width="4.8" height="4.8"/><rect x="380.77" y="842.54" width="4.8" height="4.8"/><rect x="392.82" y="839.13" width="4.8" height="4.8"/><rect x="404.88" y="836.29" width="4.8" height="4.8"/><rect x="416.94" y="833.74" width="4.8" height="4.8"/><rect x="429.00" y="831.46" width="4.8" height="4.8"/><rect x="441.06" y="829.76" width="4.8" height="4.8"/><rect x="453.11" y="827.77" width="4.8" height="4.8"/><rect x="465.17" y="826.35" width="4.8" height="4.8"/><rect x="477.23" y="824.93" width="4.8" height="4.8"/><rect x="489.29" y="823.80" width="4.8" height="4.8"/><rect x="501.35" y="822.94" width="4.8" height="4.8"/><rect x="513.40" y="822.09" width="4.8" height="4.8"/><rect x="525.46" y="820.96" width="4.8" height="4.8"/><rect x="537.52" y="819.25" width="4.8" height="4.8"/><rect x="549.58" y="817.83" width="4.8" height="4.8"/><rect x="561.64" y="816.70" width="4.8" height="4.8"/><rect x="573.69" y="815.84" width="4.8" height="4.8"/><rect x="585.75" y="814.99" width="4.8" height="4.8"/><rect x="597.81" y="814.42" width="4.8" height="4.8"/><rect x="609.87" y="813.57" width="4.8" height="4.8"/><rect x="621.93" y="813.00" width="4.8" height="4.8"/><rect x="633.98" y="812.44" width="4.8" height="4.8"/><rect x="646.04" y="811.87" width="4.8" height="4.8"/><rect x="658.10" y="811.30" width="4.8" height="4.8"/></g>
<g stroke="#2f6fbf"><path d="M57.60 1000.82L60.85 1005.12L57.60 1009.42L54.35 1005.12Z"/><path d="M69.66 996.27L72.91 1000.57L69.66 1004.87L66.41 1000.57Z"/><path d="M81.72 992.01L84.97 996.31L81.72 1000.61L78.47 996.31Z"/><path d="M93.77 988.32L97.02 992.62L93.77 996.92L90.52 992.62Z"/><path d="M105.83 985.48L109.08 989.78L105.83 994.08L102.58 989.78Z"/><path d="M117.89 983.78L121.14 988.08L117.89 992.38L114.64 988.08Z"/><path d="M129.95 984.91L133.20 989.21L129.95 993.51L126.70 989.21Z"/><path d="M142.01 981.79L145.26 986.09L142.01 990.39L138.76 986.09Z"/><path d="M154.06 988.89L157.31 993.19L154.06 997.49L150.81 993.19Z"/><path d="M166.12 997.41L169.37 1001.71L166.12 1006.01L162.87 1001.71Z"/><path d="M178.18 1008.77L181.43 1013.07L178.18 1017.37L174.93 1013.07Z"/><path d="M190.24 1018.42L193.49 1022.72L190.24 1027.02L186.99 1022.72Z"/><path d="M202.30 1017.29L205.55 1021.59L202.30 1025.89L199.05 1021.59Z"/><path d="M214.35 984.63L217.60 988.93L214.35 993.23L211.10 988.93Z"/><path d="M226.41 928.68L229.66 932.98L226.41 937.28L223.16 932.98Z"/><path d="M238.47 879.83L241.72 884.13L238.47 888.43L235.22 884.13Z"/><path d="M250.53 850.58L253.78 854.88L250.53 859.18L247.28 854.88Z"/><path d="M262.59 834.96L265.84 839.26L262.59 843.56L259.34 839.26Z"/><path d="M274.64 827.86L277.89 832.16L274.64 836.46L271.39 832.16Z"/><path d="M286.70 823.88L289.95 828.18L286.70 832.48L283.45 828.18Z"/><path d="M298.76 821.04L302.01 825.34L298.76 829.64L295.51 825.34Z"/><path d="M310.82 818.77L314.07 823.07L310.82 827.37L307.57 823.07Z"/><path d="M322.88 817.07L326.13 821.37L322.88 825.67L319.63 821.37Z"/><path d="M334.93 815.08L338.18 819.38L334.93 823.68L331.68 819.38Z"/><path d="M346.99 813.94L350.24 818.24L346.99 822.54L343.74 818.24Z"/><path d="M359.05 812.81L362.30 817.11L359.05 821.41L355.80 817.11Z"/><path d="M371.11 812.24L374.36 816.54L371.11 820.84L367.86 816.54Z"/><path d="M383.17 810.54L386.42 814.84L383.17 819.14L379.92 814.84Z"/><path d="M395.22 809.40L398.47 813.70L395.22 818.00L391.97 813.70Z"/><path d="M407.28 807.98L410.53 812.28L407.28 816.58L404.03 812.28Z"/><path d="M419.34 807.13L422.59 811.43L419.34 815.73L416.09 811.43Z"/><path d="M431.40 805.99L434.65 810.29L431.40 814.59L428.15 810.29Z"/><path d="M443.46 805.14L446.71 809.44L443.46 813.74L440.21 809.44Z"/><path d="M455.51 804.00L458.76 808.30L455.51 812.60L452.26 808.30Z"/><path d="M467.57 803.15L470.82 807.45L467.57 811.75L464.32 807.45Z"/><path d="M479.63 802.30L482.88 806.60L479.63 810.90L476.38 806.60Z"/><path d="M491.69 801.45L494.94 805.75L491.69 810.05L488.44 805.75Z"/><path d="M503.75 800.88L507.00 805.18L503.75 809.48L500.50 805.18Z"/><path d="M515.80 800.31L519.05 804.61L515.80 808.91L512.55 804.61Z"/><path d="M527.86 799.46L531.11 803.76L527.86 808.06L524.61 803.76Z"/><path d="M539.92 798.61L543.17 802.91L539.92 807.21L536.67 802.91Z"/><path d="M551.98 797.76L555.23 802.06L551.98 806.36L548.73 802.06Z"/><path d="M564.04 797.47L567.29 801.77L564.04 806.07L560.79 801.77Z"/><path d="M576.09 796.90L579.34 801.20L576.09 805.50L572.84 801.20Z"/><path d="M588.15 796.62L591.40 800.92L588.15 805.22L584.90 800.92Z"/><path d="M600.21 796.05L603.46 800.35L600.21 804.65L596.96 800.35Z"/><path d="M612.27 795.77L615.52 800.07L612.27 804.37L609.02 800.07Z"/><path d="M624.33 795.20L627.58 799.50L624.33 803.80L621.08 799.50Z"/><path d="M636.38 794.63L639.63 798.93L636.38 803.23L633.13 798.93Z"/><path d="M648.44 794.35L651.69 798.65L648.44 802.95L645.19 798.65Z"/><path d="M660.50 794.06L663.75 798.36L660.50 802.66L657.25 798.36Z"/></g>
</g>
<g font-family='"Liberation Sans", sans-serif' fill="#1a1a1a">
<text x="35.87" y="302.10" font-size="18.40">0</text>
<text x="20.52" y="244.68" font-size="18.40">0.2</text>
<text x="20.52" y="187.26" font-size="18.40">0.4</text>
<text x="20.52" y="129.84" font-size="18.40">0.6</text>
<text x="20.52" y="72.42" font-size="18.40">0.8</text>
<text x="35.87" y="15.00" font-size="18.40"> </text><path d="M763 0L583 0L583 1147Q518 1085 412 1023Q307 961 223 930L223 1104Q374 1175 487 1276Q600 1377 647 1472L763 1472Z" transform="translate(35.87 15.00) scale(0.00898 -0.00898)"/>
<text x="36.55" y="319.20" font-size="18.40">200</text>
<text x="97.63" y="319.20" font-size="18.40">300</text>
<text x="158.71" y="319.20" font-size="18.40">400</text>
<text x="219.79" y="319.20" font-size="18.40">500</text>
<text x="280.87" y="319.20" font-size="18.40">600</text>
<text x="341.95" y="319.20" font-size="18.40">700</text>
<text x="403.03" y="319.20" font-size="18.40">800</text>
<text x="464.11" y="319.20" font-size="18.40">900</text>
<text x="520.07" y="319.20" font-size="18.40"> 000</text><path d="M763 0L583 0L583 1147Q518 1085 412 1023Q307 961 223 930L223 1104Q374 1175 487 1276Q600 1377 647 1472L763 1472Z" transform="translate(520.07 319.20) scale(0.00898 -0.00898)"/>
<text x="581.15" y="319.20" font-size="18.40">  00</text><path d="M763 0L583 0L583 1147Q518 1085 412 1023Q307 961 223 930L223 1104Q374 1175 487 1276Q600 1377 647 1472L763 1472Z" transform="translate(581.15 319.20) scale(0.00898 -0.00898)"/><path d="M763 0L583 0L583 1147Q518 1085 412 1023Q307 961 223 930L223 1104Q374 1175 487 1276Q600 1377 647 1472L763 1472Z" transform="translate(591.39 319.20) scale(0.00898 -0.00898)"/>
<text x="642.23" y="319.20" font-size="18.40"> 200</text><path d="M763 0L583 0L583 1147Q518 1085 412 1023Q307 961 223 930L223 1104Q374 1175 487 1276Q600 1377 647 1472L763 1472Z" transform="translate(642.23 319.20) scale(0.00898 -0.00898)"/>
<text x="357.30" y="343.90" font-size="20.1" text-anchor="middle">Frequency (Hz)</text>
<text x="41.47" y="674.70" font-size="18.40">0</text>
<text x="26.12" y="617.02" font-size="18.40">0.2</text>
<text x="26.12" y="559.34" font-size="18.40">0.4</text>
<text x="26.12" y="501.66" font-size="18.40">0.6</text>
<text x="26.12" y="443.98" font-size="18.40">0.8</text>
<text x="41.47" y="386.30" font-size="18.40"> </text><path d="M763 0L583 0L583 1147Q518 1085 412 1023Q307 961 223 930L223 1104Q374 1175 487 1276Q600 1377 647 1472L763 1472Z" transform="translate(41.47 386.30) scale(0.00898 -0.00898)"/>
<text x="42.15" y="691.80" font-size="18.40">200</text>
<text x="102.37" y="691.80" font-size="18.40">300</text>
<text x="162.59" y="691.80" font-size="18.40">400</text>
<text x="222.81" y="691.80" font-size="18.40">500</text>
<text x="283.03" y="691.80" font-size="18.40">600</text>
<text x="343.25" y="691.80" font-size="18.40">700</text>
<text x="403.47" y="691.80" font-size="18.40">800</text>
<text x="463.69" y="691.80" font-size="18.40">900</text>
<text x="518.79" y="691.80" font-size="18.40"> 000</text><path d="M763 0L583 0L583 1147Q518 1085 412 1023Q307 961 223 930L223 1104Q374 1175 487 1276Q600 1377 647 1472L763 1472Z" transform="translate(518.79 691.80) scale(0.00898 -0.00898)"/>
<text x="579.01" y="691.80" font-size="18.40">  00</text><path d="M763 0L583 0L583 1147Q518 1085 412 1023Q307 961 223 930L223 1104Q374 1175 487 1276Q600 1377 647 1472L763 1472Z" transform="translate(579.01 691.80) scale(0.00898 -0.00898)"/><path d="M763 0L583 0L583 1147Q518 1085 412 1023Q307 961 223 930L223 1104Q374 1175 487 1276Q600 1377 647 1472L763 1472Z" transform="translate(589.25 691.80) scale(0.00898 -0.00898)"/>
<text x="639.23" y="691.80" font-size="18.40"> 200</text><path d="M763 0L583 0L583 1147Q518 1085 412 1023Q307 961 223 930L223 1104Q374 1175 487 1276Q600 1377 647 1472L763 1472Z" transform="translate(639.23 691.80) scale(0.00898 -0.00898)"/>
<text x="358.60" y="716.50" font-size="20.1" text-anchor="middle">Frequency (Hz)</text>
<text x="41.57" y="1047.80" font-size="18.40">0</text>
<text x="26.22" y="991.00" font-size="18.40">0.2</text>
<text x="26.22" y="934.20" font-size="18.40">0.4</text>
<text x="26.22" y="877.40" font-size="18.40">0.6</text>
<text x="26.22" y="820.60" font-size="18.40">0.8</text>
<text x="41.57" y="763.80" font-size="18.40"> </text><path d="M763 0L583 0L583 1147Q518 1085 412 1023Q307 961 223 930L223 1104Q374 1175 487 1276Q600 1377 647 1472L763 1472Z" transform="translate(41.57 763.80) scale(0.00898 -0.00898)"/>
<text x="42.25" y="1064.90" font-size="18.40">200</text>
<text x="102.54" y="1064.90" font-size="18.40">300</text>
<text x="162.83" y="1064.90" font-size="18.40">400</text>
<text x="223.12" y="1064.90" font-size="18.40">500</text>
<text x="283.41" y="1064.90" font-size="18.40">600</text>
<text x="343.70" y="1064.90" font-size="18.40">700</text>
<text x="403.99" y="1064.90" font-size="18.40">800</text>
<text x="464.28" y="1064.90" font-size="18.40">900</text>
<text x="519.45" y="1064.90" font-size="18.40"> 000</text><path d="M763 0L583 0L583 1147Q518 1085 412 1023Q307 961 223 930L223 1104Q374 1175 487 1276Q600 1377 647 1472L763 1472Z" transform="translate(519.45 1064.90) scale(0.00898 -0.00898)"/>
<text x="579.74" y="1064.90" font-size="18.40">  00</text><path d="M763 0L583 0L583 1147Q518 1085 412 1023Q307 961 223 930L223 1104Q374 1175 487 1276Q600 1377 647 1472L763 1472Z" transform="translate(579.74 1064.90) scale(0.00898 -0.00898)"/><path d="M763 0L583 0L583 1147Q518 1085 412 1023Q307 961 223 930L223 1104Q374 1175 487 1276Q600 1377 647 1472L763 1472Z" transform="translate(589.98 1064.90) scale(0.00898 -0.00898)"/>
<text x="640.03" y="1064.90" font-size="18.40"> 200</text><path d="M763 0L583 0L583 1147Q518 1085 412 1023Q307 961 223 930L223 1104Q374 1175 487 1276Q600 1377 647 1472L763 1472Z" transform="translate(640.03 1064.90) scale(0.00898 -0.00898)"/>
<text x="359.05" y="1089.60" font-size="20.1" text-anchor="middle">Frequency (Hz)</text>
<text x="69" y="41.9" font-size="23.5">(a)</text>
<text x="71" y="525.5" font-size="23.5">(b)</text>
<text x="73.5" y="840.5" font-size="23.5">(c)</text>
<text transform="translate(15.0,157.6) rotate(-90)" font-family='"Liberation Serif", serif' font-style="italic" font-size="21">&#945;</text>
<rect x="3.1" y="536.85" width="19" height="1.15" fill="#222"/>
<rect x="3.1" y="516.95" width="19" height="1.15" fill="#222"/>
<text transform="translate(17.3,536.60) rotate(-90) scale(1.3,1)" font-family='"Liberation Serif", serif' font-style="italic" font-size="19.5">T</text>
<text transform="translate(9.9,514.30) rotate(-90)" font-family='"Liberation Serif", serif' font-size="13">2</text>
<rect x="3.1" y="912.45" width="19" height="1.15" fill="#222"/>
<rect x="3.1" y="892.05" width="19" height="1.15" fill="#222"/>
<text transform="translate(17.3,911.00) rotate(-90) scale(1.3,1)" font-family='"Liberation Serif", serif' font-style="italic" font-size="19.5">R</text>
<text transform="translate(9.9,889.40) rotate(-90)" font-family='"Liberation Serif", serif' font-size="13">2</text>
</g>
<rect x="408.40" y="14.50" width="247.90" height="62.40" fill="#fff" stroke="#8c8c8c" stroke-width="1.0"/>
<line x1="410.70" y1="25.40" x2="435.20" y2="25.40" stroke="#f5190f" stroke-width="4.8"/>
<text x="437.10" y="31.90" font-size="16.40" fill="#1a1a1a">SFPA (EMA)</text>
<text x="561.00" y="31.90" font-size="16.40" fill="#1a1a1a">SFPA (FEM)</text>
<line x1="410.70" y1="46.10" x2="435.20" y2="46.10" stroke="#000000" stroke-width="4.8"/>
<text x="437.10" y="52.60" font-size="16.40" fill="#1a1a1a">n=  (EMA)</text><path d="M763 0L583 0L583 1147Q518 1085 412 1023Q307 961 223 930L223 1104Q374 1175 487 1276Q600 1377 647 1472L763 1472Z" transform="translate(455.80 52.60) scale(0.00801 -0.00801)" fill="#1a1a1a"/>
<text x="561.00" y="52.60" font-size="16.40" fill="#1a1a1a">n=  (FEM)</text><path d="M763 0L583 0L583 1147Q518 1085 412 1023Q307 961 223 930L223 1104Q374 1175 487 1276Q600 1377 647 1472L763 1472Z" transform="translate(579.70 52.60) scale(0.00801 -0.00801)" fill="#1a1a1a"/>
<line x1="410.70" y1="66.30" x2="435.20" y2="66.30" stroke="#3a7cc6" stroke-width="4.8"/>
<text x="437.10" y="72.80" font-size="16.40" fill="#1a1a1a">n=2 (EMA)</text>
<text x="561.00" y="72.80" font-size="16.40" fill="#1a1a1a">n=2 (FEM)</text>
<g fill="none" stroke-width="1.4">
<g stroke="#e8201a"><circle cx="547.40" cy="25.40" r="3.3"/></g>
<g stroke="#1a1a1a"><rect x="545.00" y="43.70" width="4.8" height="4.8"/></g>
<g stroke="#2f6fbf"><path d="M547.40 62.00L550.65 66.30L547.40 70.60L544.15 66.30Z"/></g>
</g>
<rect x="408.50" y="385.30" width="244.80" height="62.70" fill="#fff" stroke="#8c8c8c" stroke-width="1.0"/>
<line x1="411.40" y1="396.30" x2="434.80" y2="396.30" stroke="#f5190f" stroke-width="4.8"/>
<text x="436.70" y="402.80" font-size="16.40" fill="#1a1a1a">SFPA (EMA)</text>
<text x="559.40" y="402.80" font-size="16.40" fill="#1a1a1a">SFPA (FEM)</text>
<line x1="411.40" y1="416.80" x2="434.80" y2="416.80" stroke="#000000" stroke-width="4.8"/>
<text x="436.70" y="423.30" font-size="16.40" fill="#1a1a1a">n=  (EMA)</text><path d="M763 0L583 0L583 1147Q518 1085 412 1023Q307 961 223 930L223 1104Q374 1175 487 1276Q600 1377 647 1472L763 1472Z" transform="translate(455.40 423.30) scale(0.00801 -0.00801)" fill="#1a1a1a"/>
<text x="559.40" y="423.30" font-size="16.40" fill="#1a1a1a">n=  (FEM)</text><path d="M763 0L583 0L583 1147Q518 1085 412 1023Q307 961 223 930L223 1104Q374 1175 487 1276Q600 1377 647 1472L763 1472Z" transform="translate(578.10 423.30) scale(0.00801 -0.00801)" fill="#1a1a1a"/>
<line x1="411.40" y1="437.50" x2="434.80" y2="437.50" stroke="#3a7cc6" stroke-width="4.8"/>
<text x="436.70" y="444.00" font-size="16.40" fill="#1a1a1a">n=2 (EMA)</text>
<text x="559.40" y="444.00" font-size="16.40" fill="#1a1a1a">n=2 (FEM)</text>
<g fill="none" stroke-width="1.4">
<g stroke="#e8201a"><circle cx="545.80" cy="396.30" r="3.3"/></g>
<g stroke="#1a1a1a"><rect x="543.40" y="414.40" width="4.8" height="4.8"/></g>
<g stroke="#2f6fbf"><path d="M545.80 433.20L549.05 437.50L545.80 441.80L542.55 437.50Z"/></g>
</g>
<rect x="65.20" y="745.30" width="244.00" height="62.40" fill="#fff" stroke="#8c8c8c" stroke-width="1.0"/>
<line x1="67.30" y1="756.60" x2="90.60" y2="756.60" stroke="#f5190f" stroke-width="4.8"/>
<text x="92.50" y="763.10" font-size="16.40" fill="#1a1a1a">SFPA (EMA)</text>
<text x="216.00" y="763.10" font-size="16.40" fill="#1a1a1a">SFPA (FEM)</text>
<line x1="67.30" y1="777.10" x2="90.60" y2="777.10" stroke="#000000" stroke-width="4.8"/>
<text x="92.50" y="783.60" font-size="16.40" fill="#1a1a1a">n=  (EMA)</text><path d="M763 0L583 0L583 1147Q518 1085 412 1023Q307 961 223 930L223 1104Q374 1175 487 1276Q600 1377 647 1472L763 1472Z" transform="translate(111.20 783.60) scale(0.00801 -0.00801)" fill="#1a1a1a"/>
<text x="216.00" y="783.60" font-size="16.40" fill="#1a1a1a">n=  (FEM)</text><path d="M763 0L583 0L583 1147Q518 1085 412 1023Q307 961 223 930L223 1104Q374 1175 487 1276Q600 1377 647 1472L763 1472Z" transform="translate(234.70 783.60) scale(0.00801 -0.00801)" fill="#1a1a1a"/>
<line x1="67.30" y1="797.50" x2="90.60" y2="797.50" stroke="#3a7cc6" stroke-width="4.8"/>
<text x="92.50" y="804.00" font-size="16.40" fill="#1a1a1a">n=2 (EMA)</text>
<text x="216.00" y="804.00" font-size="16.40" fill="#1a1a1a">n=2 (FEM)</text>
<g fill="none" stroke-width="1.4">
<g stroke="#e8201a"><circle cx="202.40" cy="756.60" r="3.3"/></g>
<g stroke="#1a1a1a"><rect x="200.00" y="774.70" width="4.8" height="4.8"/></g>
<g stroke="#2f6fbf"><path d="M202.40 793.20L205.65 797.50L202.40 801.80L199.15 797.50Z"/></g>
</g>
</svg>
</body></html>
